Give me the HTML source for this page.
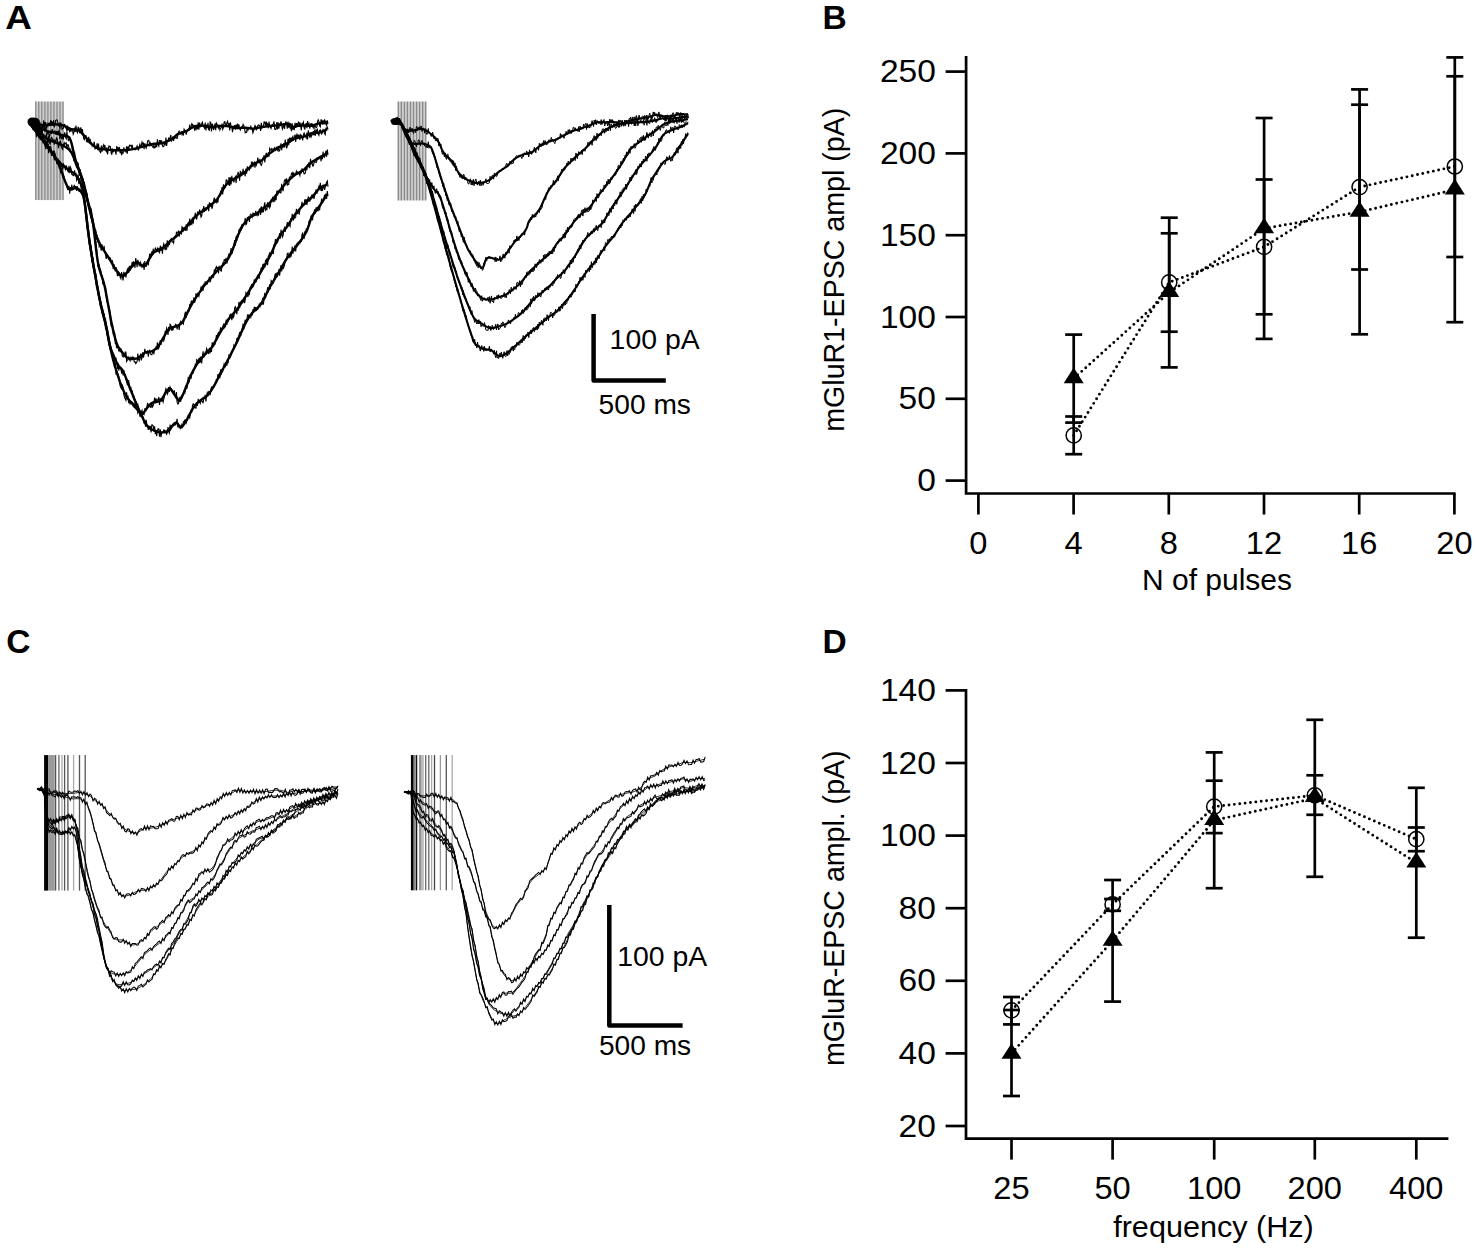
<!DOCTYPE html>
<html><head><meta charset="utf-8"><title>Figure</title>
<style>
html,body{margin:0;padding:0;background:#fff;}
body{width:1476px;height:1250px;overflow:hidden;}
svg{display:block;}
text{font-family:"Liberation Sans", sans-serif;fill:#000;}
</style></head><body>
<svg width="1476" height="1250" viewBox="0 0 1476 1250">
<rect width="1476" height="1250" fill="#fff"/>
<rect x="35.1" y="101.6" width="28.6" height="98.5" fill="#cfcfcf"/>
<line x1="35.8" y1="101.6" x2="35.8" y2="200.1" stroke="#8a8a8a" stroke-width="1.3"/>
<line x1="38.8" y1="101.6" x2="38.8" y2="200.1" stroke="#8a8a8a" stroke-width="1.3"/>
<line x1="41.8" y1="101.6" x2="41.8" y2="200.1" stroke="#8a8a8a" stroke-width="1.3"/>
<line x1="44.9" y1="101.6" x2="44.9" y2="200.1" stroke="#8a8a8a" stroke-width="1.3"/>
<line x1="47.9" y1="101.6" x2="47.9" y2="200.1" stroke="#8a8a8a" stroke-width="1.3"/>
<line x1="50.9" y1="101.6" x2="50.9" y2="200.1" stroke="#8a8a8a" stroke-width="1.3"/>
<line x1="53.9" y1="101.6" x2="53.9" y2="200.1" stroke="#8a8a8a" stroke-width="1.3"/>
<line x1="57.0" y1="101.6" x2="57.0" y2="200.1" stroke="#8a8a8a" stroke-width="1.3"/>
<line x1="60.0" y1="101.6" x2="60.0" y2="200.1" stroke="#8a8a8a" stroke-width="1.3"/>
<line x1="63.0" y1="101.6" x2="63.0" y2="200.1" stroke="#8a8a8a" stroke-width="1.3"/>
<rect x="397.6" y="101.6" width="28.8" height="98.8" fill="#cfcfcf"/>
<line x1="398.3" y1="101.6" x2="398.3" y2="200.4" stroke="#8a8a8a" stroke-width="1.3"/>
<line x1="401.3" y1="101.6" x2="401.3" y2="200.4" stroke="#8a8a8a" stroke-width="1.3"/>
<line x1="404.4" y1="101.6" x2="404.4" y2="200.4" stroke="#8a8a8a" stroke-width="1.3"/>
<line x1="407.4" y1="101.6" x2="407.4" y2="200.4" stroke="#8a8a8a" stroke-width="1.3"/>
<line x1="410.5" y1="101.6" x2="410.5" y2="200.4" stroke="#8a8a8a" stroke-width="1.3"/>
<line x1="413.5" y1="101.6" x2="413.5" y2="200.4" stroke="#8a8a8a" stroke-width="1.3"/>
<line x1="416.6" y1="101.6" x2="416.6" y2="200.4" stroke="#8a8a8a" stroke-width="1.3"/>
<line x1="419.6" y1="101.6" x2="419.6" y2="200.4" stroke="#8a8a8a" stroke-width="1.3"/>
<line x1="422.7" y1="101.6" x2="422.7" y2="200.4" stroke="#8a8a8a" stroke-width="1.3"/>
<line x1="425.7" y1="101.6" x2="425.7" y2="200.4" stroke="#8a8a8a" stroke-width="1.3"/>
<rect x="44.1" y="755.1" width="3.9" height="135.5" fill="#000"/>
<rect x="48.0" y="755.1" width="6.5" height="135.5" fill="#9a9a9a"/>
<line x1="55.5" y1="755.1" x2="55.5" y2="890.6" stroke="#555" stroke-width="1.5"/>
<line x1="58.9" y1="755.1" x2="58.9" y2="890.6" stroke="#666" stroke-width="1.3"/>
<line x1="62.0" y1="755.1" x2="62.0" y2="890.6" stroke="#aaa" stroke-width="1.3"/>
<line x1="64.6" y1="755.1" x2="64.6" y2="890.6" stroke="#555" stroke-width="1.3"/>
<line x1="67.9" y1="755.1" x2="67.9" y2="890.6" stroke="#555" stroke-width="1.3"/>
<line x1="73.6" y1="755.1" x2="73.6" y2="890.6" stroke="#aaa" stroke-width="1.3"/>
<line x1="79.5" y1="755.1" x2="79.5" y2="890.6" stroke="#555" stroke-width="1.3"/>
<line x1="85.2" y1="755.1" x2="85.2" y2="890.6" stroke="#555" stroke-width="1.3"/>
<rect x="410.9" y="755.1" width="2.8" height="135.2" fill="#000"/>
<rect x="413.7" y="755.1" width="2.1" height="135.2" fill="#888"/>
<line x1="416.6" y1="755.1" x2="416.6" y2="890.3" stroke="#111" stroke-width="1.3"/>
<line x1="420.0" y1="755.1" x2="420.0" y2="890.3" stroke="#666" stroke-width="1.4"/>
<rect x="421.0" y="755.1" width="2.8" height="135.2" fill="#bbb"/>
<line x1="425.7" y1="755.1" x2="425.7" y2="890.3" stroke="#666" stroke-width="1.3"/>
<line x1="428.8" y1="755.1" x2="428.8" y2="890.3" stroke="#666" stroke-width="1.3"/>
<line x1="431.6" y1="755.1" x2="431.6" y2="890.3" stroke="#aaa" stroke-width="1.3"/>
<line x1="434.5" y1="755.1" x2="434.5" y2="890.3" stroke="#444" stroke-width="1.3"/>
<line x1="440.4" y1="755.1" x2="440.4" y2="890.3" stroke="#999" stroke-width="1.3"/>
<line x1="446.3" y1="755.1" x2="446.3" y2="890.3" stroke="#555" stroke-width="1.3"/>
<line x1="452.2" y1="755.1" x2="452.2" y2="890.3" stroke="#aaa" stroke-width="1.3"/>
<path d="M29.0,122.0 30.0,122.2 31.0,122.5 32.0,122.8 33.0,123.2 34.0,123.6 35.0,124.0 36.0,124.3 37.0,124.5 38.0,124.7 39.0,124.8 40.0,124.9 41.0,125.0 42.0,125.1 43.0,125.1 44.0,125.2 45.0,125.3 46.0,125.3 47.0,125.2 48.0,125.1 49.0,125.0 50.0,124.9 51.0,124.7 52.0,124.6 53.0,124.4 54.0,124.2 55.0,124.3 56.0,124.4 57.0,124.5 58.0,124.6 59.0,124.7 60.0,124.8 61.0,125.0 62.0,125.1 63.0,125.5 64.0,125.9 65.0,126.3 66.0,126.8 67.0,127.3 68.0,127.8 69.0,128.4 70.0,129.0 71.0,129.3 72.0,129.3 73.0,129.4 74.0,129.5 75.0,129.6 76.0,129.7 77.0,129.9 78.0,130.0 79.0,130.4 80.0,131.3 81.0,132.3 82.0,133.3 83.0,134.3 84.0,135.3 85.0,136.4 86.0,137.6 87.0,138.8 88.0,139.9 89.0,141.0 90.0,142.1 91.0,143.2 92.0,144.3 93.0,145.2 94.0,146.1 95.0,146.9 96.0,147.5 97.0,147.9 98.0,148.3 99.0,148.6 100.0,148.8 101.0,148.9 102.0,149.1 103.0,149.2 104.0,149.3 105.0,149.4 106.0,149.6 107.0,149.7 108.0,149.8 109.0,149.8 110.0,149.9 111.0,149.9 112.0,150.0 113.0,150.1 114.0,150.1 115.0,150.2 116.0,150.2 117.0,150.3 118.0,150.3 119.0,150.3 120.0,150.3 121.0,150.3 122.0,150.3 123.0,150.3 124.0,150.2 125.0,150.2 126.0,150.1 127.0,150.0 128.0,149.8 129.0,149.7 130.0,149.6 131.0,149.4 132.0,149.3 133.0,149.1 134.0,148.9 135.0,148.7 136.0,148.5 137.0,148.3 138.0,148.0 139.0,147.7 140.0,147.4 141.0,147.1 142.0,146.8 143.0,146.5 144.0,146.2 145.0,145.9 146.0,145.6 147.0,145.3 148.0,145.1 149.0,144.8 150.0,144.6 151.0,144.4 152.0,144.1 153.0,143.9 154.0,143.7 155.0,143.7 156.0,143.6 157.0,143.6 158.0,143.5 159.0,143.5 160.0,143.4 161.0,143.3 162.0,143.2 163.0,142.9 164.0,142.5 165.0,142.1 166.0,141.8 167.0,141.4 168.0,141.0 169.0,140.5 170.0,140.1 171.0,139.6 172.0,139.0 173.0,138.3 174.0,137.5 175.0,136.5 176.0,135.5 177.0,134.6 178.0,134.0 179.0,133.5 180.0,133.2 181.0,132.9 182.0,132.5 183.0,132.1 184.0,131.8 185.0,131.4 186.0,131.1 187.0,130.8 188.0,130.1 189.0,129.4 190.0,128.8 191.0,128.3 192.0,127.7 193.0,127.2 194.0,126.7 195.0,126.2 196.0,126.0 197.0,125.9 198.0,125.8 199.0,125.8 200.0,125.7 201.0,125.7 202.0,125.6 203.0,125.6 204.0,125.7 205.0,125.9 206.0,126.1 207.0,126.4 208.0,126.6 209.0,126.8 210.0,127.1 211.0,127.3 212.0,127.4 213.0,127.2 214.0,127.0 215.0,126.8 216.0,126.6 217.0,126.4 218.0,126.2 219.0,126.0 220.0,125.9 221.0,125.9 222.0,125.9 223.0,126.0 224.0,126.0 225.0,126.1 226.0,126.1 227.0,126.1 228.0,126.2 229.0,126.4 230.0,126.6 231.0,126.8 232.0,127.1 233.0,127.3 234.0,127.5 235.0,127.7 236.0,128.0 237.0,128.1 238.0,128.1 239.0,128.0 240.0,128.0 241.0,127.9 242.0,127.9 243.0,127.8 244.0,127.8 245.0,127.7 246.0,127.8 247.0,128.0 248.0,128.1 249.0,128.3 250.0,128.4 251.0,128.5 252.0,128.6 253.0,128.8 254.0,128.6 255.0,128.4 256.0,128.2 257.0,128.0 258.0,127.8 259.0,127.6 260.0,127.4 261.0,127.2 262.0,127.0 263.0,126.9 264.0,126.8 265.0,126.6 266.0,126.5 267.0,126.4 268.0,126.2 269.0,126.1 270.0,126.0 271.0,125.9 272.0,125.8 273.0,125.7 274.0,125.6 275.0,125.5 276.0,125.4 277.0,125.4 278.0,125.3 279.0,125.1 280.0,125.0 281.0,124.8 282.0,124.6 283.0,124.5 284.0,124.4 285.0,124.2 286.0,124.1 287.0,124.0 288.0,124.0 289.0,124.0 290.0,124.2 291.0,125.1 292.0,128.2 293.0,127.7 294.0,127.1 295.0,126.7 296.0,126.4 297.0,126.1 298.0,125.9 299.0,125.8 300.0,125.7 301.0,125.6 302.0,125.5 303.0,125.4 304.0,125.4 305.0,125.5 306.0,125.6 307.0,125.6 308.0,125.7 309.0,125.8 310.0,125.8 311.0,125.9 312.0,125.7 313.0,125.4 314.0,125.0 315.0,124.7 316.0,124.3 317.0,124.0 318.0,123.7 319.0,123.3 320.0,123.0 321.0,123.0 322.0,122.9 323.0,122.9 324.0,122.8 325.0,122.7 326.0,122.7 327.0,122.6" fill="none" stroke="#000" stroke-width="2.40" stroke-linejoin="round"/><path d="M29.0,121.9 29.7,121.2 30.4,122.2 31.1,122.8 31.8,124.3 32.5,124.0 33.2,125.4 33.9,121.8 34.6,121.4 35.3,123.7 36.0,126.4 36.7,122.3 37.4,128.8 38.1,123.2 38.8,127.4 39.5,124.5 40.2,126.5 40.9,123.6 41.6,125.7 42.3,129.0 43.0,126.7 43.7,120.3 44.4,127.9 45.1,122.6 45.8,122.5 46.5,128.4 47.2,125.8 48.0,123.2 48.7,124.0 49.4,123.2 50.1,125.3 50.8,120.0 51.5,123.7 52.2,121.5 52.9,125.7 53.6,120.1 54.3,127.3 55.0,124.9 55.7,120.3 56.4,119.8 57.1,120.1 57.8,122.1 58.5,125.3 59.2,123.9 59.9,129.4 60.6,122.5 61.3,124.2 62.0,129.4 62.7,128.2 63.4,128.2 64.1,124.4 64.8,124.5 65.5,127.6 66.2,126.6 66.9,131.5 67.6,125.6 68.3,130.4 69.0,127.0 69.7,132.3 70.4,129.0 71.1,130.9 71.8,129.1 72.5,129.9 73.2,134.2 73.9,132.5 74.6,127.7 75.3,131.9 76.0,125.5 76.7,131.3 77.4,132.6 78.1,126.9 78.8,128.7 79.5,133.1 80.2,127.9 80.9,127.8 81.6,132.2 82.3,129.0 83.0,134.1 83.7,138.6 84.4,139.7 85.2,136.0 85.9,135.6 86.6,142.1 87.3,138.9 88.0,142.7 88.7,136.9 89.4,143.6 90.1,138.8 90.8,143.9 91.5,142.9 92.2,146.0 92.9,144.4 93.6,144.3 94.3,141.7 95.0,149.4 95.7,145.9 96.4,148.8 97.1,143.3 97.8,150.1 98.5,143.6 99.2,150.8 99.9,151.0 100.6,153.2 101.3,145.5 102.0,151.7 102.7,147.4 103.4,145.0 104.1,147.6 104.8,144.9 105.5,149.9 106.2,151.4 106.9,147.4 107.6,154.4 108.3,148.7 109.0,146.0 109.7,146.8 110.4,146.6 111.1,152.8 111.8,154.8 112.5,148.6 113.2,151.8 113.9,151.0 114.6,149.8 115.3,151.1 116.0,154.7 116.7,146.2 117.4,150.8 118.1,147.6 118.8,148.3 119.5,147.7 120.2,153.3 120.9,149.0 121.6,155.1 122.3,152.3 123.1,153.1 123.8,147.4 124.5,149.4 125.2,150.5 125.9,151.8 126.6,146.4 127.3,153.8 128.0,146.4 128.7,150.2 129.4,145.2 130.1,145.8 130.8,145.2 131.5,147.1 132.2,144.8 132.9,148.8 133.6,148.7 134.3,149.1 135.0,149.8 135.7,149.6 136.4,147.6 137.1,145.8 137.8,147.8 138.5,150.5 139.2,146.9 139.9,144.3 140.6,146.9 141.3,145.7 142.0,142.2 142.7,144.2 143.4,142.5 144.1,149.1 144.8,143.2 145.5,146.5 146.2,148.1 146.9,145.7 147.6,141.4 148.3,140.2 149.0,140.7 149.7,145.0 150.4,143.1 151.1,145.6 151.8,144.7 152.5,146.8 153.2,147.6 153.9,145.0 154.6,147.9 155.3,147.4 156.0,144.2 156.7,147.2 157.4,139.3 158.1,144.3 158.8,146.0 159.5,140.5 160.3,140.6 161.0,142.9 161.7,140.3 162.4,145.9 163.1,146.8 163.8,146.4 164.5,141.0 165.2,145.4 165.9,137.6 166.6,145.9 167.3,140.6 168.0,141.2 168.7,137.7 169.4,141.3 170.1,137.5 170.8,135.0 171.5,140.9 172.2,139.9 172.9,136.4 173.6,140.8 174.3,136.7 175.0,138.1 175.7,136.4 176.4,138.1 177.1,138.5 177.8,135.7 178.5,132.1 179.2,131.1 179.9,134.1 180.6,134.0 181.3,131.4 182.0,134.4 182.7,132.6 183.4,135.5 184.1,129.1 184.8,130.2 185.5,130.9 186.2,134.7 186.9,131.4 187.6,131.0 188.3,129.3 189.0,129.9 189.7,124.6 190.4,129.7 191.1,126.9 191.8,123.8 192.5,124.6 193.2,127.9 193.9,124.9 194.6,130.7 195.3,127.7 196.0,129.3 196.7,126.4 197.5,129.3 198.2,122.2 198.9,129.7 199.6,122.6 200.3,127.2 201.0,125.3 201.7,123.4 202.4,122.1 203.1,126.4 203.8,126.8 204.5,128.2 205.2,122.5 205.9,130.5 206.6,125.7 207.3,127.2 208.0,122.8 208.7,129.7 209.4,130.2 210.1,122.1 210.8,122.6 211.5,131.5 212.2,123.7 212.9,125.6 213.6,130.0 214.3,127.7 215.0,123.3 215.7,130.2 216.4,123.2 217.1,124.5 217.8,124.7 218.5,127.9 219.2,125.7 219.9,129.9 220.6,128.3 221.3,127.5 222.0,123.5 222.7,129.3 223.4,127.6 224.1,122.1 224.8,121.6 225.5,124.5 226.2,125.5 226.9,122.6 227.6,121.2 228.3,125.5 229.0,123.1 229.7,130.5 230.4,122.2 231.1,127.4 231.8,126.6 232.5,132.1 233.2,126.8 233.9,128.3 234.7,125.1 235.4,129.7 236.1,124.5 236.8,128.9 237.5,123.6 238.2,129.0 238.9,124.4 239.6,128.4 240.3,130.0 241.0,128.2 241.7,126.6 242.4,126.6 243.1,124.5 243.8,125.8 244.5,128.1 245.2,132.7 245.9,132.1 246.6,132.4 247.3,127.0 248.0,129.8 248.7,127.3 249.4,127.7 250.1,128.1 250.8,126.3 251.5,128.0 252.2,129.4 252.9,132.9 253.6,130.8 254.3,127.8 255.0,125.4 255.7,127.2 256.4,130.5 257.1,126.8 257.8,125.6 258.5,124.9 259.2,125.2 259.9,125.8 260.6,131.0 261.3,122.9 262.0,127.8 262.7,126.3 263.4,126.3 264.1,121.9 264.8,122.0 265.5,125.6 266.2,121.7 266.9,125.5 267.6,124.1 268.3,128.3 269.0,121.6 269.7,125.7 270.4,127.2 271.1,128.5 271.8,125.4 272.6,124.8 273.3,123.7 274.0,121.3 274.7,129.1 275.4,129.5 276.1,129.0 276.8,122.1 277.5,129.4 278.2,122.2 278.9,128.6 279.6,123.8 280.3,124.2 281.0,121.3 281.7,125.4 282.4,129.1 283.1,127.1 283.8,123.0 284.5,128.9 285.2,123.5 285.9,121.9 286.6,123.6 287.3,128.8 288.0,121.5 288.7,127.8 289.4,122.9 290.1,128.1 290.8,127.9 291.5,131.3 292.2,123.4 292.9,129.6 293.6,125.6 294.3,130.1 295.0,122.7 295.7,127.8 296.4,123.2 297.1,127.0 297.8,123.5 298.5,122.2 299.2,125.4 299.9,122.3 300.6,125.3 301.3,130.3 302.0,123.4 302.7,123.7 303.4,122.1 304.1,127.7 304.8,128.9 305.5,125.1 306.2,123.1 306.9,128.1 307.6,121.1 308.3,125.4 309.0,123.8 309.8,128.7 310.5,123.5 311.2,126.3 311.9,123.2 312.6,126.5 313.3,124.5 314.0,129.3 314.7,124.0 315.4,126.5 316.1,127.8 316.8,127.3 317.5,121.4 318.2,119.8 318.9,121.4 319.6,125.9 320.3,126.9 321.0,119.9 321.7,120.0 322.4,124.6 323.1,120.4 323.8,124.5 324.5,119.3 325.2,124.3 325.9,120.7 326.6,126.2 327.3,120.4 328.0,123.9" fill="none" stroke="#000" stroke-width="1.10" stroke-linejoin="miter" stroke-miterlimit="4"/>
<path d="M29.0,122.0 30.0,122.7 31.0,123.4 32.0,124.0 33.0,124.5 34.0,125.0 35.0,125.4 36.0,125.7 37.0,126.0 38.0,126.5 39.0,127.1 40.0,127.7 41.0,128.2 42.0,128.8 43.0,129.3 44.0,129.8 45.0,130.3 46.0,130.7 47.0,131.1 48.0,131.4 49.0,131.6 50.0,131.9 51.0,132.0 52.0,132.1 53.0,132.2 54.0,132.3 55.0,132.7 56.0,133.1 57.0,133.5 58.0,133.9 59.0,134.3 60.0,134.6 61.0,135.0 62.0,135.4 63.0,135.5 64.0,135.5 65.0,135.7 66.0,135.9 67.0,136.1 68.0,136.5 69.0,137.0 70.0,138.9 71.0,141.5 72.0,145.1 73.0,149.5 74.0,153.9 75.0,157.9 76.0,161.3 77.0,164.3 78.0,167.2 79.0,170.0 80.0,172.9 81.0,175.9 82.0,179.3 83.0,182.9 84.0,186.6 85.0,190.5 86.0,194.6 87.0,198.8 88.0,203.0 89.0,207.2 90.0,211.4 91.0,215.5 92.0,219.3 93.0,223.1 94.0,227.0 95.0,230.7 96.0,234.1 97.0,237.2 98.0,239.7 99.0,242.0 100.0,244.0 101.0,245.8 102.0,247.5 103.0,249.1 104.0,250.6 105.0,252.2 106.0,253.7 107.0,255.2 108.0,256.7 109.0,258.3 110.0,260.0 111.0,261.7 112.0,263.4 113.0,265.1 114.0,266.8 115.0,268.4 116.0,269.9 117.0,271.3 118.0,272.6 119.0,273.7 120.0,274.7 121.0,275.3 122.0,275.5 123.0,275.5 124.0,275.1 125.0,274.5 126.0,273.7 127.0,272.7 128.0,271.6 129.0,270.4 130.0,269.1 131.0,267.8 132.0,266.5 133.0,265.3 134.0,264.2 135.0,263.2 136.0,262.6 137.0,262.3 138.0,262.5 139.0,263.2 140.0,264.2 141.0,265.3 142.0,266.1 143.0,266.4 144.0,266.1 145.0,265.4 146.0,264.3 147.0,262.8 148.0,261.1 149.0,259.5 150.0,257.8 151.0,256.2 152.0,254.7 153.0,253.4 154.0,252.3 155.0,251.8 156.0,251.3 157.0,250.9 158.0,250.6 159.0,250.2 160.0,249.9 161.0,249.6 162.0,249.2 163.0,248.2 164.0,247.2 165.0,246.2 166.0,245.2 167.0,244.2 168.0,243.1 169.0,242.1 170.0,241.0 171.0,240.3 172.0,239.6 173.0,238.9 174.0,238.1 175.0,237.3 176.0,236.5 177.0,235.6 178.0,234.7 179.0,233.8 180.0,233.0 181.0,232.1 182.0,231.2 183.0,230.2 184.0,229.2 185.0,228.2 186.0,227.2 187.0,226.1 188.0,224.9 189.0,223.7 190.0,222.5 191.0,221.3 192.0,220.2 193.0,219.1 194.0,218.0 195.0,217.1 196.0,216.1 197.0,215.2 198.0,214.4 199.0,213.6 200.0,212.9 201.0,212.2 202.0,211.5 203.0,210.8 204.0,210.1 205.0,209.4 206.0,208.7 207.0,207.9 208.0,207.2 209.0,206.4 210.0,205.7 211.0,204.9 212.0,204.0 213.0,203.2 214.0,202.3 215.0,201.4 216.0,200.3 217.0,199.2 218.0,197.9 219.0,196.4 220.0,194.8 221.0,193.2 222.0,191.4 223.0,189.6 224.0,188.0 225.0,186.4 226.0,184.9 227.0,183.6 228.0,182.4 229.0,181.5 230.0,180.9 231.0,180.4 232.0,179.8 233.0,179.4 234.0,178.9 235.0,178.4 236.0,178.0 237.0,177.5 238.0,176.8 239.0,176.1 240.0,175.4 241.0,174.8 242.0,174.1 243.0,173.4 244.0,172.8 245.0,172.1 246.0,171.1 247.0,170.1 248.0,169.1 249.0,168.1 250.0,167.1 251.0,166.1 252.0,165.2 253.0,164.2 254.0,163.6 255.0,163.2 256.0,162.8 257.0,162.4 258.0,162.0 259.0,161.6 260.0,161.2 261.0,160.8 262.0,160.2 263.0,159.3 264.0,158.4 265.0,157.5 266.0,156.6 267.0,155.7 268.0,154.8 269.0,153.9 270.0,153.1 271.0,152.4 272.0,151.7 273.0,151.0 274.0,150.3 275.0,149.6 276.0,148.9 277.0,148.3 278.0,147.6 279.0,147.1 280.0,146.6 281.0,146.1 282.0,145.7 283.0,145.2 284.0,144.8 285.0,144.3 286.0,143.9 287.0,143.4 288.0,142.7 289.0,142.0 290.0,141.4 291.0,140.7 292.0,140.1 293.0,139.5 294.0,138.8 295.0,138.3 296.0,138.1 297.0,138.0 298.0,137.8 299.0,137.6 300.0,137.4 301.0,137.3 302.0,137.1 303.0,137.0 304.0,136.5 305.0,136.1 306.0,135.7 307.0,135.2 308.0,134.8 309.0,134.4 310.0,133.9 311.0,133.5 312.0,133.3 313.0,133.2 314.0,133.1 315.0,133.0 316.0,132.9 317.0,132.8 318.0,132.7 319.0,132.6 320.0,132.4 321.0,132.0 322.0,131.6 323.0,131.2 324.0,130.7 325.0,130.3 326.0,129.9 327.0,129.4" fill="none" stroke="#000" stroke-width="2.40" stroke-linejoin="round"/><path d="M29.0,121.0 29.7,121.4 30.4,123.3 31.1,123.2 31.8,125.5 32.5,123.3 33.2,124.9 33.9,125.1 34.6,121.8 35.3,123.4 36.0,125.4 36.7,123.8 37.4,128.4 38.1,124.8 38.8,131.7 39.5,132.1 40.2,127.2 40.9,127.5 41.6,130.3 42.3,132.9 43.0,126.5 43.7,126.3 44.4,127.5 45.1,131.3 45.8,126.8 46.5,130.7 47.2,134.4 48.0,130.5 48.7,133.6 49.4,136.6 50.1,134.2 50.8,131.6 51.5,133.9 52.2,129.1 52.9,132.6 53.6,133.3 54.3,132.7 55.0,130.3 55.7,134.6 56.4,131.1 57.1,134.8 57.8,130.8 58.5,133.3 59.2,129.9 59.9,139.3 60.6,132.7 61.3,137.1 62.0,139.5 62.7,134.3 63.4,139.3 64.1,134.4 64.8,132.3 65.5,137.1 66.2,138.6 66.9,131.6 67.6,136.7 68.3,140.4 69.0,139.4 69.7,139.8 70.4,138.5 71.1,142.3 71.8,143.3 72.5,150.1 73.2,150.0 73.9,156.6 74.6,151.7 75.3,164.0 76.0,165.7 76.7,167.4 77.4,164.8 78.1,162.7 78.8,168.6 79.5,175.7 80.2,169.3 80.9,178.5 81.6,180.3 82.3,181.3 83.0,185.3 83.7,184.4 84.4,187.8 85.2,190.6 85.9,190.2 86.6,201.4 87.3,199.2 88.0,203.0 88.7,204.7 89.4,209.3 90.1,212.5 90.8,217.1 91.5,215.5 92.2,218.1 92.9,221.8 93.6,222.4 94.3,229.3 95.0,232.3 95.7,231.0 96.4,239.7 97.1,236.4 97.8,242.5 98.5,239.6 99.2,246.7 99.9,245.4 100.6,247.3 101.3,250.6 102.0,244.4 102.7,248.1 103.4,250.3 104.1,245.8 104.8,252.2 105.5,254.2 106.2,258.8 106.9,254.8 107.6,256.8 108.3,256.3 109.0,258.8 109.7,257.5 110.4,258.0 111.1,260.6 111.8,262.6 112.5,260.4 113.2,269.3 113.9,264.2 114.6,268.4 115.3,271.3 116.0,267.1 116.7,269.1 117.4,276.1 118.1,271.1 118.8,275.8 119.5,273.7 120.2,277.4 120.9,278.8 121.6,272.1 122.3,276.6 123.1,280.4 123.8,271.9 124.5,276.6 125.2,272.6 125.9,277.5 126.6,272.4 127.3,269.5 128.0,268.3 128.7,273.0 129.4,265.7 130.1,271.0 130.8,266.1 131.5,266.0 132.2,261.8 132.9,266.7 133.6,261.4 134.3,265.6 135.0,267.8 135.7,258.1 136.4,262.2 137.1,267.3 137.8,259.8 138.5,262.4 139.2,265.5 139.9,264.4 140.6,262.4 141.3,266.4 142.0,264.6 142.7,265.1 143.4,263.7 144.1,270.0 144.8,261.0 145.5,266.3 146.2,266.5 146.9,263.1 147.6,263.3 148.3,265.4 149.0,258.9 149.7,254.0 150.4,254.1 151.1,257.2 151.8,251.3 152.5,255.2 153.2,248.7 153.9,252.8 154.6,251.4 155.3,248.1 156.0,249.4 156.7,250.4 157.4,248.5 158.1,251.7 158.8,247.9 159.5,253.5 160.3,245.7 161.0,250.0 161.7,246.8 162.4,253.8 163.1,246.2 163.8,243.8 164.5,246.3 165.2,250.2 165.9,247.9 166.6,248.9 167.3,240.2 168.0,247.3 168.7,242.1 169.4,245.0 170.1,241.8 170.8,239.3 171.5,238.6 172.2,242.1 172.9,241.8 173.6,243.0 174.3,237.7 175.0,236.5 175.7,238.3 176.4,232.3 177.1,233.1 177.8,232.7 178.5,230.6 179.2,236.6 179.9,231.9 180.6,232.9 181.3,233.8 182.0,226.9 182.7,227.8 183.4,230.2 184.1,227.2 184.8,230.0 185.5,230.3 186.2,224.3 186.9,230.9 187.6,223.9 188.3,222.7 189.0,226.4 189.7,218.5 190.4,225.2 191.1,223.2 191.8,224.2 192.5,217.5 193.2,223.6 193.9,216.9 194.6,216.8 195.3,212.8 196.0,217.3 196.7,219.5 197.5,212.1 198.2,212.0 198.9,214.2 199.6,209.5 200.3,212.3 201.0,217.0 201.7,216.0 202.4,210.0 203.1,211.4 203.8,206.0 204.5,211.9 205.2,208.7 205.9,210.9 206.6,207.2 207.3,209.4 208.0,204.3 208.7,211.1 209.4,202.3 210.1,206.3 210.8,203.0 211.5,206.6 212.2,208.8 212.9,203.7 213.6,200.5 214.3,197.6 215.0,203.0 215.7,199.6 216.4,202.3 217.1,200.4 217.8,202.7 218.5,197.6 219.2,195.2 219.9,195.4 220.6,190.5 221.3,193.8 222.0,187.0 222.7,194.5 223.4,184.3 224.1,186.7 224.8,186.8 225.5,187.2 226.2,179.8 226.9,180.1 227.6,182.4 228.3,185.2 229.0,177.0 229.7,185.9 230.4,177.4 231.1,184.4 231.8,175.9 232.5,181.1 233.2,178.7 233.9,182.3 234.7,178.0 235.4,176.7 236.1,183.0 236.8,175.2 237.5,174.9 238.2,172.0 238.9,175.0 239.6,180.7 240.3,170.8 241.0,176.3 241.7,173.0 242.4,174.4 243.1,168.9 243.8,173.7 244.5,172.7 245.2,176.3 245.9,168.6 246.6,173.6 247.3,166.4 248.0,169.5 248.7,168.9 249.4,169.9 250.1,166.7 250.8,168.5 251.5,162.2 252.2,162.0 252.9,167.0 253.6,164.1 254.3,162.5 255.0,167.6 255.7,162.4 256.4,165.0 257.1,162.7 257.8,157.5 258.5,161.1 259.2,163.3 259.9,158.9 260.6,164.3 261.3,165.3 262.0,163.6 262.7,158.1 263.4,158.5 264.1,155.0 264.8,162.5 265.5,156.8 266.2,152.8 266.9,155.0 267.6,157.1 268.3,152.3 269.0,156.7 269.7,148.4 270.4,149.6 271.1,150.6 271.8,148.5 272.6,149.3 273.3,149.0 274.0,148.8 274.7,147.7 275.4,150.5 276.1,149.9 276.8,147.8 277.5,149.8 278.2,146.3 278.9,151.2 279.6,150.9 280.3,147.9 281.0,143.4 281.7,150.2 282.4,144.0 283.1,147.6 283.8,143.0 284.5,147.5 285.2,139.5 285.9,144.6 286.6,148.4 287.3,146.2 288.0,138.9 288.7,145.1 289.4,137.6 290.1,142.7 290.8,137.6 291.5,141.5 292.2,137.7 292.9,136.4 293.6,139.9 294.3,139.0 295.0,134.6 295.7,142.0 296.4,135.0 297.1,136.6 297.8,134.8 298.5,138.1 299.2,134.5 299.9,140.0 300.6,134.6 301.3,135.3 302.0,136.2 302.7,140.4 303.4,134.8 304.1,133.0 304.8,134.7 305.5,136.3 306.2,137.9 306.9,132.5 307.6,139.5 308.3,130.3 309.0,134.0 309.8,137.7 310.5,132.7 311.2,136.7 311.9,134.9 312.6,134.6 313.3,131.1 314.0,135.4 314.7,129.8 315.4,135.8 316.1,129.8 316.8,131.2 317.5,129.7 318.2,134.1 318.9,135.3 319.6,130.6 320.3,129.8 321.0,131.8 321.7,133.9 322.4,132.3 323.1,129.5 323.8,130.4 324.5,133.5 325.2,134.6 325.9,128.4 326.6,129.1 327.3,126.5 328.0,129.6" fill="none" stroke="#000" stroke-width="1.10" stroke-linejoin="miter" stroke-miterlimit="4"/>
<path d="M29.0,122.0 30.0,122.9 31.0,123.7 32.0,124.5 33.0,125.3 34.0,126.1 35.0,126.8 36.0,127.5 37.0,128.3 38.0,129.3 39.0,130.5 40.0,131.6 41.0,132.7 42.0,133.9 43.0,135.0 44.0,136.1 45.0,137.2 46.0,138.1 47.0,138.7 48.0,139.2 49.0,139.7 50.0,140.2 51.0,140.7 52.0,141.1 53.0,141.4 54.0,141.8 55.0,142.3 56.0,142.7 57.0,143.1 58.0,143.5 59.0,143.9 60.0,144.3 61.0,144.7 62.0,145.1 63.0,145.6 64.0,146.2 65.0,146.7 66.0,147.3 67.0,147.9 68.0,148.7 69.0,149.5 70.0,150.6 71.0,152.0 72.0,153.7 73.0,155.8 74.0,158.0 75.0,160.3 76.0,162.7 77.0,165.1 78.0,167.4 79.0,169.7 80.0,172.3 81.0,175.0 82.0,178.0 83.0,181.3 84.0,184.9 85.0,188.9 86.0,193.2 87.0,197.5 88.0,201.5 89.0,205.2 90.0,208.8 91.0,212.8 92.0,217.5 93.0,223.4 94.0,231.1 95.0,239.7 96.0,248.5 97.0,256.6 98.0,263.0 99.0,267.6 100.0,271.2 101.0,274.3 102.0,277.1 103.0,280.0 104.0,283.5 105.0,288.0 106.0,293.0 107.0,298.5 108.0,304.0 109.0,309.3 110.0,314.8 111.0,320.3 112.0,325.4 113.0,329.6 114.0,333.8 115.0,337.9 116.0,341.4 117.0,344.3 118.0,346.5 119.0,348.1 120.0,349.3 121.0,350.7 122.0,352.1 123.0,353.3 124.0,354.5 125.0,355.6 126.0,356.7 127.0,357.6 128.0,358.2 129.0,358.5 130.0,358.7 131.0,358.8 132.0,358.8 133.0,358.8 134.0,358.8 135.0,358.7 136.0,358.6 137.0,358.5 138.0,357.8 139.0,357.1 140.0,356.4 141.0,355.7 142.0,355.0 143.0,354.2 144.0,353.4 145.0,352.6 146.0,352.3 147.0,352.2 148.0,352.0 149.0,351.8 150.0,351.6 151.0,351.4 152.0,351.1 153.0,350.7 154.0,350.2 155.0,349.3 156.0,348.4 157.0,347.4 158.0,346.3 159.0,345.0 160.0,343.5 161.0,342.0 162.0,340.3 163.0,338.4 164.0,336.6 165.0,334.9 166.0,333.2 167.0,331.7 168.0,330.4 169.0,329.2 170.0,328.2 171.0,327.7 172.0,327.4 173.0,327.1 174.0,326.8 175.0,326.6 176.0,326.3 177.0,326.0 178.0,325.6 179.0,325.1 180.0,324.3 181.0,323.4 182.0,322.3 183.0,321.0 184.0,319.4 185.0,317.7 186.0,315.7 187.0,313.7 188.0,311.6 189.0,309.5 190.0,307.5 191.0,305.6 192.0,303.8 193.0,302.1 194.0,300.6 195.0,299.2 196.0,297.7 197.0,296.1 198.0,294.6 199.0,293.1 200.0,291.6 201.0,290.2 202.0,288.7 203.0,287.3 204.0,286.0 205.0,284.8 206.0,283.6 207.0,282.4 208.0,281.3 209.0,280.1 210.0,278.9 211.0,277.8 212.0,276.6 213.0,275.3 214.0,274.2 215.0,273.1 216.0,272.0 217.0,271.0 218.0,270.0 219.0,269.0 220.0,268.0 221.0,267.1 222.0,266.1 223.0,265.1 224.0,264.1 225.0,262.9 226.0,261.7 227.0,260.3 228.0,258.9 229.0,257.2 230.0,255.3 231.0,253.2 232.0,250.9 233.0,248.5 234.0,245.9 235.0,243.1 236.0,240.4 237.0,237.7 238.0,235.3 239.0,233.0 240.0,230.8 241.0,228.8 242.0,226.9 243.0,225.2 244.0,223.7 245.0,222.5 246.0,221.1 247.0,220.0 248.0,219.0 249.0,218.1 250.0,217.4 251.0,216.8 252.0,216.3 253.0,215.8 254.0,215.2 255.0,214.6 256.0,213.9 257.0,213.2 258.0,212.5 259.0,211.7 260.0,210.9 261.0,210.0 262.0,209.2 263.0,208.6 264.0,207.8 265.0,207.1 266.0,206.2 267.0,205.3 268.0,204.4 269.0,203.5 270.0,202.5 271.0,201.3 272.0,200.1 273.0,198.9 274.0,197.7 275.0,196.4 276.0,195.2 277.0,194.0 278.0,192.7 279.0,191.5 280.0,190.3 281.0,189.0 282.0,187.8 283.0,186.6 284.0,185.4 285.0,184.3 286.0,183.1 287.0,182.0 288.0,181.0 289.0,180.1 290.0,179.1 291.0,178.2 292.0,177.3 293.0,176.4 294.0,175.6 295.0,174.8 296.0,174.2 297.0,173.6 298.0,173.1 299.0,172.6 300.0,172.0 301.0,171.5 302.0,171.0 303.0,170.5 304.0,169.6 305.0,168.5 306.0,167.5 307.0,166.5 308.0,165.6 309.0,164.6 310.0,163.6 311.0,162.6 312.0,161.9 313.0,161.3 314.0,160.7 315.0,160.1 316.0,159.5 317.0,158.9 318.0,158.3 319.0,157.7 320.0,157.1 321.0,156.5 322.0,156.0 323.0,155.4 324.0,154.9 325.0,154.3 326.0,153.8 327.0,153.2" fill="none" stroke="#000" stroke-width="2.40" stroke-linejoin="round"/><path d="M29.0,121.7 29.7,123.6 30.4,123.4 31.1,122.9 31.8,125.7 32.5,126.7 33.2,128.0 33.9,128.0 34.6,129.9 35.3,127.9 36.0,129.5 36.7,127.2 37.4,129.1 38.1,127.6 38.8,126.9 39.5,127.4 40.2,132.1 40.9,128.0 41.6,132.4 42.3,133.0 43.0,139.0 43.7,140.2 44.4,140.0 45.1,138.7 45.8,136.0 46.5,134.4 47.2,140.3 48.0,143.0 48.7,135.9 49.4,141.9 50.1,144.6 50.8,138.9 51.5,137.4 52.2,138.2 52.9,142.8 53.6,139.3 54.3,144.6 55.0,139.9 55.7,142.0 56.4,137.9 57.1,138.4 57.8,143.1 58.5,148.3 59.2,141.6 59.9,143.7 60.6,140.6 61.3,146.6 62.0,148.4 62.7,149.4 63.4,143.5 64.1,145.9 64.8,142.7 65.5,143.8 66.2,143.0 66.9,146.8 67.6,144.7 68.3,144.7 69.0,148.1 69.7,152.0 70.4,149.7 71.1,152.4 71.8,152.4 72.5,156.1 73.2,156.7 73.9,161.4 74.6,157.6 75.3,163.6 76.0,161.6 76.7,162.9 77.4,162.5 78.1,169.7 78.8,171.9 79.5,169.3 80.2,170.4 80.9,179.2 81.6,175.7 82.3,181.3 83.0,178.3 83.7,183.5 84.4,181.9 85.2,191.7 85.9,191.5 86.6,192.0 87.3,194.7 88.0,204.2 88.7,208.4 89.4,206.0 90.1,211.3 90.8,208.3 91.5,210.4 92.2,221.3 92.9,219.9 93.6,229.2 94.3,230.8 95.0,241.9 95.7,241.3 96.4,247.8 97.1,253.8 97.8,266.3 98.5,265.8 99.2,264.8 99.9,268.9 100.6,269.6 101.3,273.9 102.0,275.1 102.7,283.1 103.4,281.6 104.1,282.7 104.8,289.1 105.5,286.3 106.2,295.2 106.9,301.9 107.6,302.9 108.3,304.4 109.0,306.9 109.7,310.3 110.4,321.4 111.1,325.1 111.8,323.4 112.5,324.1 113.2,333.4 113.9,331.9 114.6,332.8 115.3,343.5 116.0,343.6 116.7,348.1 117.4,345.9 118.1,347.4 118.8,351.4 119.5,347.5 120.2,352.2 120.9,348.5 121.6,351.0 122.3,356.1 123.1,356.9 123.8,354.9 124.5,356.1 125.2,352.0 125.9,352.1 126.6,361.4 127.3,359.9 128.0,359.7 128.7,356.5 129.4,359.3 130.1,360.8 130.8,357.8 131.5,359.5 132.2,357.3 132.9,359.2 133.6,356.8 134.3,362.0 135.0,361.7 135.7,363.5 136.4,362.9 137.1,361.3 137.8,353.6 138.5,359.4 139.2,360.8 139.9,357.7 140.6,353.7 141.3,360.4 142.0,357.6 142.7,352.2 143.4,357.6 144.1,354.6 144.8,348.8 145.5,352.1 146.2,353.3 146.9,351.4 147.6,351.0 148.3,356.6 149.0,351.5 149.7,350.4 150.4,354.0 151.1,354.6 151.8,354.8 152.5,352.5 153.2,349.7 153.9,354.3 154.6,349.1 155.3,349.4 156.0,347.4 156.7,349.8 157.4,342.3 158.1,349.5 158.8,347.7 159.5,346.5 160.3,340.0 161.0,344.9 161.7,339.5 162.4,340.1 163.1,337.5 163.8,340.7 164.5,338.6 165.2,330.8 165.9,333.1 166.6,328.0 167.3,329.7 168.0,334.9 168.7,326.9 169.4,331.2 170.1,324.2 170.8,325.0 171.5,330.6 172.2,328.0 172.9,329.8 173.6,328.4 174.3,326.3 175.0,326.0 175.7,324.3 176.4,325.1 177.1,329.5 177.8,325.1 178.5,325.2 179.2,329.9 179.9,323.1 180.6,321.5 181.3,323.9 182.0,323.1 182.7,323.1 183.4,324.1 184.1,318.9 184.8,314.0 185.5,311.7 186.2,317.7 186.9,312.3 187.6,311.4 188.3,310.2 189.0,310.8 189.7,304.0 190.4,306.9 191.1,301.6 191.8,301.0 192.5,302.6 193.2,301.4 193.9,297.3 194.6,302.8 195.3,300.0 196.0,293.4 196.7,295.6 197.5,293.6 198.2,294.9 198.9,296.2 199.6,291.8 200.3,292.0 201.0,286.6 201.7,291.4 202.4,285.2 203.1,290.6 203.8,283.6 204.5,286.3 205.2,281.4 205.9,284.3 206.6,284.1 207.3,284.0 208.0,280.8 208.7,281.0 209.4,276.7 210.1,282.3 210.8,279.6 211.5,275.5 212.2,275.5 212.9,277.7 213.6,277.2 214.3,269.3 215.0,272.8 215.7,267.9 216.4,266.7 217.1,269.5 217.8,266.9 218.5,273.5 219.2,265.9 219.9,269.3 220.6,270.3 221.3,271.0 222.0,266.6 222.7,263.4 223.4,264.4 224.1,259.9 224.8,259.5 225.5,261.9 226.2,257.9 226.9,263.6 227.6,260.0 228.3,256.1 229.0,254.0 229.7,254.5 230.4,252.3 231.1,248.1 231.8,254.2 232.5,251.8 233.2,247.5 233.9,245.4 234.7,240.0 235.4,245.6 236.1,236.2 236.8,240.9 237.5,234.1 238.2,237.3 238.9,229.9 239.6,230.4 240.3,228.1 241.0,230.8 241.7,224.5 242.4,227.1 243.1,224.8 243.8,223.6 244.5,223.9 245.2,218.1 245.9,224.6 246.6,223.9 247.3,217.8 248.0,218.5 248.7,216.4 249.4,222.0 250.1,215.2 250.8,214.1 251.5,215.0 252.2,216.9 252.9,213.0 253.6,213.4 254.3,213.6 255.0,215.6 255.7,210.9 256.4,215.0 257.1,215.7 257.8,211.6 258.5,215.6 259.2,210.0 259.9,208.9 260.6,214.9 261.3,206.4 262.0,212.6 262.7,207.4 263.4,212.3 264.1,206.1 264.8,202.3 265.5,211.0 266.2,209.0 266.9,209.4 267.6,202.4 268.3,207.5 269.0,204.0 269.7,207.7 270.4,205.8 271.1,200.5 271.8,201.3 272.6,196.9 273.3,202.2 274.0,197.1 274.7,201.6 275.4,194.5 276.1,200.1 276.8,190.7 277.5,195.5 278.2,191.0 278.9,192.1 279.6,191.2 280.3,192.8 281.0,192.7 281.7,183.8 282.4,188.9 283.1,191.1 283.8,184.5 284.5,180.2 285.2,179.6 285.9,182.6 286.6,178.3 287.3,185.0 288.0,184.3 288.7,184.4 289.4,177.3 290.1,176.8 290.8,176.8 291.5,173.6 292.2,172.7 292.9,177.2 293.6,172.3 294.3,176.4 295.0,174.0 295.7,173.5 296.4,171.4 297.1,174.7 297.8,172.2 298.5,173.3 299.2,173.8 299.9,175.7 300.6,171.5 301.3,173.4 302.0,168.3 302.7,171.0 303.4,171.3 304.1,173.8 304.8,173.7 305.5,172.1 306.2,166.6 306.9,170.2 307.6,164.0 308.3,165.9 309.0,162.4 309.8,168.3 310.5,158.9 311.2,164.1 311.9,161.6 312.6,165.9 313.3,166.0 314.0,162.9 314.7,161.2 315.4,162.2 316.1,162.6 316.8,161.1 317.5,157.1 318.2,159.2 318.9,159.0 319.6,157.7 320.3,155.9 321.0,161.3 321.7,156.4 322.4,159.2 323.1,151.7 323.8,156.7 324.5,157.3 325.2,155.1 325.9,150.8 326.6,156.7 327.3,149.6 328.0,154.7" fill="none" stroke="#000" stroke-width="1.10" stroke-linejoin="miter" stroke-miterlimit="4"/>
<path d="M29.0,122.0 30.0,123.5 31.0,125.0 32.0,126.4 33.0,127.7 34.0,129.0 35.0,130.1 36.0,131.2 37.0,132.3 38.0,133.4 39.0,134.6 40.0,135.8 41.0,136.9 42.0,138.1 43.0,139.3 44.0,140.4 45.0,141.6 46.0,142.9 47.0,144.5 48.0,146.1 49.0,147.7 50.0,149.3 51.0,150.9 52.0,152.5 53.0,154.1 54.0,155.6 55.0,156.8 56.0,158.1 57.0,159.3 58.0,160.4 59.0,161.6 60.0,162.6 61.0,163.7 62.0,164.7 63.0,165.5 64.0,166.4 65.0,167.1 66.0,168.0 67.0,168.8 68.0,169.6 69.0,170.3 70.0,171.0 71.0,171.5 72.0,172.0 73.0,172.5 74.0,173.2 75.0,174.1 76.0,175.3 77.0,176.6 78.0,178.1 79.0,179.8 80.0,181.8 81.0,184.0 82.0,186.4 83.0,189.2 84.0,196.4 85.0,204.6 86.0,213.0 87.0,221.5 88.0,229.7 89.0,237.4 90.0,244.3 91.0,250.7 92.0,256.8 93.0,262.8 94.0,268.5 95.0,274.2 96.0,279.7 97.0,285.2 98.0,290.6 99.0,295.7 100.0,300.4 101.0,304.9 102.0,309.1 103.0,313.1 104.0,316.9 105.0,320.9 106.0,325.2 107.0,330.0 108.0,335.4 109.0,340.9 110.0,346.0 111.0,350.7 112.0,355.2 113.0,359.3 114.0,363.0 115.0,366.5 116.0,369.7 117.0,372.9 118.0,376.0 119.0,379.0 120.0,381.9 121.0,384.6 122.0,387.2 123.0,389.6 124.0,391.8 125.0,393.9 126.0,395.6 127.0,397.2 128.0,398.7 129.0,400.0 130.0,401.1 131.0,402.3 132.0,403.6 133.0,404.8 134.0,406.0 135.0,407.2 136.0,408.2 137.0,409.2 138.0,410.4 139.0,411.5 140.0,412.3 141.0,412.9 142.0,413.0 143.0,412.7 144.0,412.0 145.0,411.0 146.0,409.7 147.0,408.1 148.0,406.6 149.0,405.4 150.0,404.4 151.0,403.6 152.0,403.0 153.0,402.5 154.0,402.2 155.0,402.1 156.0,402.0 157.0,401.8 158.0,401.6 159.0,401.3 160.0,400.7 161.0,400.0 162.0,398.9 163.0,397.2 164.0,395.5 165.0,393.7 166.0,392.0 167.0,390.6 168.0,389.4 169.0,388.7 170.0,388.6 171.0,389.3 172.0,390.6 173.0,392.1 174.0,393.8 175.0,395.4 176.0,396.6 177.0,397.9 178.0,400.0 179.0,400.7 180.0,400.0 181.0,398.6 182.0,396.8 183.0,394.6 184.0,392.3 185.0,389.8 186.0,387.2 187.0,384.7 188.0,382.2 189.0,379.8 190.0,377.4 191.0,375.1 192.0,373.0 193.0,370.9 194.0,369.0 195.0,367.3 196.0,365.6 197.0,364.1 198.0,362.7 199.0,361.3 200.0,360.0 201.0,358.8 202.0,357.6 203.0,356.4 204.0,355.3 205.0,354.4 206.0,353.4 207.0,352.4 208.0,351.4 209.0,350.4 210.0,349.4 211.0,348.3 212.0,347.0 213.0,345.4 214.0,343.7 215.0,341.9 216.0,340.2 217.0,338.4 218.0,336.5 219.0,334.7 220.0,332.8 221.0,331.2 222.0,329.6 223.0,328.0 224.0,326.4 225.0,324.8 226.0,323.2 227.0,321.7 228.0,320.1 229.0,318.8 230.0,317.5 231.0,316.3 232.0,315.1 233.0,314.0 234.0,312.9 235.0,311.8 236.0,310.6 237.0,309.4 238.0,308.0 239.0,306.6 240.0,305.2 241.0,303.7 242.0,302.2 243.0,300.6 244.0,299.0 245.0,297.5 246.0,295.9 247.0,294.3 248.0,292.7 249.0,291.2 250.0,289.6 251.0,288.0 252.0,286.4 253.0,284.8 254.0,283.1 255.0,281.5 256.0,279.9 257.0,278.2 258.0,276.6 259.0,275.0 260.0,273.3 261.0,271.6 262.0,270.0 263.0,268.3 264.0,266.6 265.0,264.9 266.0,263.1 267.0,261.4 268.0,259.6 269.0,257.8 270.0,255.9 271.0,253.9 272.0,251.7 273.0,249.4 274.0,247.0 275.0,244.7 276.0,242.6 277.0,240.6 278.0,238.8 279.0,237.3 280.0,235.8 281.0,234.5 282.0,233.1 283.0,231.8 284.0,230.6 285.0,229.3 286.0,228.1 287.0,226.7 288.0,225.1 289.0,223.5 290.0,222.0 291.0,220.4 292.0,218.9 293.0,217.4 294.0,215.9 295.0,214.4 296.0,213.3 297.0,212.1 298.0,211.0 299.0,209.8 300.0,208.7 301.0,207.5 302.0,206.4 303.0,205.3 304.0,204.3 305.0,203.4 306.0,202.5 307.0,201.6 308.0,200.7 309.0,199.8 310.0,199.0 311.0,198.2 312.0,197.1 313.0,195.9 314.0,194.7 315.0,193.5 316.0,192.3 317.0,191.2 318.0,190.0 319.0,188.9 320.0,187.9 321.0,187.2 322.0,186.6 323.0,186.1 324.0,185.6 325.0,185.3 326.0,184.9 327.0,184.5" fill="none" stroke="#000" stroke-width="2.40" stroke-linejoin="round"/><path d="M29.0,122.3 29.7,122.6 30.4,125.1 31.1,124.4 31.8,126.8 32.5,126.6 33.2,130.0 33.9,127.0 34.6,128.4 35.3,127.2 36.0,128.4 36.7,127.3 37.4,135.8 38.1,129.2 38.8,136.8 39.5,131.9 40.2,140.1 40.9,137.3 41.6,139.7 42.3,135.8 43.0,138.9 43.7,136.4 44.4,144.2 45.1,146.3 45.8,144.2 46.5,141.8 47.2,140.5 48.0,144.3 48.7,151.2 49.4,150.1 50.1,150.8 50.8,151.7 51.5,150.7 52.2,154.6 52.9,154.5 53.6,151.0 54.3,151.1 55.0,157.3 55.7,158.0 56.4,158.3 57.1,163.9 57.8,159.8 58.5,164.1 59.2,160.5 59.9,163.3 60.6,162.2 61.3,167.1 62.0,164.4 62.7,169.5 63.4,163.4 64.1,165.4 64.8,166.1 65.5,170.5 66.2,165.3 66.9,167.4 67.6,170.7 68.3,171.8 69.0,165.9 69.7,173.2 70.4,167.2 71.1,168.7 71.8,174.4 72.5,174.4 73.2,175.8 73.9,175.3 74.6,170.4 75.3,175.2 76.0,174.0 76.7,180.5 77.4,178.9 78.1,174.3 78.8,184.1 79.5,178.3 80.2,182.8 80.9,187.4 81.6,188.5 82.3,188.5 83.0,185.2 83.7,195.8 84.4,200.5 85.2,205.4 85.9,210.8 86.6,215.0 87.3,227.5 88.0,229.8 88.7,234.6 89.4,242.8 90.1,243.0 90.8,247.4 91.5,257.5 92.2,262.4 92.9,257.2 93.6,269.7 94.3,269.9 95.0,274.7 95.7,275.4 96.4,286.5 97.1,285.2 97.8,291.7 98.5,294.8 99.2,298.3 99.9,298.8 100.6,302.0 101.3,305.2 102.0,309.6 102.7,309.5 103.4,312.7 104.1,314.0 104.8,323.0 105.5,318.3 106.2,327.6 106.9,333.8 107.6,334.8 108.3,340.1 109.0,344.8 109.7,346.3 110.4,349.9 111.1,348.4 111.8,354.9 112.5,355.0 113.2,360.6 113.9,361.8 114.6,368.0 115.3,362.7 116.0,374.8 116.7,371.0 117.4,373.6 118.1,374.1 118.8,376.6 119.5,382.1 120.2,386.2 120.9,387.7 121.6,388.8 122.3,385.3 123.1,387.2 123.8,394.4 124.5,397.3 125.2,398.8 125.9,400.3 126.6,392.4 127.3,398.1 128.0,396.7 128.7,403.3 129.4,399.2 130.1,403.9 130.8,402.4 131.5,402.1 132.2,402.1 132.9,405.0 133.6,403.7 134.3,407.3 135.0,403.0 135.7,406.6 136.4,407.0 137.1,405.6 137.8,412.7 138.5,411.3 139.2,410.8 139.9,415.0 140.6,411.8 141.3,411.9 142.0,410.2 142.7,415.0 143.4,413.6 144.1,414.4 144.8,408.4 145.5,410.7 146.2,408.2 146.9,407.0 147.6,402.9 148.3,406.5 149.0,406.8 149.7,405.4 150.4,407.2 151.1,407.4 151.8,402.7 152.5,406.9 153.2,405.6 153.9,403.1 154.6,397.6 155.3,403.3 156.0,398.3 156.7,402.3 157.4,399.8 158.1,399.4 158.8,397.0 159.5,405.0 160.3,398.2 161.0,400.3 161.7,401.1 162.4,399.9 163.1,402.1 163.8,399.0 164.5,396.4 165.2,391.9 165.9,388.7 166.6,390.7 167.3,394.1 168.0,392.5 168.7,387.0 169.4,391.9 170.1,387.0 170.8,388.5 171.5,391.6 172.2,391.2 172.9,391.5 173.6,394.9 174.3,390.3 175.0,396.2 175.7,398.4 176.4,392.1 177.1,402.1 177.8,404.0 178.5,403.6 179.2,398.0 179.9,397.5 180.6,401.9 181.3,396.1 182.0,395.3 182.7,394.3 183.4,393.3 184.1,390.4 184.8,393.8 185.5,386.0 186.2,386.0 186.9,388.8 187.6,383.5 188.3,376.9 189.0,382.7 189.7,375.6 190.4,374.7 191.1,378.8 191.8,373.1 192.5,371.6 193.2,372.7 193.9,370.3 194.6,369.6 195.3,364.4 196.0,365.2 196.7,359.6 197.5,360.4 198.2,362.9 198.9,358.1 199.6,362.9 200.3,356.5 201.0,362.3 201.7,362.9 202.4,356.6 203.1,351.3 203.8,357.6 204.5,355.7 205.2,352.6 205.9,355.0 206.6,348.5 207.3,349.9 208.0,351.8 208.7,354.0 209.4,347.9 210.1,353.2 210.8,348.2 211.5,351.9 212.2,342.4 212.9,345.8 213.6,346.4 214.3,343.7 215.0,344.3 215.7,341.2 216.4,335.1 217.1,337.4 217.8,333.8 218.5,332.6 219.2,335.6 219.9,332.1 220.6,327.3 221.3,331.0 222.0,328.5 222.7,327.1 223.4,324.7 224.1,327.7 224.8,325.6 225.5,326.5 226.2,319.5 226.9,325.0 227.6,318.6 228.3,320.9 229.0,318.9 229.7,315.5 230.4,314.2 231.1,314.3 231.8,320.1 232.5,313.7 233.2,317.6 233.9,316.3 234.7,307.8 235.4,306.8 236.1,309.6 236.8,314.3 237.5,307.1 238.2,310.9 238.9,302.1 239.6,308.4 240.3,302.2 241.0,303.3 241.7,300.0 242.4,302.6 243.1,302.1 243.8,297.8 244.5,303.1 245.2,300.1 245.9,292.7 246.6,294.2 247.3,295.1 248.0,297.0 248.7,291.1 249.4,295.2 250.1,287.6 250.8,286.7 251.5,284.9 252.2,284.2 252.9,286.9 253.6,285.6 254.3,279.4 255.0,282.6 255.7,279.6 256.4,281.1 257.1,277.6 257.8,275.0 258.5,277.9 259.2,278.3 259.9,272.9 260.6,270.6 261.3,267.4 262.0,271.3 262.7,264.7 263.4,264.2 264.1,266.0 264.8,266.8 265.5,260.3 266.2,260.4 266.9,258.4 267.6,265.2 268.3,255.9 269.0,255.3 269.7,252.4 270.4,256.9 271.1,253.4 271.8,253.2 272.6,253.1 273.3,253.5 274.0,244.4 274.7,246.7 275.4,239.0 276.1,244.1 276.8,240.1 277.5,242.2 278.2,240.0 278.9,238.0 279.6,233.2 280.3,238.6 281.0,229.7 281.7,234.2 282.4,237.1 283.1,235.5 283.8,229.8 284.5,227.9 285.2,231.9 285.9,226.9 286.6,226.8 287.3,222.2 288.0,225.8 288.7,226.1 289.4,224.8 290.1,226.2 290.8,218.3 291.5,221.5 292.2,213.7 292.9,219.0 293.6,219.8 294.3,216.4 295.0,217.9 295.7,217.1 296.4,208.8 297.1,214.1 297.8,212.1 298.5,213.2 299.2,214.0 299.9,210.0 300.6,208.2 301.3,206.4 302.0,201.8 302.7,205.8 303.4,204.5 304.1,204.7 304.8,199.2 305.5,204.5 306.2,199.1 306.9,204.9 307.6,199.2 308.3,197.0 309.0,197.8 309.8,201.6 310.5,197.4 311.2,198.3 311.9,194.6 312.6,197.5 313.3,194.4 314.0,199.0 314.7,195.4 315.4,193.6 316.1,189.4 316.8,193.8 317.5,190.3 318.2,188.4 318.9,186.3 319.6,189.4 320.3,182.8 321.0,191.0 321.7,189.0 322.4,190.9 323.1,185.8 323.8,186.7 324.5,189.9 325.2,187.4 325.9,185.7 326.6,182.2 327.3,181.0 328.0,186.8" fill="none" stroke="#000" stroke-width="1.10" stroke-linejoin="miter" stroke-miterlimit="4"/>
<path d="M29.0,122.0 30.0,123.6 31.0,125.1 32.0,126.5 33.0,127.8 34.0,129.1 35.0,130.3 36.0,131.5 37.0,132.7 38.0,134.0 39.0,135.3 40.0,136.7 41.0,138.0 42.0,139.4 43.0,140.8 44.0,142.1 45.0,143.5 46.0,144.9 47.0,146.2 48.0,147.6 49.0,148.9 50.0,150.3 51.0,151.6 52.0,153.0 53.0,154.4 54.0,155.9 55.0,157.6 56.0,159.4 57.0,161.2 58.0,163.0 59.0,165.0 60.0,167.0 61.0,169.3 62.0,172.0 63.0,175.3 64.0,178.6 65.0,181.1 66.0,183.5 67.0,185.8 68.0,187.7 69.0,188.9 70.0,189.5 71.0,189.6 72.0,189.3 73.0,188.9 74.0,188.5 75.0,188.1 76.0,188.0 77.0,188.2 78.0,188.7 79.0,189.4 80.0,190.4 81.0,191.8 82.0,193.3 83.0,195.0 84.0,199.1 85.0,205.6 86.0,213.6 87.0,222.2 88.0,230.6 89.0,238.4 90.0,245.2 91.0,251.4 92.0,257.3 93.0,263.0 94.0,268.5 95.0,274.0 96.0,279.5 97.0,285.2 98.0,290.8 99.0,296.1 100.0,301.1 101.0,305.8 102.0,310.2 103.0,314.3 104.0,318.3 105.0,322.0 106.0,326.0 107.0,330.7 108.0,336.4 109.0,341.9 110.0,346.1 111.0,349.2 112.0,351.8 113.0,354.4 114.0,356.8 115.0,359.1 116.0,361.2 117.0,363.2 118.0,365.0 119.0,366.3 120.0,367.4 121.0,368.4 122.0,369.7 123.0,371.3 124.0,373.4 125.0,375.6 126.0,378.0 127.0,380.5 128.0,383.0 129.0,385.6 130.0,388.2 131.0,390.7 132.0,393.2 133.0,395.7 134.0,398.2 135.0,400.7 136.0,403.1 137.0,405.4 138.0,407.6 139.0,409.7 140.0,411.8 141.0,414.1 142.0,416.3 143.0,418.5 144.0,420.7 145.0,422.6 146.0,424.3 147.0,425.7 148.0,426.8 149.0,427.8 150.0,428.5 151.0,429.1 152.0,429.5 153.0,429.9 154.0,430.3 155.0,430.7 156.0,431.2 157.0,431.5 158.0,431.8 159.0,432.1 160.0,432.3 161.0,432.4 162.0,432.5 163.0,432.4 164.0,432.3 165.0,432.1 166.0,431.8 167.0,431.3 168.0,430.5 169.0,429.5 170.0,428.3 171.0,427.2 172.0,426.1 173.0,425.0 174.0,423.9 175.0,423.0 176.0,422.6 177.0,422.9 178.0,424.1 179.0,425.9 180.0,427.1 181.0,427.2 182.0,426.7 183.0,425.6 184.0,424.2 185.0,422.7 186.0,421.0 187.0,419.3 188.0,417.4 189.0,415.5 190.0,413.6 191.0,411.7 192.0,410.0 193.0,408.3 194.0,406.8 195.0,405.4 196.0,404.2 197.0,403.1 198.0,402.2 199.0,401.4 200.0,400.7 201.0,400.0 202.0,399.3 203.0,398.6 204.0,398.0 205.0,397.4 206.0,396.6 207.0,395.8 208.0,394.8 209.0,393.7 210.0,392.3 211.0,390.8 212.0,389.2 213.0,387.6 214.0,385.9 215.0,384.1 216.0,382.2 217.0,380.3 218.0,378.4 219.0,376.5 220.0,374.7 221.0,372.7 222.0,370.8 223.0,368.9 224.0,367.0 225.0,365.2 226.0,363.3 227.0,361.5 228.0,359.6 229.0,357.7 230.0,355.8 231.0,353.9 232.0,351.9 233.0,350.0 234.0,348.0 235.0,346.0 236.0,344.0 237.0,341.9 238.0,339.8 239.0,337.6 240.0,335.4 241.0,333.1 242.0,330.9 243.0,328.6 244.0,326.4 245.0,324.2 246.0,322.4 247.0,320.6 248.0,318.8 249.0,317.2 250.0,315.7 251.0,314.4 252.0,313.2 253.0,312.2 254.0,311.2 255.0,310.2 256.0,309.3 257.0,308.4 258.0,307.4 259.0,306.3 260.0,305.2 261.0,303.9 262.0,302.4 263.0,300.6 264.0,298.7 265.0,296.8 266.0,294.8 267.0,292.8 268.0,290.8 269.0,288.7 270.0,286.7 271.0,285.1 272.0,283.5 273.0,281.8 274.0,280.1 275.0,278.5 276.0,276.8 277.0,275.2 278.0,273.5 279.0,271.8 280.0,270.0 281.0,268.3 282.0,266.6 283.0,264.9 284.0,263.2 285.0,261.5 286.0,259.9 287.0,258.3 288.0,256.9 289.0,255.5 290.0,254.2 291.0,252.8 292.0,251.6 293.0,250.3 294.0,249.1 295.0,247.9 296.0,246.6 297.0,245.3 298.0,244.1 299.0,242.8 300.0,241.5 301.0,240.2 302.0,238.9 303.0,237.5 304.0,235.9 305.0,234.2 306.0,232.3 307.0,230.2 308.0,227.7 309.0,224.8 310.0,221.7 311.0,218.9 312.0,216.7 313.0,215.0 314.0,213.5 315.0,212.0 316.0,210.7 317.0,209.4 318.0,208.1 319.0,206.9 320.0,205.5 321.0,203.9 322.0,202.3 323.0,200.7 324.0,199.1 325.0,197.5 326.0,195.9 327.0,194.3" fill="none" stroke="#000" stroke-width="2.40" stroke-linejoin="round"/><path d="M29.0,121.7 29.7,122.2 30.4,123.2 31.1,124.1 31.8,126.5 32.5,126.8 33.2,129.1 33.9,126.0 34.6,127.9 35.3,128.4 36.0,132.7 36.7,137.1 37.4,134.0 38.1,131.7 38.8,138.2 39.5,132.2 40.2,133.1 40.9,136.3 41.6,140.0 42.3,135.0 43.0,143.2 43.7,140.6 44.4,143.3 45.1,139.9 45.8,148.7 46.5,148.1 47.2,148.1 48.0,144.5 48.7,153.3 49.4,146.8 50.1,146.6 50.8,147.0 51.5,155.8 52.2,151.2 52.9,155.0 53.6,152.0 54.3,160.3 55.0,152.8 55.7,159.4 56.4,159.5 57.1,164.2 57.8,158.6 58.5,163.5 59.2,168.1 59.9,167.9 60.6,173.4 61.3,171.6 62.0,171.5 62.7,177.9 63.4,175.4 64.1,177.1 64.8,180.0 65.5,183.6 66.2,183.3 66.9,186.7 67.6,189.6 68.3,189.3 69.0,185.8 69.7,193.8 70.4,187.1 71.1,189.9 71.8,184.6 72.5,190.0 73.2,187.4 73.9,186.2 74.6,185.5 75.3,189.5 76.0,186.1 76.7,190.9 77.4,186.4 78.1,189.9 78.8,191.0 79.5,191.5 80.2,189.5 80.9,189.0 81.6,190.6 82.3,195.5 83.0,191.8 83.7,201.7 84.4,198.8 85.2,205.3 85.9,207.8 86.6,218.9 87.3,228.2 88.0,232.1 88.7,234.2 89.4,245.0 90.1,242.6 90.8,245.1 91.5,249.9 92.2,258.8 92.9,264.4 93.6,269.8 94.3,270.5 95.0,276.2 95.7,272.8 96.4,282.7 97.1,285.2 97.8,288.4 98.5,292.0 99.2,298.3 99.9,302.4 100.6,307.9 101.3,304.9 102.0,312.8 102.7,312.6 103.4,316.3 104.1,314.0 104.8,319.8 105.5,328.7 106.2,328.3 106.9,333.2 107.6,337.2 108.3,337.8 109.0,342.3 109.7,343.1 110.4,348.1 111.1,348.3 111.8,352.2 112.5,351.9 113.2,356.9 113.9,355.4 114.6,359.6 115.3,357.7 116.0,358.1 116.7,362.4 117.4,369.0 118.1,363.3 118.8,370.6 119.5,367.1 120.2,368.0 120.9,367.9 121.6,373.7 122.3,368.5 123.1,375.5 123.8,369.7 124.5,374.8 125.2,374.5 125.9,379.1 126.6,381.4 127.3,384.7 128.0,383.4 128.7,380.2 129.4,388.6 130.1,389.9 130.8,386.9 131.5,393.0 132.2,390.3 132.9,397.1 133.6,395.1 134.3,399.7 135.0,399.8 135.7,406.5 136.4,401.4 137.1,407.4 137.8,403.5 138.5,413.1 139.2,409.4 139.9,416.6 140.6,412.9 141.3,417.5 142.0,415.2 142.7,416.8 143.4,417.3 144.1,423.6 144.8,420.4 145.5,426.8 146.2,419.9 146.9,424.8 147.6,425.4 148.3,429.9 149.0,426.1 149.7,427.1 150.4,426.6 151.1,432.4 151.8,425.0 152.5,425.1 153.2,426.0 153.9,431.7 154.6,426.3 155.3,434.2 156.0,430.4 156.7,436.1 157.4,430.6 158.1,428.7 158.8,428.9 159.5,436.6 160.3,429.3 161.0,437.3 161.7,432.1 162.4,432.2 163.1,431.6 163.8,429.8 164.5,430.4 165.2,432.5 165.9,431.0 166.6,434.1 167.3,432.8 168.0,427.0 168.7,431.9 169.4,433.3 170.1,424.6 170.8,429.6 171.5,428.2 172.2,426.8 172.9,426.3 173.6,425.8 174.3,425.1 175.0,423.8 175.7,424.7 176.4,422.1 177.1,418.8 177.8,426.2 178.5,424.6 179.2,427.6 179.9,426.0 180.6,428.0 181.3,425.0 182.0,427.4 182.7,425.3 183.4,421.8 184.1,422.2 184.8,419.9 185.5,419.8 186.2,422.9 186.9,420.7 187.6,419.9 188.3,414.7 189.0,416.8 189.7,418.0 190.4,413.8 191.1,410.6 191.8,411.7 192.5,405.4 193.2,403.9 193.9,404.4 194.6,407.4 195.3,407.9 196.0,408.1 196.7,402.4 197.5,405.8 198.2,398.8 198.9,403.2 199.6,400.4 200.3,403.2 201.0,400.9 201.7,401.1 202.4,401.4 203.1,403.3 203.8,397.5 204.5,398.1 205.2,394.9 205.9,401.4 206.6,395.9 207.3,392.7 208.0,394.6 208.7,391.7 209.4,392.6 210.1,395.2 210.8,389.7 211.5,387.1 212.2,387.9 212.9,387.4 213.6,385.8 214.3,386.5 215.0,383.4 215.7,383.6 216.4,379.1 217.1,382.0 217.8,374.9 218.5,375.3 219.2,373.8 219.9,378.1 220.6,369.3 221.3,374.7 222.0,370.4 222.7,371.4 223.4,367.8 224.1,364.1 224.8,365.9 225.5,366.6 226.2,362.3 226.9,365.7 227.6,360.8 228.3,362.0 229.0,354.4 229.7,357.5 230.4,357.6 231.1,355.0 231.8,351.2 232.5,349.8 233.2,349.3 233.9,345.0 234.7,346.3 235.4,346.1 236.1,343.4 236.8,338.6 237.5,338.6 238.2,337.4 238.9,335.3 239.6,332.5 240.3,332.0 241.0,335.4 241.7,330.3 242.4,327.8 243.1,323.5 243.8,329.4 244.5,323.3 245.2,319.6 245.9,322.9 246.6,321.7 247.3,316.3 248.0,314.2 248.7,318.1 249.4,316.4 250.1,315.4 250.8,317.2 251.5,313.2 252.2,315.5 252.9,309.3 253.6,311.9 254.3,306.7 255.0,311.3 255.7,307.2 256.4,310.4 257.1,309.7 257.8,309.3 258.5,307.1 259.2,304.3 259.9,306.4 260.6,302.9 261.3,302.8 262.0,303.8 262.7,297.9 263.4,304.7 264.1,297.6 264.8,292.9 265.5,298.5 266.2,293.8 266.9,292.7 267.6,287.2 268.3,291.1 269.0,289.2 269.7,284.2 270.4,289.3 271.1,280.5 271.8,281.5 272.6,281.3 273.3,282.7 274.0,279.4 274.7,276.2 275.4,273.3 276.1,277.2 276.8,273.9 277.5,275.9 278.2,273.7 278.9,269.4 279.6,275.7 280.3,270.7 281.0,265.0 281.7,271.5 282.4,264.8 283.1,269.2 283.8,267.0 284.5,265.3 285.2,260.4 285.9,258.9 286.6,259.4 287.3,253.6 288.0,253.1 288.7,256.4 289.4,257.3 290.1,254.9 290.8,256.7 291.5,254.7 292.2,246.6 292.9,253.8 293.6,249.1 294.3,250.3 295.0,245.3 295.7,251.4 296.4,244.5 297.1,246.0 297.8,243.1 298.5,244.5 299.2,241.9 299.9,243.1 300.6,239.7 301.3,242.0 302.0,234.5 302.7,233.2 303.4,237.5 304.1,238.2 304.8,231.4 305.5,233.9 306.2,229.5 306.9,231.2 307.6,227.1 308.3,228.1 309.0,220.7 309.8,223.4 310.5,218.0 311.2,215.9 311.9,218.4 312.6,220.3 313.3,213.2 314.0,212.2 314.7,209.3 315.4,213.6 316.1,207.2 316.8,210.3 317.5,208.1 318.2,211.3 318.9,205.4 319.6,210.3 320.3,204.1 321.0,203.0 321.7,198.7 322.4,203.2 323.1,201.1 323.8,200.4 324.5,194.7 325.2,198.3 325.9,193.6 326.6,198.9 327.3,191.0 328.0,196.1" fill="none" stroke="#000" stroke-width="1.10" stroke-linejoin="miter" stroke-miterlimit="4"/>
<path d="M391.0,121.0 392.0,120.7 393.0,120.4 394.0,120.1 395.0,120.0 396.0,119.9 397.0,120.1 398.0,120.4 399.0,121.0 400.0,121.7 401.0,122.8 402.0,124.5 403.0,126.4 404.0,128.1 405.0,129.3 406.0,130.1 407.0,130.5 408.0,130.7 409.0,130.8 410.0,130.8 411.0,130.8 412.0,130.7 413.0,130.5 414.0,130.4 415.0,130.3 416.0,130.1 417.0,129.7 418.0,129.3 419.0,129.1 420.0,129.0 421.0,129.0 422.0,129.0 423.0,129.2 424.0,129.4 425.0,129.9 426.0,130.5 427.0,131.1 428.0,131.8 429.0,132.5 430.0,133.3 431.0,134.0 432.0,134.9 433.0,135.7 434.0,136.6 435.0,137.6 436.0,138.7 437.0,139.9 438.0,141.2 439.0,142.9 440.0,144.9 441.0,147.3 442.0,149.6 443.0,151.7 444.0,153.3 445.0,154.5 446.0,155.6 447.0,156.6 448.0,157.5 449.0,158.4 450.0,159.3 451.0,160.3 452.0,161.4 453.0,162.8 454.0,164.5 455.0,166.4 456.0,168.3 457.0,170.2 458.0,171.8 459.0,173.1 460.0,174.2 461.0,175.3 462.0,176.2 463.0,177.1 464.0,177.8 465.0,178.5 466.0,179.1 467.0,179.7 468.0,180.2 469.0,180.6 470.0,181.0 471.0,181.4 472.0,181.8 473.0,182.1 474.0,182.4 475.0,182.7 476.0,182.9 477.0,183.0 478.0,183.1 479.0,183.0 480.0,182.9 481.0,182.8 482.0,182.5 483.0,182.4 484.0,182.2 485.0,181.9 486.0,181.5 487.0,181.1 488.0,180.7 489.0,180.2 490.0,179.7 491.0,178.8 492.0,178.0 493.0,177.1 494.0,176.1 495.0,175.2 496.0,174.3 497.0,173.3 498.0,172.4 499.0,171.6 500.0,170.9 501.0,170.3 502.0,169.6 503.0,168.9 504.0,168.3 505.0,167.7 506.0,167.1 507.0,166.4 508.0,165.4 509.0,164.4 510.0,163.3 511.0,162.3 512.0,161.3 513.0,160.4 514.0,159.4 515.0,158.6 516.0,158.0 517.0,157.4 518.0,156.9 519.0,156.4 520.0,155.9 521.0,155.4 522.0,155.0 523.0,154.5 524.0,154.3 525.0,154.0 526.0,153.8 527.0,153.6 528.0,153.4 529.0,153.1 530.0,152.9 531.0,152.7 532.0,152.2 533.0,151.4 534.0,150.6 535.0,149.8 536.0,149.0 537.0,148.2 538.0,147.4 539.0,146.6 540.0,145.9 541.0,145.4 542.0,144.9 543.0,144.5 544.0,144.0 545.0,143.5 546.0,143.0 547.0,142.6 548.0,142.1 549.0,141.8 550.0,141.4 551.0,141.1 552.0,140.8 553.0,140.5 554.0,140.2 555.0,139.9 556.0,139.6 557.0,139.1 558.0,138.5 559.0,138.0 560.0,137.5 561.0,136.9 562.0,136.4 563.0,135.9 564.0,135.3 565.0,134.8 566.0,134.3 567.0,133.8 568.0,133.3 569.0,132.8 570.0,132.3 571.0,131.8 572.0,131.3 573.0,130.9 574.0,130.6 575.0,130.3 576.0,130.0 577.0,129.7 578.0,129.4 579.0,129.1 580.0,128.8 581.0,128.5 582.0,128.1 583.0,127.7 584.0,127.3 585.0,127.0 586.0,126.6 587.0,126.2 588.0,125.9 589.0,125.5 590.0,125.1 591.0,124.7 592.0,124.3 593.0,123.9 594.0,123.5 595.0,123.1 596.0,122.8 597.0,122.4 598.0,122.2 599.0,122.2 600.0,122.2 601.0,122.2 602.0,122.2 603.0,122.2 604.0,122.3 605.0,122.3 606.0,122.3 607.0,122.2 608.0,122.1 609.0,122.0 610.0,121.9 611.0,121.9 612.0,121.9 613.0,121.9 614.0,122.0 615.0,122.2 616.0,122.5 617.0,122.8 618.0,123.0 619.0,123.3 620.0,123.5 621.0,123.6 622.0,123.8 623.0,123.6 624.0,123.3 625.0,122.9 626.0,122.5 627.0,122.1 628.0,121.6 629.0,121.1 630.0,120.7 631.0,120.3 632.0,120.1 633.0,119.9 634.0,119.7 635.0,119.5 636.0,119.3 637.0,119.1 638.0,118.8 639.0,118.6 640.0,118.5 641.0,118.3 642.0,118.2 643.0,118.1 644.0,117.9 645.0,117.8 646.0,117.7 647.0,117.6 648.0,117.3 649.0,116.9 650.0,116.5 651.0,116.2 652.0,115.9 653.0,115.5 654.0,115.2 655.0,114.9 656.0,114.9 657.0,115.1 658.0,115.3 659.0,115.4 660.0,115.6 661.0,115.8 662.0,116.0 663.0,116.2 664.0,116.3 665.0,116.3 666.0,116.3 667.0,116.2 668.0,116.2 669.0,116.2 670.0,116.2 671.0,116.1 672.0,116.1 673.0,115.8 674.0,115.5 675.0,115.3 676.0,115.0 677.0,114.7 678.0,114.4 679.0,114.2 680.0,113.9 681.0,113.9 682.0,114.0 683.0,114.1 684.0,114.2 685.0,114.3 686.0,114.4 687.0,114.5 688.0,114.5" fill="none" stroke="#000" stroke-width="2.10" stroke-linejoin="round"/><path d="M391.0,121.2 391.7,119.9 392.4,120.4 393.1,120.4 393.8,120.1 394.5,119.4 395.2,120.1 395.9,117.7 396.6,118.5 397.3,121.7 398.0,122.3 398.7,119.5 399.4,118.0 400.1,119.3 400.8,124.0 401.5,124.6 402.2,124.5 403.0,127.3 403.7,128.7 404.4,128.3 405.1,132.8 405.8,129.2 406.5,132.1 407.2,130.8 407.9,128.8 408.6,133.0 409.3,131.2 410.0,127.2 410.7,131.3 411.4,129.9 412.1,128.1 412.8,131.6 413.5,133.7 414.2,129.6 414.9,129.3 415.6,132.6 416.3,126.8 417.0,126.4 417.7,130.3 418.4,127.5 419.1,127.8 419.8,126.6 420.5,129.7 421.2,125.9 421.9,131.5 422.6,128.6 423.3,128.3 424.0,128.4 424.7,133.2 425.5,128.7 426.2,132.7 426.9,134.5 427.6,132.8 428.3,128.5 429.0,133.4 429.7,133.2 430.4,133.9 431.1,136.5 431.8,135.9 432.5,132.2 433.2,134.1 433.9,138.9 434.6,138.3 435.3,139.9 436.0,141.1 436.7,138.3 437.4,138.8 438.1,138.3 438.8,146.0 439.5,142.8 440.2,145.1 440.9,144.0 441.6,150.2 442.3,154.0 443.0,154.4 443.7,151.7 444.4,156.9 445.1,152.8 445.8,157.9 446.5,159.4 447.2,154.8 447.9,153.9 448.7,159.3 449.4,157.5 450.1,161.5 450.8,161.3 451.5,163.3 452.2,159.9 452.9,165.3 453.6,160.8 454.3,166.9 455.0,162.9 455.7,170.5 456.4,165.9 457.1,170.5 457.8,171.3 458.5,174.7 459.2,174.4 459.9,177.3 460.6,176.1 461.3,178.2 462.0,175.5 462.7,179.0 463.4,174.1 464.1,174.8 464.8,179.6 465.5,177.3 466.2,177.5 466.9,178.6 467.6,181.6 468.3,184.0 469.0,183.9 469.7,179.9 470.4,178.8 471.2,185.0 471.9,180.6 472.6,185.1 473.3,179.4 474.0,185.7 474.7,182.9 475.4,179.3 476.1,179.2 476.8,183.7 477.5,185.2 478.2,182.7 478.9,181.0 479.6,185.5 480.3,180.2 481.0,185.9 481.7,183.5 482.4,182.9 483.1,185.3 483.8,182.4 484.5,182.8 485.2,181.1 485.9,178.8 486.6,182.7 487.3,184.0 488.0,183.0 488.7,183.4 489.4,182.8 490.1,176.3 490.8,179.8 491.5,177.2 492.2,175.6 492.9,175.1 493.6,179.2 494.4,172.9 495.1,176.1 495.8,174.9 496.5,176.5 497.2,175.6 497.9,173.4 498.6,171.6 499.3,171.6 500.0,171.7 500.7,171.3 501.4,169.3 502.1,169.3 502.8,168.5 503.5,169.7 504.2,167.8 504.9,167.1 505.6,165.9 506.3,163.8 507.0,163.2 507.7,166.9 508.4,164.5 509.1,165.1 509.8,161.2 510.5,161.5 511.2,164.0 511.9,164.0 512.6,163.0 513.3,163.2 514.0,159.1 514.7,159.7 515.4,158.1 516.1,156.2 516.9,155.4 517.6,157.9 518.3,157.0 519.0,154.9 519.7,155.5 520.4,156.4 521.1,156.6 521.8,158.6 522.5,155.9 523.2,156.9 523.9,153.1 524.6,152.8 525.3,153.5 526.0,154.4 526.7,150.9 527.4,154.9 528.1,152.4 528.8,156.9 529.5,149.8 530.2,153.7 530.9,151.3 531.6,154.4 532.3,152.5 533.0,152.7 533.7,149.9 534.4,147.3 535.1,149.3 535.8,152.9 536.5,147.8 537.2,149.1 537.9,147.1 538.6,150.3 539.3,143.3 540.1,146.2 540.8,143.8 541.5,146.5 542.2,142.8 542.9,145.6 543.6,140.6 544.3,144.5 545.0,140.5 545.7,142.3 546.4,145.1 547.1,143.9 547.8,143.9 548.5,140.2 549.2,139.6 549.9,141.2 550.6,141.0 551.3,137.4 552.0,140.0 552.7,139.4 553.4,141.1 554.1,142.4 554.8,143.6 555.5,141.0 556.2,138.5 556.9,140.2 557.6,139.0 558.3,138.7 559.0,137.7 559.7,138.6 560.4,133.5 561.1,137.3 561.8,134.6 562.5,136.8 563.3,135.9 564.0,138.4 564.7,134.5 565.4,135.1 566.1,131.3 566.8,133.2 567.5,134.2 568.2,129.7 568.9,132.3 569.6,129.5 570.3,131.2 571.0,133.7 571.7,130.5 572.4,132.2 573.1,127.4 573.8,127.3 574.5,129.9 575.2,127.7 575.9,129.5 576.6,130.8 577.3,129.3 578.0,131.6 578.7,126.6 579.4,131.6 580.1,126.0 580.8,129.9 581.5,127.8 582.2,127.9 582.9,129.2 583.6,124.0 584.3,125.7 585.0,124.8 585.8,123.3 586.5,129.6 587.2,123.5 587.9,127.9 588.6,125.0 589.3,128.1 590.0,126.5 590.7,127.3 591.4,123.8 592.1,120.7 592.8,123.4 593.5,126.5 594.2,120.1 594.9,122.6 595.6,119.7 596.3,124.9 597.0,120.4 597.7,121.5 598.4,123.3 599.1,121.5 599.8,123.6 600.5,124.4 601.2,119.6 601.9,124.7 602.6,121.1 603.3,121.2 604.0,119.5 604.7,126.0 605.4,123.0 606.1,123.6 606.8,121.4 607.5,125.8 608.2,122.3 609.0,125.3 609.7,119.2 610.4,120.9 611.1,119.5 611.8,123.1 612.5,119.7 613.2,123.3 613.9,125.4 614.6,123.6 615.3,125.3 616.0,124.5 616.7,121.5 617.4,126.5 618.1,122.4 618.8,119.9 619.5,127.1 620.2,126.6 620.9,125.7 621.6,121.6 622.3,120.3 623.0,125.0 623.7,126.3 624.4,120.3 625.1,126.0 625.8,124.0 626.5,120.0 627.2,122.3 627.9,121.3 628.6,120.9 629.3,118.4 630.0,119.5 630.7,117.0 631.5,119.9 632.2,119.5 632.9,116.9 633.6,118.4 634.3,118.9 635.0,116.7 635.7,120.1 636.4,115.5 637.1,118.2 637.8,122.0 638.5,117.2 639.2,115.1 639.9,119.4 640.6,121.9 641.3,119.3 642.0,116.8 642.7,115.9 643.4,116.2 644.1,120.3 644.8,115.4 645.5,116.9 646.2,117.5 646.9,115.1 647.6,119.4 648.3,119.0 649.0,115.3 649.7,113.2 650.4,115.4 651.1,119.5 651.8,116.5 652.5,118.1 653.2,111.9 653.9,114.7 654.7,112.3 655.4,115.7 656.1,114.7 656.8,113.7 657.5,117.6 658.2,116.2 658.9,111.9 659.6,115.4 660.3,114.8 661.0,116.9 661.7,114.8 662.4,115.1 663.1,116.4 663.8,117.0 664.5,117.1 665.2,118.6 665.9,115.1 666.6,118.8 667.3,114.8 668.0,117.3 668.7,115.7 669.4,116.9 670.1,119.5 670.8,114.7 671.5,115.1 672.2,115.3 672.9,112.6 673.6,113.2 674.3,117.9 675.0,118.2 675.7,114.3 676.4,112.3 677.2,115.0 677.9,112.2 678.6,113.3 679.3,116.4 680.0,113.2 680.7,112.8 681.4,116.3 682.1,117.5 682.8,113.0 683.5,114.7 684.2,114.7 684.9,116.6 685.6,117.6 686.3,114.6 687.0,113.4 687.7,114.0 688.4,118.2" fill="none" stroke="#000" stroke-width="1.00" stroke-linejoin="miter" stroke-miterlimit="4"/>
<path d="M391.0,121.0 392.0,121.0 393.0,120.7 394.0,120.3 395.0,119.9 396.0,119.7 397.0,119.6 398.0,119.9 399.0,120.6 400.0,122.0 401.0,123.9 402.0,126.2 403.0,128.6 404.0,131.1 405.0,133.5 406.0,135.7 407.0,137.7 408.0,139.5 409.0,140.8 410.0,141.8 411.0,142.6 412.0,143.1 413.0,143.5 414.0,143.8 415.0,144.0 416.0,144.1 417.0,143.9 418.0,143.7 419.0,143.6 420.0,143.5 421.0,143.5 422.0,143.5 423.0,143.6 424.0,143.6 425.0,143.9 426.0,144.3 427.0,144.6 428.0,145.1 429.0,145.7 430.0,146.4 431.0,147.3 432.0,149.4 433.0,152.2 434.0,155.1 435.0,158.2 436.0,161.5 437.0,164.8 438.0,168.1 439.0,171.4 440.0,174.7 441.0,177.9 442.0,181.0 443.0,184.1 444.0,187.2 445.0,190.1 446.0,193.0 447.0,195.9 448.0,198.8 449.0,201.6 450.0,204.2 451.0,206.8 452.0,209.3 453.0,211.9 454.0,214.5 455.0,217.1 456.0,219.6 457.0,222.1 458.0,224.8 459.0,227.5 460.0,230.0 461.0,232.6 462.0,235.1 463.0,237.7 464.0,240.2 465.0,242.6 466.0,244.9 467.0,247.1 468.0,249.2 469.0,251.0 470.0,252.7 471.0,254.4 472.0,256.0 473.0,257.5 474.0,258.9 475.0,260.4 476.0,261.8 477.0,263.2 478.0,264.4 479.0,265.6 480.0,266.6 481.0,267.4 482.0,267.9 483.0,267.4 484.0,265.3 485.0,261.7 486.0,259.3 487.0,258.3 488.0,257.8 489.0,257.6 490.0,257.6 491.0,257.8 492.0,258.1 493.0,258.4 494.0,258.7 495.0,259.0 496.0,259.3 497.0,259.5 498.0,259.7 499.0,259.6 500.0,259.3 501.0,258.8 502.0,258.2 503.0,257.4 504.0,256.3 505.0,255.2 506.0,254.0 507.0,252.6 508.0,251.1 509.0,249.7 510.0,248.3 511.0,246.9 512.0,245.5 513.0,244.1 514.0,242.7 515.0,241.3 516.0,240.4 517.0,239.5 518.0,238.6 519.0,237.6 520.0,236.7 521.0,235.7 522.0,234.8 523.0,233.8 524.0,232.5 525.0,231.0 526.0,229.4 527.0,227.4 528.0,223.7 529.0,221.2 530.0,219.6 531.0,218.4 532.0,217.3 533.0,216.5 534.0,215.6 535.0,214.7 536.0,213.7 537.0,212.6 538.0,211.4 539.0,210.1 540.0,208.4 541.0,206.4 542.0,204.3 543.0,202.0 544.0,199.8 545.0,197.6 546.0,195.5 547.0,193.4 548.0,191.5 549.0,190.0 550.0,188.5 551.0,187.2 552.0,185.9 553.0,184.6 554.0,183.4 555.0,182.1 556.0,180.9 557.0,179.5 558.0,177.9 559.0,176.3 560.0,174.8 561.0,173.3 562.0,171.8 563.0,170.3 564.0,168.8 565.0,167.5 566.0,166.5 567.0,165.4 568.0,164.4 569.0,163.4 570.0,162.4 571.0,161.4 572.0,160.5 573.0,159.5 574.0,158.4 575.0,157.4 576.0,156.5 577.0,155.6 578.0,154.7 579.0,153.9 580.0,153.0 581.0,152.2 582.0,151.3 583.0,150.5 584.0,149.6 585.0,148.7 586.0,147.7 587.0,146.7 588.0,145.7 589.0,144.7 590.0,143.6 591.0,142.6 592.0,141.6 593.0,140.6 594.0,139.6 595.0,138.6 596.0,137.6 597.0,136.7 598.0,135.7 599.0,134.9 600.0,134.0 601.0,133.2 602.0,132.4 603.0,131.6 604.0,130.9 605.0,130.2 606.0,129.6 607.0,129.0 608.0,128.4 609.0,127.8 610.0,127.3 611.0,126.9 612.0,126.5 613.0,126.1 614.0,125.7 615.0,125.4 616.0,125.1 617.0,124.8 618.0,124.5 619.0,124.3 620.0,124.0 621.0,123.8 622.0,123.6 623.0,123.5 624.0,123.4 625.0,123.3 626.0,123.2 627.0,123.1 628.0,123.0 629.0,122.9 630.0,122.9 631.0,122.8 632.0,122.7 633.0,122.6 634.0,122.6 635.0,122.5 636.0,122.4 637.0,122.3 638.0,122.3 639.0,122.2 640.0,122.2 641.0,122.1 642.0,122.1 643.0,122.1 644.0,122.0 645.0,122.0 646.0,121.9 647.0,121.9 648.0,121.7 649.0,121.5 650.0,121.3 651.0,121.1 652.0,120.9 653.0,120.6 654.0,120.4 655.0,120.2 656.0,120.0 657.0,119.7 658.0,119.5 659.0,119.2 660.0,119.0 661.0,118.8 662.0,118.5 663.0,118.3 664.0,118.2 665.0,118.2 666.0,118.3 667.0,118.3 668.0,118.3 669.0,118.4 670.0,118.4 671.0,118.5 672.0,118.5 673.0,118.4 674.0,118.3 675.0,118.2 676.0,118.0 677.0,117.9 678.0,117.8 679.0,117.7 680.0,117.6 681.0,117.5 682.0,117.4 683.0,117.2 684.0,117.1 685.0,116.9 686.0,116.8 687.0,116.7 688.0,116.5" fill="none" stroke="#000" stroke-width="2.10" stroke-linejoin="round"/><path d="M391.0,121.3 391.7,121.2 392.4,120.5 393.1,120.6 393.8,121.0 394.5,119.5 395.2,119.8 395.9,119.1 396.6,122.2 397.3,118.1 398.0,120.2 398.7,118.5 399.4,123.6 400.1,122.7 400.8,122.3 401.5,124.4 402.2,128.6 403.0,125.5 403.7,129.5 404.4,131.5 405.1,134.1 405.8,133.1 406.5,137.0 407.2,136.3 407.9,136.3 408.6,143.0 409.3,143.5 410.0,141.6 410.7,143.8 411.4,142.0 412.1,144.9 412.8,143.9 413.5,144.1 414.2,140.3 414.9,140.7 415.6,143.7 416.3,147.0 417.0,143.6 417.7,144.8 418.4,139.9 419.1,140.0 419.8,141.9 420.5,145.9 421.2,142.3 421.9,140.4 422.6,142.6 423.3,144.3 424.0,144.1 424.7,146.0 425.5,145.9 426.2,147.6 426.9,145.1 427.6,147.8 428.3,141.7 429.0,148.3 429.7,145.8 430.4,147.2 431.1,147.0 431.8,149.9 432.5,153.5 433.2,153.2 433.9,153.3 434.6,156.7 435.3,156.8 436.0,161.9 436.7,166.7 437.4,168.2 438.1,167.9 438.8,173.2 439.5,172.0 440.2,177.1 440.9,179.5 441.6,180.7 442.3,183.4 443.0,187.0 443.7,183.2 444.4,191.5 445.1,188.6 445.8,195.8 446.5,194.1 447.2,200.4 447.9,198.4 448.7,204.0 449.4,205.4 450.1,203.1 450.8,203.3 451.5,211.6 452.2,209.2 452.9,213.8 453.6,213.3 454.3,217.5 455.0,217.3 455.7,216.5 456.4,220.4 457.1,223.6 457.8,221.1 458.5,227.1 459.2,231.6 459.9,231.3 460.6,231.0 461.3,236.9 462.0,234.7 462.7,239.0 463.4,242.3 464.1,237.0 464.8,240.4 465.5,244.5 466.2,243.8 466.9,246.1 467.6,249.4 468.3,250.8 469.0,250.5 469.7,252.1 470.4,250.8 471.2,254.8 471.9,253.8 472.6,255.6 473.3,255.6 474.0,260.8 474.7,261.5 475.4,263.7 476.1,263.9 476.8,266.2 477.5,261.8 478.2,267.9 478.9,262.3 479.6,263.7 480.3,265.8 481.0,269.0 481.7,267.5 482.4,270.4 483.1,269.5 483.8,262.9 484.5,263.1 485.2,261.5 485.9,257.2 486.6,261.1 487.3,257.8 488.0,258.0 488.7,256.6 489.4,256.5 490.1,257.8 490.8,258.1 491.5,257.3 492.2,258.3 492.9,257.9 493.6,258.8 494.4,257.6 495.1,261.7 495.8,256.9 496.5,261.5 497.2,258.0 497.9,259.1 498.6,259.9 499.3,260.1 500.0,255.8 500.7,261.9 501.4,260.5 502.1,260.2 502.8,254.9 503.5,253.9 504.2,256.9 504.9,258.2 505.6,252.2 506.3,254.5 507.0,253.5 507.7,252.1 508.4,248.7 509.1,253.2 509.8,245.7 510.5,248.1 511.2,247.0 511.9,246.5 512.6,245.1 513.3,244.1 514.0,240.0 514.7,240.6 515.4,239.0 516.1,241.2 516.9,235.9 517.6,241.0 518.3,238.8 519.0,240.5 519.7,236.1 520.4,237.8 521.1,234.8 521.8,233.4 522.5,233.3 523.2,232.6 523.9,232.1 524.6,235.2 525.3,229.9 526.0,230.3 526.7,226.8 527.4,226.6 528.1,222.6 528.8,222.9 529.5,222.3 530.2,221.1 530.9,217.3 531.6,220.0 532.3,214.4 533.0,217.3 533.7,215.1 534.4,217.4 535.1,215.9 535.8,216.9 536.5,213.3 537.2,214.2 537.9,210.4 538.6,209.9 539.3,212.7 540.1,209.0 540.8,209.7 541.5,208.5 542.2,207.5 542.9,201.9 543.6,200.2 544.3,198.9 545.0,196.6 545.7,199.5 546.4,192.5 547.1,193.8 547.8,191.5 548.5,188.1 549.2,187.5 549.9,188.8 550.6,185.7 551.3,187.4 552.0,184.9 552.7,185.3 553.4,180.3 554.1,184.7 554.8,184.5 555.5,180.9 556.2,181.9 556.9,181.8 557.6,175.8 558.3,180.7 559.0,177.1 559.7,174.4 560.4,175.4 561.1,172.1 561.8,169.0 562.5,169.8 563.3,168.7 564.0,170.5 564.7,169.8 565.4,168.2 566.1,166.6 566.8,163.1 567.5,164.5 568.2,161.1 568.9,162.7 569.6,163.6 570.3,163.9 571.0,158.1 571.7,162.0 572.4,158.5 573.1,160.7 573.8,158.2 574.5,157.0 575.2,160.6 575.9,153.0 576.6,155.1 577.3,158.7 578.0,154.5 578.7,151.6 579.4,153.7 580.1,154.3 580.8,153.7 581.5,150.3 582.2,154.7 582.9,149.4 583.6,150.1 584.3,148.9 585.0,151.3 585.8,147.5 586.5,147.6 587.2,146.0 587.9,142.2 588.6,143.7 589.3,143.9 590.0,141.4 590.7,141.8 591.4,140.4 592.1,145.3 592.8,138.4 593.5,138.3 594.2,135.6 594.9,140.4 595.6,136.5 596.3,140.4 597.0,133.1 597.7,138.5 598.4,134.2 599.1,136.1 599.8,134.3 600.5,134.3 601.2,135.8 601.9,130.9 602.6,128.8 603.3,129.1 604.0,129.0 604.7,133.3 605.4,128.3 606.1,131.8 606.8,130.7 607.5,129.8 608.2,131.0 609.0,128.2 609.7,123.8 610.4,130.8 611.1,123.8 611.8,125.0 612.5,127.7 613.2,127.3 613.9,124.3 614.6,126.2 615.3,128.2 616.0,128.3 616.7,126.5 617.4,121.6 618.1,125.4 618.8,127.5 619.5,120.5 620.2,121.7 620.9,120.2 621.6,126.3 622.3,121.1 623.0,125.0 623.7,123.1 624.4,122.9 625.1,120.2 625.8,122.6 626.5,120.7 627.2,123.6 627.9,120.3 628.6,126.6 629.3,120.8 630.0,122.6 630.7,120.2 631.5,124.3 632.2,119.5 632.9,122.1 633.6,121.7 634.3,126.0 635.0,119.4 635.7,125.8 636.4,120.7 637.1,120.0 637.8,125.8 638.5,124.5 639.2,121.9 639.9,122.7 640.6,122.0 641.3,122.5 642.0,121.9 642.7,123.3 643.4,119.9 644.1,125.2 644.8,123.3 645.5,122.5 646.2,118.5 646.9,125.3 647.6,118.1 648.3,121.8 649.0,123.5 649.7,123.5 650.4,119.4 651.1,120.4 651.8,117.5 652.5,122.5 653.2,120.8 653.9,121.5 654.7,117.7 655.4,120.8 656.1,122.7 656.8,120.4 657.5,121.0 658.2,118.5 658.9,119.7 659.6,115.8 660.3,117.9 661.0,116.1 661.7,115.3 662.4,117.6 663.1,118.1 663.8,119.9 664.5,119.0 665.2,121.4 665.9,117.7 666.6,120.8 667.3,118.1 668.0,119.2 668.7,119.0 669.4,121.5 670.1,116.4 670.8,116.2 671.5,118.2 672.2,119.4 672.9,121.7 673.6,120.4 674.3,115.5 675.0,116.5 675.7,117.4 676.4,121.4 677.2,117.1 677.9,118.4 678.6,120.0 679.3,118.0 680.0,114.9 680.7,120.0 681.4,116.2 682.1,119.0 682.8,115.7 683.5,117.5 684.2,117.4 684.9,118.1 685.6,116.7 686.3,116.2 687.0,115.5 687.7,114.4 688.4,114.8" fill="none" stroke="#000" stroke-width="1.00" stroke-linejoin="miter" stroke-miterlimit="4"/>
<path d="M391.0,121.0 392.0,121.1 393.0,121.0 394.0,120.9 395.0,120.6 396.0,120.4 397.0,120.3 398.0,120.3 399.0,120.6 400.0,121.5 401.0,122.9 402.0,124.5 403.0,126.3 404.0,128.2 405.0,130.2 406.0,132.2 407.0,134.1 408.0,136.1 409.0,138.1 410.0,140.2 411.0,142.3 412.0,144.5 413.0,146.8 414.0,149.1 415.0,151.4 416.0,153.9 417.0,156.2 418.0,158.6 419.0,161.0 420.0,163.4 421.0,165.8 422.0,168.1 423.0,170.4 424.0,172.6 425.0,174.6 426.0,176.5 427.0,178.3 428.0,180.1 429.0,181.7 430.0,183.3 431.0,184.8 432.0,186.3 433.0,187.9 434.0,189.2 435.0,190.2 436.0,191.0 437.0,192.0 438.0,193.2 439.0,194.9 440.0,197.0 441.0,199.5 442.0,202.4 443.0,205.5 444.0,208.7 445.0,212.1 446.0,215.4 447.0,218.9 448.0,222.3 449.0,225.8 450.0,229.1 451.0,232.4 452.0,235.8 453.0,239.0 454.0,242.3 455.0,245.4 456.0,248.5 457.0,251.4 458.0,254.3 459.0,257.1 460.0,259.8 461.0,262.4 462.0,264.9 463.0,267.2 464.0,269.3 465.0,271.4 466.0,273.5 467.0,275.7 468.0,277.9 469.0,280.1 470.0,282.2 471.0,284.1 472.0,286.0 473.0,287.7 474.0,289.3 475.0,290.9 476.0,292.3 477.0,293.5 478.0,294.6 479.0,295.6 480.0,296.6 481.0,297.4 482.0,298.2 483.0,298.6 484.0,298.9 485.0,299.2 486.0,299.4 487.0,299.5 488.0,299.6 489.0,299.6 490.0,299.6 491.0,299.5 492.0,299.3 493.0,299.2 494.0,298.9 495.0,298.6 496.0,298.3 497.0,297.8 498.0,297.4 499.0,297.0 500.0,296.7 501.0,296.4 502.0,296.1 503.0,295.7 504.0,295.3 505.0,294.9 506.0,294.4 507.0,293.9 508.0,293.2 509.0,292.5 510.0,291.7 511.0,291.0 512.0,290.2 513.0,289.4 514.0,288.6 515.0,287.7 516.0,287.0 517.0,286.2 518.0,285.4 519.0,284.4 520.0,283.3 521.0,282.2 522.0,281.1 523.0,280.0 524.0,278.7 525.0,277.3 526.0,276.1 527.0,274.9 528.0,273.8 529.0,272.7 530.0,271.6 531.0,270.6 532.0,269.6 533.0,268.6 534.0,267.6 535.0,266.6 536.0,265.6 537.0,264.6 538.0,263.6 539.0,262.6 540.0,261.7 541.0,260.9 542.0,260.1 543.0,259.3 544.0,258.5 545.0,257.7 546.0,256.9 547.0,256.0 548.0,255.1 549.0,254.2 550.0,253.1 551.0,252.1 552.0,250.9 553.0,249.6 554.0,248.1 555.0,246.5 556.0,244.8 557.0,243.4 558.0,242.2 559.0,241.1 560.0,240.0 561.0,239.0 562.0,238.0 563.0,236.9 564.0,235.9 565.0,234.6 566.0,233.1 567.0,231.7 568.0,230.2 569.0,228.7 570.0,227.3 571.0,225.9 572.0,224.5 573.0,223.1 574.0,221.9 575.0,220.7 576.0,219.6 577.0,218.5 578.0,217.4 579.0,216.3 580.0,215.3 581.0,214.3 582.0,213.5 583.0,212.7 584.0,212.0 585.0,211.2 586.0,210.5 587.0,209.7 588.0,208.9 589.0,208.1 590.0,206.9 591.0,205.6 592.0,204.3 593.0,202.9 594.0,201.5 595.0,200.1 596.0,198.6 597.0,197.1 598.0,195.7 599.0,194.5 600.0,193.3 601.0,192.1 602.0,190.9 603.0,189.6 604.0,188.4 605.0,187.1 606.0,185.8 607.0,184.5 608.0,183.1 609.0,181.8 610.0,180.4 611.0,179.1 612.0,177.8 613.0,176.4 614.0,175.1 615.0,173.6 616.0,172.1 617.0,170.7 618.0,169.3 619.0,167.8 620.0,166.4 621.0,164.9 622.0,163.4 623.0,161.7 624.0,159.9 625.0,158.1 626.0,156.3 627.0,154.6 628.0,153.0 629.0,151.4 630.0,149.9 631.0,148.7 632.0,147.7 633.0,146.8 634.0,146.0 635.0,145.2 636.0,144.4 637.0,143.7 638.0,143.0 639.0,142.3 640.0,141.5 641.0,140.7 642.0,139.9 643.0,139.2 644.0,138.4 645.0,137.6 646.0,136.9 647.0,136.1 648.0,135.5 649.0,135.0 650.0,134.4 651.0,133.8 652.0,133.2 653.0,132.6 654.0,132.0 655.0,131.3 656.0,130.5 657.0,129.6 658.0,128.7 659.0,127.8 660.0,127.0 661.0,126.2 662.0,125.4 663.0,124.7 664.0,124.1 665.0,123.7 666.0,123.2 667.0,122.8 668.0,122.5 669.0,122.2 670.0,121.9 671.0,121.7 672.0,121.4 673.0,121.3 674.0,121.2 675.0,121.0 676.0,120.9 677.0,120.8 678.0,120.7 679.0,120.6 680.0,120.5 681.0,120.4 682.0,120.2 683.0,120.0 684.0,119.8 685.0,119.7 686.0,119.5 687.0,119.3 688.0,119.1" fill="none" stroke="#000" stroke-width="2.10" stroke-linejoin="round"/><path d="M391.0,121.6 391.7,120.9 392.4,121.4 393.1,121.3 393.8,121.3 394.5,121.2 395.2,121.2 395.9,122.0 396.6,119.9 397.3,118.3 398.0,121.3 398.7,120.8 399.4,121.4 400.1,125.0 400.8,122.9 401.5,122.8 402.2,128.1 403.0,125.9 403.7,126.9 404.4,128.1 405.1,133.4 405.8,132.1 406.5,129.5 407.2,134.0 407.9,137.7 408.6,140.0 409.3,140.5 410.0,138.5 410.7,143.0 411.4,142.4 412.1,148.5 412.8,147.6 413.5,150.1 414.2,151.5 414.9,147.6 415.6,152.1 416.3,155.1 417.0,152.9 417.7,159.6 418.4,157.4 419.1,163.4 419.8,160.2 420.5,161.6 421.2,168.8 421.9,167.8 422.6,166.5 423.3,171.4 424.0,175.8 424.7,174.3 425.5,172.7 426.2,174.6 426.9,177.9 427.6,182.0 428.3,178.5 429.0,182.1 429.7,179.5 430.4,185.9 431.1,186.4 431.8,182.5 432.5,187.7 433.2,187.6 433.9,185.8 434.6,190.4 435.3,193.4 436.0,191.7 436.7,188.7 437.4,193.7 438.1,191.3 438.8,196.6 439.5,194.7 440.2,195.7 440.9,197.0 441.6,201.7 442.3,206.8 443.0,208.6 443.7,207.2 444.4,210.9 445.1,213.8 445.8,212.1 446.5,215.6 447.2,220.7 447.9,219.4 448.7,225.2 449.4,229.4 450.1,232.0 450.8,231.3 451.5,232.1 452.2,234.3 452.9,242.3 453.6,240.0 454.3,244.6 455.0,248.9 455.7,247.1 456.4,252.9 457.1,252.9 457.8,252.6 458.5,259.4 459.2,256.4 459.9,258.7 460.6,260.7 461.3,260.7 462.0,262.7 462.7,265.8 463.4,266.5 464.1,270.5 464.8,274.1 465.5,273.6 466.2,276.1 466.9,272.2 467.6,276.4 468.3,282.3 469.0,278.6 469.7,279.4 470.4,282.2 471.2,286.8 471.9,283.2 472.6,285.0 473.3,291.3 474.0,290.8 474.7,290.2 475.4,288.0 476.1,290.5 476.8,291.2 477.5,296.1 478.2,294.6 478.9,296.4 479.6,296.5 480.3,299.1 481.0,300.5 481.7,295.7 482.4,301.3 483.1,299.7 483.8,299.1 484.5,297.7 485.2,299.8 485.9,300.3 486.6,300.2 487.3,298.9 488.0,297.2 488.7,301.6 489.4,296.6 490.1,303.3 490.8,298.7 491.5,295.9 492.2,302.0 492.9,301.1 493.6,302.7 494.4,297.1 495.1,298.8 495.8,297.9 496.5,297.1 497.2,295.3 497.9,299.3 498.6,294.7 499.3,297.1 500.0,296.0 500.7,298.4 501.4,298.5 502.1,297.4 502.8,295.1 503.5,296.5 504.2,292.5 504.9,297.4 505.6,295.4 506.3,297.9 507.0,293.6 507.7,292.7 508.4,294.3 509.1,289.5 509.8,290.0 510.5,293.7 511.2,287.2 511.9,291.4 512.6,289.1 513.3,290.4 514.0,286.6 514.7,288.4 515.4,287.2 516.1,289.5 516.9,282.6 517.6,282.3 518.3,283.9 519.0,283.0 519.7,280.7 520.4,286.7 521.1,283.3 521.8,284.9 522.5,283.0 523.2,280.3 523.9,280.3 524.6,278.0 525.3,275.7 526.0,277.8 526.7,272.4 527.4,275.5 528.1,271.4 528.8,275.2 529.5,270.4 530.2,273.5 530.9,269.2 531.6,272.1 532.3,267.8 533.0,271.9 533.7,267.4 534.4,270.3 535.1,263.8 535.8,265.6 536.5,267.6 537.2,265.5 537.9,262.0 538.6,264.7 539.3,259.7 540.1,260.1 540.8,263.3 541.5,259.9 542.2,260.3 542.9,261.7 543.6,255.1 544.3,258.6 545.0,254.3 545.7,258.4 546.4,254.3 547.1,255.1 547.8,252.9 548.5,256.1 549.2,251.1 549.9,254.1 550.6,251.5 551.3,253.9 552.0,251.3 552.7,253.7 553.4,247.0 554.1,251.6 554.8,246.2 555.5,248.1 556.2,243.8 556.9,243.8 557.6,241.2 558.3,243.4 559.0,239.2 559.7,238.8 560.4,239.0 561.1,241.2 561.8,238.9 562.5,238.3 563.3,233.9 564.0,238.3 564.7,232.6 565.4,237.5 566.1,229.9 566.8,232.7 567.5,227.3 568.2,231.7 568.9,227.1 569.6,227.0 570.3,225.7 571.0,227.8 571.7,224.7 572.4,226.4 573.1,221.9 573.8,219.7 574.5,218.7 575.2,218.4 575.9,219.4 576.6,217.0 577.3,217.0 578.0,214.9 578.7,214.1 579.4,217.5 580.1,217.8 580.8,214.0 581.5,210.9 582.2,209.7 582.9,216.1 583.6,209.3 584.3,210.4 585.0,207.7 585.8,212.5 586.5,209.4 587.2,207.7 587.9,212.1 588.6,210.8 589.3,210.9 590.0,206.7 590.7,209.7 591.4,208.5 592.1,205.8 592.8,199.8 593.5,202.8 594.2,200.1 594.9,200.8 595.6,196.9 596.3,201.5 597.0,193.6 597.7,196.4 598.4,198.0 599.1,196.3 599.8,192.9 600.5,189.4 601.2,190.1 601.9,191.2 602.6,191.3 603.3,191.6 604.0,185.2 604.7,186.8 605.4,184.5 606.1,185.9 606.8,181.3 607.5,183.9 608.2,179.1 609.0,183.8 609.7,183.6 610.4,182.3 611.1,177.4 611.8,179.5 612.5,176.5 613.2,177.1 613.9,175.6 614.6,175.1 615.3,175.4 616.0,174.0 616.7,169.2 617.4,171.9 618.1,165.6 618.8,165.0 619.5,168.0 620.2,168.0 620.9,161.4 621.6,164.8 622.3,160.5 623.0,159.4 623.7,158.1 624.4,161.0 625.1,155.3 625.8,157.8 626.5,151.9 627.2,156.1 627.9,154.1 628.6,154.2 629.3,148.5 630.0,153.3 630.7,146.7 631.5,146.5 632.2,146.4 632.9,148.3 633.6,145.4 634.3,143.6 635.0,148.3 635.7,146.7 636.4,143.5 637.1,143.4 637.8,139.9 638.5,143.6 639.2,139.8 639.9,138.1 640.6,137.5 641.3,142.3 642.0,136.5 642.7,140.7 643.4,135.3 644.1,140.7 644.8,137.5 645.5,140.2 646.2,136.2 646.9,132.4 647.6,135.5 648.3,138.1 649.0,134.5 649.7,132.8 650.4,133.0 651.1,137.0 651.8,132.5 652.5,130.4 653.2,136.0 653.9,132.3 654.7,129.0 655.4,131.4 656.1,127.7 656.8,126.7 657.5,128.7 658.2,125.3 658.9,126.5 659.6,128.3 660.3,130.4 661.0,127.4 661.7,125.0 662.4,126.2 663.1,128.0 663.8,128.0 664.5,122.4 665.2,125.2 665.9,125.3 666.6,126.1 667.3,122.6 668.0,125.4 668.7,118.6 669.4,123.4 670.1,123.3 670.8,118.1 671.5,120.2 672.2,122.6 672.9,118.2 673.6,122.7 674.3,123.3 675.0,121.9 675.7,118.6 676.4,122.0 677.2,123.6 677.9,122.3 678.6,117.2 679.3,122.4 680.0,117.4 680.7,119.0 681.4,122.6 682.1,121.0 682.8,122.0 683.5,122.2 684.2,119.2 684.9,117.9 685.6,116.1 686.3,120.1 687.0,117.7 687.7,116.1 688.4,117.6" fill="none" stroke="#000" stroke-width="1.00" stroke-linejoin="miter" stroke-miterlimit="4"/>
<path d="M391.0,121.0 392.0,120.8 393.0,120.5 394.0,120.1 395.0,119.8 396.0,119.7 397.0,119.7 398.0,120.0 399.0,120.7 400.0,121.6 401.0,122.9 402.0,124.4 403.0,126.2 404.0,128.2 405.0,130.1 406.0,132.0 407.0,133.9 408.0,135.9 409.0,138.0 410.0,140.2 411.0,142.4 412.0,144.5 413.0,146.7 414.0,148.9 415.0,151.0 416.0,153.1 417.0,155.3 418.0,157.4 419.0,159.5 420.0,161.7 421.0,163.9 422.0,166.1 423.0,168.3 424.0,170.5 425.0,173.0 426.0,175.6 427.0,178.3 428.0,181.0 429.0,183.9 430.0,186.9 431.0,189.9 432.0,192.9 433.0,196.5 434.0,199.9 435.0,203.4 436.0,206.9 437.0,210.5 438.0,214.1 439.0,217.7 440.0,221.2 441.0,224.7 442.0,228.2 443.0,231.6 444.0,235.0 445.0,238.3 446.0,241.5 447.0,244.6 448.0,247.7 449.0,250.7 450.0,253.9 451.0,257.1 452.0,260.3 453.0,263.4 454.0,266.5 455.0,269.6 456.0,272.7 457.0,275.8 458.0,278.6 459.0,281.4 460.0,284.1 461.0,286.9 462.0,289.6 463.0,292.2 464.0,294.9 465.0,297.5 466.0,300.1 467.0,302.7 468.0,305.2 469.0,307.6 470.0,310.0 471.0,312.3 472.0,314.4 473.0,316.4 474.0,318.0 475.0,319.1 476.0,320.0 477.0,320.8 478.0,321.5 479.0,322.1 480.0,322.7 481.0,323.2 482.0,323.7 483.0,324.5 484.0,325.2 485.0,325.8 486.0,326.4 487.0,326.9 488.0,327.4 489.0,327.8 490.0,328.1 491.0,328.1 492.0,328.1 493.0,328.0 494.0,327.8 495.0,327.6 496.0,327.3 497.0,327.0 498.0,326.6 499.0,326.3 500.0,326.1 501.0,325.8 502.0,325.5 503.0,325.1 504.0,324.8 505.0,324.4 506.0,323.9 507.0,323.5 508.0,322.9 509.0,322.3 510.0,321.7 511.0,321.1 512.0,320.4 513.0,319.7 514.0,319.0 515.0,318.3 516.0,317.7 517.0,316.9 518.0,316.2 519.0,315.4 520.0,314.5 521.0,313.6 522.0,312.6 523.0,311.6 524.0,310.5 525.0,309.3 526.0,308.2 527.0,307.0 528.0,305.8 529.0,304.6 530.0,303.4 531.0,302.2 532.0,301.1 533.0,300.1 534.0,299.1 535.0,298.2 536.0,297.3 537.0,296.5 538.0,295.7 539.0,295.0 540.0,294.2 541.0,293.3 542.0,292.5 543.0,291.6 544.0,290.8 545.0,289.9 546.0,289.1 547.0,288.2 548.0,287.3 549.0,286.4 550.0,285.4 551.0,284.4 552.0,283.4 553.0,282.3 554.0,281.2 555.0,280.1 556.0,279.0 557.0,278.0 558.0,277.1 559.0,276.2 560.0,275.3 561.0,274.4 562.0,273.4 563.0,272.5 564.0,271.5 565.0,270.3 566.0,269.0 567.0,267.6 568.0,266.2 569.0,264.7 570.0,263.3 571.0,261.8 572.0,260.2 573.0,258.7 574.0,257.4 575.0,256.0 576.0,254.4 577.0,252.8 578.0,251.1 579.0,249.4 580.0,247.7 581.0,246.0 582.0,244.2 583.0,242.5 584.0,240.9 585.0,239.5 586.0,238.2 587.0,237.1 588.0,236.1 589.0,235.1 590.0,234.2 591.0,233.2 592.0,232.4 593.0,231.5 594.0,230.6 595.0,229.8 596.0,228.9 597.0,228.0 598.0,227.2 599.0,226.4 600.0,225.5 601.0,224.5 602.0,223.4 603.0,222.2 604.0,220.8 605.0,219.3 606.0,217.6 607.0,215.8 608.0,214.0 609.0,212.3 610.0,210.6 611.0,209.0 612.0,207.4 613.0,205.9 614.0,204.3 615.0,202.9 616.0,201.5 617.0,200.1 618.0,198.7 619.0,197.3 620.0,195.8 621.0,194.4 622.0,192.9 623.0,191.4 624.0,189.9 625.0,188.4 626.0,186.9 627.0,185.3 628.0,183.7 629.0,182.2 630.0,180.6 631.0,179.0 632.0,177.4 633.0,175.9 634.0,174.3 635.0,172.8 636.0,171.4 637.0,169.9 638.0,168.6 639.0,167.2 640.0,166.0 641.0,164.7 642.0,163.5 643.0,162.4 644.0,161.3 645.0,160.2 646.0,159.1 647.0,158.1 648.0,156.9 649.0,155.7 650.0,154.5 651.0,153.3 652.0,152.1 653.0,150.8 654.0,149.5 655.0,148.1 656.0,146.8 657.0,145.3 658.0,143.7 659.0,141.9 660.0,140.0 661.0,138.2 662.0,136.7 663.0,135.4 664.0,134.3 665.0,133.5 666.0,132.7 667.0,132.2 668.0,131.6 669.0,131.2 670.0,130.8 671.0,130.5 672.0,130.1 673.0,129.7 674.0,129.3 675.0,128.9 676.0,128.5 677.0,128.2 678.0,127.8 679.0,127.5 680.0,127.1 681.0,126.7 682.0,126.3 683.0,125.8 684.0,125.3 685.0,124.9 686.0,124.4 687.0,123.9 688.0,123.4" fill="none" stroke="#000" stroke-width="2.10" stroke-linejoin="round"/><path d="M391.0,120.8 391.7,121.2 392.4,119.9 393.1,119.6 393.8,118.9 394.5,119.4 395.2,119.2 395.9,119.0 396.6,117.7 397.3,116.9 398.0,118.4 398.7,119.1 399.4,123.4 400.1,120.4 400.8,124.6 401.5,123.1 402.2,125.2 403.0,124.8 403.7,128.3 404.4,128.4 405.1,133.9 405.8,129.2 406.5,134.1 407.2,130.5 407.9,135.3 408.6,136.0 409.3,141.9 410.0,143.8 410.7,144.5 411.4,142.6 412.1,146.6 412.8,146.0 413.5,148.1 414.2,152.5 414.9,151.0 415.6,151.9 416.3,154.2 417.0,152.8 417.7,159.0 418.4,157.6 419.1,161.1 419.8,157.8 420.5,163.5 421.2,164.1 421.9,168.1 422.6,167.1 423.3,167.2 424.0,171.5 424.7,172.2 425.5,171.9 426.2,178.7 426.9,176.9 427.6,179.3 428.3,178.1 429.0,184.6 429.7,185.1 430.4,186.8 431.1,189.3 431.8,193.0 432.5,191.2 433.2,197.5 433.9,202.6 434.6,203.7 435.3,204.6 436.0,207.4 436.7,207.2 437.4,213.8 438.1,213.7 438.8,217.9 439.5,216.0 440.2,224.6 440.9,222.2 441.6,230.3 442.3,228.6 443.0,232.8 443.7,231.0 444.4,235.0 445.1,240.2 445.8,243.9 446.5,247.0 447.2,248.6 447.9,244.8 448.7,251.1 449.4,254.3 450.1,254.8 450.8,257.1 451.5,257.9 452.2,263.2 452.9,266.6 453.6,267.9 454.3,268.2 455.0,267.3 455.7,272.8 456.4,270.9 457.1,277.6 457.8,278.8 458.5,280.9 459.2,282.3 459.9,285.0 460.6,284.7 461.3,289.2 462.0,287.3 462.7,294.9 463.4,290.4 464.1,297.1 464.8,295.9 465.5,299.4 466.2,298.7 466.9,302.2 467.6,304.6 468.3,303.8 469.0,308.3 469.7,306.3 470.4,308.7 471.2,314.4 471.9,310.6 472.6,316.0 473.3,315.9 474.0,319.6 474.7,322.4 475.4,319.8 476.1,322.1 476.8,324.0 477.5,320.6 478.2,324.0 478.9,319.6 479.6,323.6 480.3,321.1 481.0,326.7 481.7,325.1 482.4,325.5 483.1,326.4 483.8,325.3 484.5,322.6 485.2,326.2 485.9,330.0 486.6,330.4 487.3,330.0 488.0,330.7 488.7,325.6 489.4,328.9 490.1,326.1 490.8,330.5 491.5,328.6 492.2,325.3 492.9,327.0 493.6,329.6 494.4,326.9 495.1,326.7 495.8,324.2 496.5,329.9 497.2,326.6 497.9,323.9 498.6,329.9 499.3,328.7 500.0,328.5 500.7,326.7 501.4,323.2 502.1,324.2 502.8,321.8 503.5,322.5 504.2,325.7 504.9,327.7 505.6,326.9 506.3,323.2 507.0,322.8 507.7,323.2 508.4,319.9 509.1,322.6 509.8,320.9 510.5,324.0 511.2,320.0 511.9,321.4 512.6,319.7 513.3,319.8 514.0,317.1 514.7,318.0 515.4,314.4 516.1,317.3 516.9,316.1 517.6,317.1 518.3,312.7 519.0,312.7 519.7,314.4 520.4,314.4 521.1,313.2 521.8,310.2 522.5,309.5 523.2,313.6 523.9,312.2 524.6,311.3 525.3,307.0 526.0,308.6 526.7,310.2 527.4,309.3 528.1,308.0 528.8,305.6 529.5,303.3 530.2,306.9 530.9,298.8 531.6,304.2 532.3,298.0 533.0,298.6 533.7,296.2 534.4,301.1 535.1,299.5 535.8,295.1 536.5,296.6 537.2,297.6 537.9,292.7 538.6,296.8 539.3,292.9 540.1,296.1 540.8,297.1 541.5,293.6 542.2,290.0 542.9,293.2 543.6,290.4 544.3,290.3 545.0,287.9 545.7,289.9 546.4,286.8 547.1,289.5 547.8,288.8 548.5,290.1 549.2,285.8 549.9,287.4 550.6,286.1 551.3,284.6 552.0,284.6 552.7,285.8 553.4,282.5 554.1,283.4 554.8,279.4 555.5,281.2 556.2,276.9 556.9,277.8 557.6,274.6 558.3,278.0 559.0,275.5 559.7,274.9 560.4,278.6 561.1,277.8 561.8,272.0 562.5,273.8 563.3,269.7 564.0,271.3 564.7,273.9 565.4,269.7 566.1,268.6 566.8,268.9 567.5,265.4 568.2,265.7 568.9,264.0 569.6,267.6 570.3,260.1 571.0,262.0 571.7,263.9 572.4,261.1 573.1,262.3 573.8,258.7 574.5,255.7 575.2,258.0 575.9,253.0 576.6,252.6 577.3,250.5 578.0,248.9 578.7,250.9 579.4,245.7 580.1,244.8 580.8,249.0 581.5,242.7 582.2,244.5 582.9,240.1 583.6,242.0 584.3,240.9 585.0,241.1 585.8,238.0 586.5,238.2 587.2,234.9 587.9,232.5 588.6,235.3 589.3,236.3 590.0,233.8 590.7,231.7 591.4,231.0 592.1,233.9 592.8,231.5 593.5,228.6 594.2,232.2 594.9,227.9 595.6,226.9 596.3,225.3 597.0,229.4 597.7,230.8 598.4,227.4 599.1,224.8 599.8,226.3 600.5,223.9 601.2,227.7 601.9,219.8 602.6,224.2 603.3,222.6 604.0,219.7 604.7,223.0 605.4,217.2 606.1,218.0 606.8,213.0 607.5,213.1 608.2,214.9 609.0,215.7 609.7,208.6 610.4,210.2 611.1,212.6 611.8,209.3 612.5,206.1 613.2,209.0 613.9,203.1 614.6,205.9 615.3,199.8 616.0,200.9 616.7,204.3 617.4,201.5 618.1,198.3 618.8,195.8 619.5,196.4 620.2,191.8 620.9,196.8 621.6,194.7 622.3,189.5 623.0,188.5 623.7,187.9 624.4,188.6 625.1,188.6 625.8,184.0 626.5,189.3 627.2,186.0 627.9,185.1 628.6,184.0 629.3,180.7 630.0,177.0 630.7,177.6 631.5,180.8 632.2,175.1 632.9,176.4 633.6,174.7 634.3,173.4 635.0,174.5 635.7,169.7 636.4,174.6 637.1,173.2 637.8,166.3 638.5,166.7 639.2,165.9 639.9,163.7 640.6,164.1 641.3,167.1 642.0,161.0 642.7,163.2 643.4,159.0 644.1,161.5 644.8,161.4 645.5,156.0 646.2,156.7 646.9,161.3 647.6,153.9 648.3,157.3 649.0,152.8 649.7,156.0 650.4,153.7 651.1,153.5 651.8,152.7 652.5,149.2 653.2,148.3 653.9,146.5 654.7,149.6 655.4,150.4 656.1,147.6 656.8,146.7 657.5,142.3 658.2,144.6 658.9,138.3 659.6,141.8 660.3,138.7 661.0,141.5 661.7,140.3 662.4,136.7 663.1,134.2 663.8,136.2 664.5,133.6 665.2,132.1 665.9,130.1 666.6,129.6 667.3,131.5 668.0,132.6 668.7,130.5 669.4,133.4 670.1,130.3 670.8,126.8 671.5,129.9 672.2,128.3 672.9,127.3 673.6,133.0 674.3,127.1 675.0,125.8 675.7,126.9 676.4,129.1 677.2,126.8 677.9,129.9 678.6,129.4 679.3,124.6 680.0,125.3 680.7,128.1 681.4,124.8 682.1,127.9 682.8,125.7 683.5,126.6 684.2,127.2 684.9,122.4 685.6,123.2 686.3,121.6 687.0,122.3 687.7,122.4 688.4,122.5" fill="none" stroke="#000" stroke-width="1.00" stroke-linejoin="miter" stroke-miterlimit="4"/>
<path d="M391.0,121.0 392.0,120.7 393.0,120.4 394.0,120.2 395.0,120.1 396.0,120.2 397.0,120.6 398.0,121.1 399.0,122.1 400.0,123.1 401.0,124.3 402.0,125.9 403.0,127.8 404.0,129.8 405.0,131.8 406.0,133.7 407.0,135.6 408.0,137.8 409.0,140.3 410.0,142.8 411.0,145.3 412.0,147.8 413.0,150.2 414.0,152.6 415.0,154.8 416.0,157.0 417.0,158.9 418.0,160.7 419.0,162.6 420.0,164.5 421.0,166.4 422.0,168.4 423.0,170.6 424.0,172.8 425.0,175.4 426.0,178.1 427.0,181.1 428.0,184.2 429.0,187.6 430.0,191.1 431.0,194.7 432.0,198.2 433.0,201.7 434.0,205.3 435.0,208.9 436.0,212.5 437.0,216.2 438.0,219.9 439.0,223.6 440.0,227.3 441.0,231.0 442.0,234.7 443.0,238.4 444.0,242.1 445.0,245.8 446.0,249.4 447.0,253.0 448.0,256.5 449.0,260.1 450.0,263.6 451.0,267.1 452.0,270.6 453.0,274.1 454.0,277.6 455.0,281.1 456.0,284.5 457.0,288.0 458.0,291.4 459.0,294.9 460.0,298.3 461.0,301.7 462.0,305.0 463.0,308.4 464.0,311.7 465.0,315.1 466.0,318.3 467.0,321.5 468.0,324.7 469.0,327.8 470.0,330.8 471.0,333.7 472.0,336.5 473.0,339.1 474.0,341.5 475.0,343.6 476.0,344.8 477.0,345.4 478.0,345.9 479.0,346.7 480.0,347.5 481.0,348.1 482.0,348.6 483.0,348.9 484.0,349.1 485.0,349.2 486.0,349.3 487.0,349.5 488.0,349.6 489.0,349.7 490.0,349.9 491.0,350.3 492.0,350.8 493.0,351.5 494.0,352.3 495.0,353.3 496.0,354.2 497.0,355.0 498.0,355.6 499.0,355.9 500.0,356.1 501.0,356.0 502.0,355.7 503.0,355.3 504.0,354.8 505.0,354.2 506.0,353.5 507.0,352.8 508.0,352.0 509.0,351.2 510.0,350.3 511.0,349.5 512.0,348.6 513.0,347.8 514.0,346.9 515.0,346.1 516.0,345.3 517.0,344.4 518.0,343.5 519.0,342.5 520.0,341.6 521.0,340.6 522.0,339.7 523.0,338.7 524.0,337.9 525.0,337.0 526.0,336.1 527.0,335.3 528.0,334.5 529.0,333.6 530.0,332.8 531.0,332.0 532.0,331.1 533.0,330.3 534.0,329.4 535.0,328.6 536.0,327.8 537.0,326.9 538.0,326.1 539.0,325.2 540.0,324.4 541.0,323.5 542.0,322.6 543.0,321.7 544.0,320.8 545.0,319.9 546.0,319.0 547.0,318.2 548.0,317.4 549.0,316.7 550.0,316.1 551.0,315.4 552.0,314.8 553.0,314.1 554.0,313.4 555.0,312.7 556.0,312.0 557.0,311.1 558.0,310.0 559.0,309.0 560.0,307.9 561.0,306.8 562.0,305.6 563.0,304.4 564.0,303.2 565.0,302.0 566.0,300.9 567.0,299.8 568.0,298.6 569.0,297.3 570.0,296.0 571.0,294.7 572.0,293.3 573.0,291.9 574.0,290.4 575.0,288.9 576.0,287.3 577.0,285.8 578.0,284.2 579.0,282.6 580.0,281.0 581.0,279.4 582.0,278.0 583.0,276.7 584.0,275.3 585.0,273.9 586.0,272.5 587.0,271.2 588.0,269.9 589.0,268.7 590.0,267.3 591.0,265.9 592.0,264.8 593.0,264.3 594.0,263.2 595.0,261.8 596.0,260.4 597.0,258.9 598.0,257.4 599.0,256.0 600.0,254.5 601.0,253.0 602.0,251.5 603.0,250.0 604.0,248.5 605.0,247.0 606.0,245.5 607.0,244.3 608.0,243.1 609.0,241.9 610.0,240.7 611.0,239.5 612.0,238.2 613.0,237.0 614.0,235.8 615.0,234.3 616.0,232.7 617.0,231.1 618.0,229.6 619.0,228.0 620.0,226.5 621.0,224.9 622.0,223.4 623.0,222.1 624.0,220.8 625.0,219.6 626.0,218.4 627.0,217.3 628.0,216.2 629.0,215.1 630.0,214.1 631.0,213.0 632.0,211.7 633.0,210.5 634.0,209.3 635.0,208.1 636.0,206.9 637.0,205.7 638.0,204.5 639.0,203.3 640.0,202.1 641.0,200.9 642.0,199.6 643.0,198.2 644.0,196.6 645.0,194.8 646.0,192.7 647.0,190.5 648.0,188.1 649.0,185.6 650.0,183.2 651.0,181.0 652.0,179.0 653.0,177.4 654.0,175.8 655.0,174.3 656.0,172.7 657.0,171.1 658.0,169.6 659.0,168.1 660.0,166.7 661.0,165.3 662.0,163.9 663.0,162.6 664.0,161.6 665.0,160.9 666.0,160.3 667.0,159.8 668.0,159.3 669.0,158.8 670.0,158.4 671.0,157.9 672.0,157.3 673.0,156.2 674.0,155.0 675.0,153.8 676.0,152.4 677.0,150.9 678.0,149.3 679.0,147.6 680.0,145.8 681.0,144.4 682.0,143.0 683.0,141.5 684.0,139.9 685.0,138.4 686.0,136.9 687.0,135.4 688.0,133.9" fill="none" stroke="#000" stroke-width="2.10" stroke-linejoin="round"/><path d="M391.0,121.6 391.7,121.5 392.4,120.8 393.1,119.6 393.8,120.9 394.5,119.6 395.2,120.4 395.9,119.8 396.6,122.6 397.3,117.8 398.0,122.3 398.7,124.3 399.4,125.0 400.1,124.9 400.8,125.7 401.5,123.3 402.2,127.5 403.0,130.3 403.7,130.4 404.4,132.2 405.1,132.5 405.8,129.6 406.5,134.9 407.2,133.4 407.9,139.8 408.6,138.1 409.3,144.7 410.0,143.0 410.7,145.4 411.4,147.3 412.1,150.2 412.8,151.7 413.5,153.9 414.2,156.2 414.9,154.8 415.6,154.3 416.3,158.9 417.0,156.5 417.7,161.9 418.4,162.6 419.1,162.7 419.8,163.2 420.5,167.0 421.2,165.8 421.9,169.5 422.6,167.5 423.3,172.4 424.0,176.0 424.7,173.6 425.5,175.2 426.2,180.0 426.9,184.0 427.6,180.8 428.3,181.5 429.0,187.7 429.7,186.4 430.4,193.1 431.1,191.6 431.8,197.2 432.5,196.8 433.2,204.5 433.9,202.5 434.6,206.1 435.3,208.7 436.0,213.0 436.7,215.6 437.4,219.8 438.1,221.4 438.8,223.1 439.5,224.9 440.2,228.6 440.9,230.1 441.6,234.8 442.3,232.5 443.0,240.5 443.7,243.7 444.4,243.3 445.1,248.7 445.8,245.6 446.5,255.1 447.2,251.4 447.9,254.3 448.7,255.2 449.4,260.9 450.1,266.6 450.8,268.8 451.5,271.3 452.2,272.3 452.9,273.3 453.6,275.6 454.3,280.9 455.0,282.0 455.7,287.0 456.4,285.5 457.1,291.3 457.8,289.2 458.5,294.1 459.2,294.7 459.9,296.8 460.6,299.2 461.3,303.4 462.0,304.4 462.7,311.1 463.4,308.4 464.1,310.0 464.8,312.0 465.5,317.8 466.2,315.6 466.9,320.4 467.6,322.9 468.3,326.0 469.0,327.1 469.7,330.3 470.4,330.0 471.2,336.0 471.9,335.9 472.6,341.5 473.3,342.3 474.0,343.3 474.7,339.4 475.4,345.9 476.1,344.3 476.8,348.1 477.5,342.0 478.2,346.3 478.9,345.0 479.6,347.9 480.3,351.1 481.0,348.5 481.7,345.6 482.4,349.4 483.1,346.7 483.8,351.4 484.5,346.4 485.2,349.5 485.9,350.9 486.6,349.9 487.3,349.9 488.0,350.1 488.7,349.2 489.4,346.3 490.1,351.9 490.8,349.4 491.5,349.0 492.2,351.2 492.9,350.8 493.6,354.2 494.4,350.2 495.1,355.4 495.8,357.7 496.5,350.8 497.2,358.1 497.9,357.0 498.6,358.5 499.3,356.8 500.0,352.9 500.7,356.8 501.4,352.1 502.1,355.9 502.8,358.3 503.5,353.4 504.2,351.7 504.9,356.0 505.6,356.8 506.3,355.8 507.0,350.6 507.7,355.8 508.4,351.2 509.1,354.5 509.8,352.2 510.5,352.3 511.2,346.9 511.9,347.4 512.6,346.3 513.3,351.1 514.0,348.5 514.7,349.7 515.4,345.9 516.1,347.1 516.9,342.1 517.6,345.2 518.3,343.6 519.0,345.4 519.7,344.6 520.4,342.5 521.1,340.9 521.8,343.0 522.5,342.0 523.2,335.5 523.9,340.9 524.6,338.2 525.3,338.9 526.0,334.6 526.7,334.3 527.4,333.6 528.1,332.0 528.8,337.6 529.5,331.7 530.2,333.8 530.9,329.9 531.6,333.6 532.3,329.5 533.0,328.0 533.7,327.4 534.4,331.7 535.1,327.9 535.8,330.1 536.5,326.0 537.2,330.0 537.9,324.0 538.6,328.5 539.3,322.0 540.1,325.0 540.8,323.4 541.5,320.3 542.2,322.1 542.9,325.3 543.6,318.7 544.3,321.9 545.0,317.6 545.7,319.8 546.4,320.9 547.1,314.7 547.8,317.4 548.5,320.6 549.2,315.6 549.9,314.9 550.6,312.2 551.3,312.4 552.0,313.5 552.7,318.0 553.4,314.0 554.1,315.6 554.8,314.5 555.5,309.1 556.2,312.1 556.9,312.2 557.6,312.0 558.3,310.0 559.0,306.7 559.7,311.3 560.4,310.7 561.1,307.1 561.8,304.1 562.5,308.7 563.3,303.8 564.0,305.7 564.7,301.5 565.4,305.0 566.1,302.9 566.8,303.4 567.5,299.5 568.2,300.4 568.9,296.1 569.6,297.0 570.3,294.3 571.0,297.3 571.7,295.7 572.4,294.8 573.1,290.9 573.8,292.4 574.5,291.1 575.2,291.9 575.9,284.2 576.6,287.8 577.3,286.9 578.0,285.1 578.7,281.2 579.4,282.4 580.1,277.2 580.8,281.0 581.5,278.5 582.2,278.6 582.9,280.3 583.6,276.7 584.3,273.6 585.0,277.5 585.8,270.1 586.5,273.1 587.2,270.5 587.9,268.8 588.6,268.0 589.3,271.7 590.0,265.5 590.7,269.8 591.4,261.7 592.1,267.9 592.8,265.7 593.5,265.0 594.2,261.1 594.9,264.4 595.6,257.9 596.3,262.9 597.0,257.9 597.7,255.3 598.4,255.6 599.1,258.6 599.8,254.6 600.5,250.6 601.2,250.2 601.9,252.1 602.6,249.8 603.3,250.5 604.0,246.7 604.7,250.7 605.4,242.6 606.1,243.3 606.8,244.9 607.5,239.9 608.2,239.2 609.0,241.6 609.7,238.8 610.4,237.9 611.1,237.1 611.8,236.0 612.5,237.5 613.2,237.8 613.9,234.9 614.6,237.2 615.3,233.5 616.0,233.6 616.7,231.1 617.4,230.8 618.1,227.9 618.8,229.0 619.5,225.7 620.2,226.8 620.9,227.9 621.6,223.6 622.3,225.7 623.0,219.8 623.7,220.7 624.4,221.5 625.1,218.3 625.8,220.1 626.5,220.2 627.2,217.2 627.9,215.7 628.6,218.0 629.3,214.4 630.0,217.1 630.7,214.5 631.5,212.6 632.2,208.8 632.9,211.5 633.6,213.6 634.3,205.5 635.0,211.4 635.7,204.0 636.4,206.8 637.1,205.8 637.8,206.0 638.5,202.5 639.2,201.7 639.9,200.2 640.6,198.6 641.3,203.4 642.0,196.2 642.7,201.0 643.4,194.3 644.1,196.1 644.8,195.3 645.5,195.2 646.2,189.0 646.9,191.9 647.6,189.4 648.3,187.7 649.0,186.3 649.7,187.0 650.4,183.3 651.1,177.5 651.8,182.9 652.5,180.9 653.2,180.4 653.9,176.7 654.7,175.4 655.4,173.0 656.1,172.4 656.8,175.0 657.5,169.7 658.2,171.5 658.9,167.4 659.6,169.1 660.3,164.9 661.0,162.8 661.7,165.0 662.4,164.3 663.1,162.0 663.8,162.7 664.5,164.3 665.2,164.4 665.9,160.6 666.6,156.9 667.3,157.0 668.0,159.6 668.7,159.5 669.4,155.5 670.1,158.9 670.8,161.3 671.5,159.4 672.2,160.8 672.9,157.9 673.6,155.0 674.3,152.5 675.0,155.2 675.7,152.5 676.4,148.8 677.2,147.4 677.9,153.2 678.6,146.2 679.3,149.1 680.0,145.3 680.7,148.5 681.4,141.3 682.1,145.2 682.8,139.4 683.5,143.8 684.2,138.6 684.9,139.0 685.6,133.7 686.3,136.6 687.0,134.5 687.7,132.7 688.4,133.6" fill="none" stroke="#000" stroke-width="1.00" stroke-linejoin="miter" stroke-miterlimit="4"/>
<path d="M37.0,789.0 38.0,789.2 39.0,789.4 40.0,789.4 41.0,789.3 42.0,789.2 43.0,788.9 44.0,788.7 45.0,789.1 46.0,789.5 47.0,790.0 48.0,790.5 49.0,790.9 50.0,791.4 51.0,791.9 52.0,792.1 53.0,792.2 54.0,792.4 55.0,792.5 56.0,792.6 57.0,792.7 58.0,792.8 59.0,792.9 60.0,793.0 61.0,793.1 62.0,793.2 63.0,793.3 64.0,793.4 65.0,793.4 66.0,793.5 67.0,793.4 68.0,793.4 69.0,793.4 70.0,793.4 71.0,793.4 72.0,793.4 73.0,793.4 74.0,793.2 75.0,793.0 76.0,792.9 77.0,792.8 78.0,792.6 79.0,792.5 80.0,792.4 81.0,792.6 82.0,792.8 83.0,793.1 84.0,793.4 85.0,793.8 86.0,794.2 87.0,794.6 88.0,795.0 89.0,795.5 90.0,796.2 91.0,796.9 92.0,797.8 93.0,798.7 94.0,799.7 95.0,800.5 96.0,801.1 97.0,801.7 98.0,802.4 99.0,803.0 100.0,803.7 101.0,804.3 102.0,805.2 103.0,806.3 104.0,807.4 105.0,808.5 106.0,809.7 107.0,810.8 108.0,812.0 109.0,813.1 110.0,813.9 111.0,814.9 112.0,815.8 113.0,816.7 114.0,817.7 115.0,818.6 116.0,819.6 117.0,820.9 118.0,822.1 119.0,823.4 120.0,824.5 121.0,825.6 122.0,826.8 123.0,827.9 124.0,828.6 125.0,829.2 126.0,829.8 127.0,830.4 128.0,830.9 129.0,831.3 130.0,831.7 131.0,832.1 132.0,832.5 133.0,832.7 134.0,832.9 135.0,833.0 136.0,833.0 137.0,833.0 138.0,832.6 139.0,831.9 140.0,831.3 141.0,830.6 142.0,829.9 143.0,829.2 144.0,828.5 145.0,828.1 146.0,828.1 147.0,828.1 148.0,828.1 149.0,828.1 150.0,828.1 151.0,828.1 152.0,828.0 153.0,827.8 154.0,827.5 155.0,827.3 156.0,827.0 157.0,826.7 158.0,826.4 159.0,826.1 160.0,825.7 161.0,825.2 162.0,824.7 163.0,824.2 164.0,823.7 165.0,823.3 166.0,822.8 167.0,822.3 168.0,821.9 169.0,821.4 170.0,821.0 171.0,820.5 172.0,820.1 173.0,819.6 174.0,819.3 175.0,819.0 176.0,818.7 177.0,818.4 178.0,818.1 179.0,817.8 180.0,817.5 181.0,817.1 182.0,816.7 183.0,816.3 184.0,815.9 185.0,815.5 186.0,815.1 187.0,814.7 188.0,814.3 189.0,813.8 190.0,813.3 191.0,812.8 192.0,812.2 193.0,811.7 194.0,811.2 195.0,810.7 196.0,810.2 197.0,809.7 198.0,809.2 199.0,808.6 200.0,808.1 201.0,807.6 202.0,807.1 203.0,806.8 204.0,806.4 205.0,806.1 206.0,805.8 207.0,805.5 208.0,805.2 209.0,804.8 210.0,804.4 211.0,804.0 212.0,803.5 213.0,803.1 214.0,802.6 215.0,802.1 216.0,801.6 217.0,800.8 218.0,799.9 219.0,799.0 220.0,798.1 221.0,797.2 222.0,796.3 223.0,795.5 224.0,794.9 225.0,794.7 226.0,794.5 227.0,794.3 228.0,794.1 229.0,794.0 230.0,793.9 231.0,793.6 232.0,793.0 233.0,792.4 234.0,791.8 235.0,791.2 236.0,790.7 237.0,790.2 238.0,789.9 239.0,790.1 240.0,790.3 241.0,790.6 242.0,790.9 243.0,791.2 244.0,791.5 245.0,791.8 246.0,791.7 247.0,791.6 248.0,791.5 249.0,791.5 250.0,791.4 251.0,791.3 252.0,791.2 253.0,791.3 254.0,791.4 255.0,791.6 256.0,791.7 257.0,791.8 258.0,792.0 259.0,792.1 260.0,792.1 261.0,792.0 262.0,791.9 263.0,791.8 264.0,791.7 265.0,791.6 266.0,791.5 267.0,791.4 268.0,791.2 269.0,791.1 270.0,790.9 271.0,790.7 272.0,790.6 273.0,790.4 274.0,790.3 275.0,790.3 276.0,790.3 277.0,790.3 278.0,790.3 279.0,790.2 280.0,790.2 281.0,790.3 282.0,790.6 283.0,790.9 284.0,791.2 285.0,791.5 286.0,791.8 287.0,792.2 288.0,792.5 289.0,792.2 290.0,791.9 291.0,791.6 292.0,791.3 293.0,791.0 294.0,790.7 295.0,790.4 296.0,790.4 297.0,790.6 298.0,790.8 299.0,791.0 300.0,791.1 301.0,791.3 302.0,791.5 303.0,791.4 304.0,791.2 305.0,791.0 306.0,790.7 307.0,790.5 308.0,790.2 309.0,789.9 310.0,789.8 311.0,789.9 312.0,790.1 313.0,790.2 314.0,790.3 315.0,790.4 316.0,790.5 317.0,790.5 318.0,790.2 319.0,789.9 320.0,789.7 321.0,789.4 322.0,789.1 323.0,788.8 324.0,788.6 325.0,788.8 326.0,788.9 327.0,789.1 328.0,789.3 329.0,789.4 330.0,789.6 331.0,789.8 332.0,789.5 333.0,789.2 334.0,788.9 335.0,788.6 336.0,788.3 337.0,788.0 338.0,787.7" fill="none" stroke="#000" stroke-width="0.80" stroke-linejoin="round"/><path d="M37.0,789.3 38.5,789.6 40.0,789.8 41.5,788.6 43.1,790.3 44.6,790.3 46.1,791.7 47.6,789.0 49.1,788.8 50.6,793.0 52.1,793.5 53.7,790.9 55.2,791.1 56.7,791.1 58.2,794.9 59.7,791.9 61.2,794.5 62.7,792.2 64.3,795.4 65.8,794.6 67.3,795.1 68.8,791.3 70.3,792.0 71.8,792.2 73.3,791.9 74.9,790.8 76.4,791.7 77.9,790.5 79.4,793.7 80.9,791.3 82.4,795.0 83.9,791.5 85.5,795.4 87.0,792.7 88.5,796.5 90.0,794.0 91.5,795.6 93.0,801.0 94.5,798.3 96.0,799.4 97.6,804.2 99.1,801.3 100.6,805.2 102.1,803.5 103.6,808.4 105.1,806.8 106.6,812.7 108.2,814.0 109.7,815.7 111.2,813.5 112.7,817.5 114.2,819.0 115.7,818.2 117.2,822.5 118.8,824.4 120.3,823.4 121.8,828.4 123.3,826.1 124.8,831.1 126.3,832.0 127.8,828.7 129.4,829.5 130.9,833.7 132.4,831.0 133.9,834.0 135.4,832.0 136.9,835.1 138.4,831.1 140.0,829.2 141.5,828.7 143.0,830.3 144.5,826.1 146.0,830.0 147.5,825.8 149.0,829.8 150.6,825.9 152.1,826.4 153.6,826.3 155.1,828.8 156.6,828.7 158.1,828.6 159.6,823.8 161.2,827.3 162.7,822.7 164.2,825.3 165.7,821.2 167.2,824.4 168.7,820.1 170.2,819.8 171.8,818.6 173.3,821.3 174.8,821.1 176.3,816.4 177.8,816.3 179.3,819.8 180.8,815.1 182.4,818.7 183.9,814.2 185.4,817.6 186.9,812.6 188.4,815.1 189.9,814.5 191.4,814.8 192.9,809.9 194.5,812.2 196.0,808.0 197.5,808.3 199.0,810.4 200.5,809.4 202.0,805.7 203.5,807.9 205.1,807.2 206.6,804.1 208.1,804.0 209.6,806.4 211.1,802.5 212.6,805.2 214.1,800.3 215.7,803.9 217.2,798.7 218.7,801.3 220.2,796.8 221.7,798.9 223.2,793.5 224.7,796.5 226.3,792.5 227.8,795.4 229.3,792.3 230.8,795.0 232.3,790.6 233.8,790.2 235.3,789.9 236.9,792.6 238.4,788.2 239.9,792.3 241.4,788.6 242.9,793.1 244.4,790.0 245.9,793.1 247.5,790.5 249.0,793.3 250.5,790.2 252.0,792.7 253.5,789.2 255.0,793.8 256.5,789.7 258.1,793.2 259.6,789.9 261.1,793.2 262.6,789.7 264.1,793.7 265.6,789.3 267.1,789.1 268.7,792.8 270.2,792.3 271.7,792.8 273.2,791.8 274.7,788.8 276.2,788.5 277.7,789.0 279.3,791.9 280.8,791.4 282.3,792.3 283.8,793.3 285.3,789.4 286.8,794.3 288.3,794.4 289.8,790.0 291.4,789.9 292.9,788.8 294.4,791.8 295.9,789.2 297.4,791.9 298.9,789.4 300.4,792.3 302.0,793.4 303.5,792.6 305.0,789.0 306.5,792.3 308.0,788.3 309.5,791.7 311.0,792.0 312.6,791.8 314.1,788.5 315.6,791.8 317.1,788.8 318.6,791.2 320.1,791.9 321.6,791.4 323.2,789.9 324.7,789.8 326.2,787.4 327.7,790.9 329.2,787.8 330.7,791.2 332.2,791.3 333.8,790.5 335.3,790.1 336.8,787.0 338.3,785.8" fill="none" stroke="#000" stroke-width="1.05" stroke-linejoin="miter" stroke-miterlimit="4"/>
<path d="M37.0,789.0 38.0,789.2 39.0,789.5 40.0,789.9 41.0,790.4 42.0,790.9 43.0,791.5 44.0,792.0 45.0,792.3 46.0,792.6 47.0,792.8 48.0,793.1 49.0,793.3 50.0,793.5 51.0,793.8 52.0,794.0 53.0,794.2 54.0,794.4 55.0,794.6 56.0,794.8 57.0,795.0 58.0,795.2 59.0,795.4 60.0,795.6 61.0,795.8 62.0,796.1 63.0,796.3 64.0,796.5 65.0,796.8 66.0,797.0 67.0,797.4 68.0,797.7 69.0,798.0 70.0,798.3 71.0,798.5 72.0,798.7 73.0,798.9 74.0,798.8 75.0,798.8 76.0,798.7 77.0,798.7 78.0,798.7 79.0,798.8 80.0,798.8 81.0,799.3 82.0,799.8 83.0,800.4 84.0,801.1 85.0,802.0 86.0,803.1 87.0,804.4 88.0,806.2 89.0,808.4 90.0,811.2 91.0,814.6 92.0,818.6 93.0,822.9 94.0,827.3 95.0,831.2 96.0,834.6 97.0,837.8 98.0,841.3 99.0,844.8 100.0,848.4 101.0,851.9 102.0,855.4 103.0,858.9 104.0,862.2 105.0,865.2 106.0,868.1 107.0,870.6 108.0,872.9 109.0,875.3 110.0,877.8 111.0,880.1 112.0,882.3 113.0,884.5 114.0,886.5 115.0,888.3 116.0,890.0 117.0,891.3 118.0,892.5 119.0,893.4 120.0,894.3 121.0,894.9 122.0,895.5 123.0,895.8 124.0,896.0 125.0,896.0 126.0,895.9 127.0,895.7 128.0,895.5 129.0,895.2 130.0,894.8 131.0,894.4 132.0,893.9 133.0,893.4 134.0,892.9 135.0,892.3 136.0,891.8 137.0,891.2 138.0,890.9 139.0,890.7 140.0,890.5 141.0,890.3 142.0,890.3 143.0,890.3 144.0,890.3 145.0,890.1 146.0,889.7 147.0,889.3 148.0,888.9 149.0,888.5 150.0,888.0 151.0,887.4 152.0,886.9 153.0,886.6 154.0,886.2 155.0,885.7 156.0,885.1 157.0,884.3 158.0,883.4 159.0,882.4 160.0,881.1 161.0,879.7 162.0,878.2 163.0,876.8 164.0,875.3 165.0,873.9 166.0,872.5 167.0,871.4 168.0,870.4 169.0,869.5 170.0,868.7 171.0,867.9 172.0,867.2 173.0,866.6 174.0,865.5 175.0,864.4 176.0,863.4 177.0,862.3 178.0,861.3 179.0,860.3 180.0,859.3 181.0,858.4 182.0,857.6 183.0,856.9 184.0,856.1 185.0,855.3 186.0,854.5 187.0,853.7 188.0,853.2 189.0,852.7 190.0,852.3 191.0,851.9 192.0,851.5 193.0,851.1 194.0,850.7 195.0,850.2 196.0,849.4 197.0,848.7 198.0,847.8 199.0,846.9 200.0,846.0 201.0,844.9 202.0,843.7 203.0,842.4 204.0,841.1 205.0,839.7 206.0,838.3 207.0,836.9 208.0,835.5 209.0,834.2 210.0,833.0 211.0,831.8 212.0,830.8 213.0,829.8 214.0,828.8 215.0,827.9 216.0,827.0 217.0,825.9 218.0,824.7 219.0,823.6 220.0,822.5 221.0,821.5 222.0,820.5 223.0,819.5 224.0,818.8 225.0,818.3 226.0,817.9 227.0,817.4 228.0,817.1 229.0,816.7 230.0,816.4 231.0,816.0 232.0,815.5 233.0,815.0 234.0,814.5 235.0,813.9 236.0,813.4 237.0,812.9 238.0,812.4 239.0,812.1 240.0,811.7 241.0,811.3 242.0,810.9 243.0,810.4 244.0,809.9 245.0,809.4 246.0,808.5 247.0,807.6 248.0,806.7 249.0,805.8 250.0,804.9 251.0,804.1 252.0,803.2 253.0,802.6 254.0,802.0 255.0,801.4 256.0,800.8 257.0,800.3 258.0,799.7 259.0,799.3 260.0,798.9 261.0,798.6 262.0,798.2 263.0,797.9 264.0,797.6 265.0,797.3 266.0,797.1 267.0,796.9 268.0,796.7 269.0,796.5 270.0,796.4 271.0,796.3 272.0,796.1 273.0,796.0 274.0,796.0 275.0,796.0 276.0,796.0 277.0,796.1 278.0,796.1 279.0,796.1 280.0,796.2 281.0,796.1 282.0,795.8 283.0,795.6 284.0,795.3 285.0,795.0 286.0,794.7 287.0,794.4 288.0,794.2 289.0,794.1 290.0,793.9 291.0,793.8 292.0,793.7 293.0,793.6 294.0,793.5 295.0,793.4 296.0,793.1 297.0,792.9 298.0,792.7 299.0,792.4 300.0,792.2 301.0,792.0 302.0,791.8 303.0,791.6 304.0,791.5 305.0,791.3 306.0,791.2 307.0,791.0 308.0,790.9 309.0,790.8 310.0,790.8 311.0,790.9 312.0,791.1 313.0,791.2 314.0,791.3 315.0,791.5 316.0,791.6 317.0,791.5 318.0,791.2 319.0,790.9 320.0,790.6 321.0,790.2 322.0,789.9 323.0,789.6 324.0,789.3 325.0,789.1 326.0,788.8 327.0,788.6 328.0,788.3 329.0,788.1 330.0,787.8 331.0,787.6 332.0,787.8 333.0,788.0 334.0,788.2 335.0,788.4 336.0,788.5 337.0,788.7" fill="none" stroke="#000" stroke-width="0.80" stroke-linejoin="round"/><path d="M37.0,789.3 38.5,789.0 40.0,789.2 41.5,789.5 43.1,790.7 44.6,790.5 46.1,793.8 47.6,791.1 49.1,795.1 50.6,792.0 52.1,795.6 53.6,796.0 55.2,796.9 56.7,793.4 58.2,796.9 59.7,794.3 61.2,797.4 62.7,795.1 64.2,798.8 65.7,795.5 67.3,795.3 68.8,796.8 70.3,800.2 71.8,796.9 73.3,797.0 74.8,796.8 76.3,797.6 77.8,796.7 79.4,797.7 80.9,797.8 82.4,802.1 83.9,799.2 85.4,804.6 86.9,802.2 88.4,808.7 89.9,812.4 91.5,817.6 93.0,823.8 94.5,831.2 96.0,832.5 97.5,840.6 99.0,843.2 100.5,848.2 102.0,853.7 103.6,859.2 105.1,863.2 106.6,871.1 108.1,871.7 109.6,878.5 111.1,878.9 112.6,885.2 114.1,885.1 115.7,890.6 117.2,889.7 118.7,894.9 120.2,892.5 121.7,896.7 123.2,894.8 124.7,897.9 126.2,894.4 127.8,893.8 129.3,893.7 130.8,896.0 132.3,892.4 133.8,894.6 135.3,894.0 136.8,892.7 138.3,889.4 139.9,892.1 141.4,888.4 142.9,888.8 144.4,889.2 145.9,891.4 147.4,887.5 148.9,890.8 150.4,886.0 152.0,888.0 153.5,884.6 155.0,886.9 156.5,883.2 158.0,884.5 159.5,879.9 161.0,880.9 162.5,879.7 164.1,876.5 165.6,875.3 167.1,873.5 168.6,868.2 170.1,870.2 171.6,866.0 173.1,868.5 174.6,863.6 176.2,864.7 177.7,860.5 179.2,861.7 180.7,857.4 182.2,855.3 183.7,854.7 185.2,856.4 186.7,852.6 188.3,854.3 189.8,853.6 191.3,852.9 192.8,853.2 194.3,851.7 195.8,847.5 197.3,850.7 198.8,844.9 200.4,846.8 201.9,841.8 203.4,843.7 204.9,837.6 206.4,839.2 207.9,833.9 209.4,831.9 210.9,830.6 212.5,832.1 214.0,826.9 215.5,829.5 217.0,823.8 218.5,825.2 220.0,824.5 221.5,822.4 223.0,817.4 224.6,819.8 226.1,816.3 227.6,818.8 229.1,814.8 230.6,818.0 232.1,817.5 233.6,815.7 235.1,812.5 236.7,815.1 238.2,811.0 239.7,813.9 241.2,809.8 242.7,812.4 244.2,808.7 245.7,810.9 247.2,806.2 248.8,807.6 250.3,806.2 251.8,802.0 253.3,804.1 254.8,803.2 256.3,798.6 257.8,802.1 259.3,797.1 260.9,800.6 262.4,796.8 263.9,799.0 265.4,796.2 266.9,798.0 268.4,794.6 269.9,797.5 271.4,794.8 273.0,797.5 274.5,797.2 276.0,797.5 277.5,794.7 279.0,797.7 280.5,795.0 282.0,796.9 283.5,793.2 285.1,797.0 286.6,792.6 288.1,795.5 289.6,791.8 291.1,795.9 292.6,792.1 294.1,794.9 295.6,795.3 297.2,793.9 298.7,790.8 300.2,794.3 301.7,789.6 303.2,789.4 304.7,789.8 306.2,792.2 307.7,789.5 309.3,789.4 310.8,792.7 312.3,793.1 313.8,789.0 315.3,793.0 316.8,790.1 318.3,789.9 319.8,788.5 321.4,791.8 322.9,788.3 324.4,787.5 325.9,790.5 327.4,790.5 328.9,786.7 330.4,789.4 331.9,786.2 333.5,786.9 335.0,787.1 336.5,787.3 338.0,787.3" fill="none" stroke="#000" stroke-width="1.05" stroke-linejoin="miter" stroke-miterlimit="4"/>
<path d="M37.0,789.0 38.0,789.3 39.0,789.5 40.0,789.5 41.0,789.6 42.0,790.0 43.0,790.8 44.0,792.5 45.0,797.9 46.0,810.1 47.0,815.7 48.0,818.0 49.0,819.3 50.0,820.0 51.0,820.3 52.0,820.4 53.0,820.5 54.0,820.5 55.0,820.5 56.0,820.3 57.0,820.1 58.0,819.9 59.0,819.5 60.0,819.2 61.0,818.8 62.0,818.4 63.0,818.0 64.0,817.6 65.0,817.3 66.0,816.9 67.0,816.5 68.0,816.2 69.0,815.9 70.0,815.8 71.0,815.9 72.0,816.3 73.0,817.2 74.0,818.9 75.0,821.7 76.0,824.5 77.0,827.2 78.0,831.2 79.0,835.3 80.0,839.2 81.0,843.3 82.0,847.5 83.0,851.8 84.0,856.1 85.0,860.4 86.0,864.7 87.0,868.9 88.0,873.4 89.0,877.8 90.0,882.2 91.0,886.5 92.0,890.6 93.0,894.7 94.0,898.5 95.0,901.9 96.0,904.9 97.0,907.6 98.0,910.2 99.0,912.6 100.0,914.9 101.0,917.0 102.0,919.0 103.0,920.9 104.0,922.6 105.0,924.3 106.0,925.9 107.0,927.4 108.0,928.8 109.0,930.3 110.0,932.0 111.0,933.7 112.0,935.3 113.0,936.7 114.0,937.9 115.0,938.9 116.0,939.5 117.0,939.8 118.0,939.9 119.0,939.9 120.0,939.9 121.0,939.9 122.0,940.0 123.0,940.3 124.0,940.7 125.0,941.2 126.0,941.8 127.0,942.4 128.0,943.1 129.0,943.7 130.0,944.2 131.0,944.5 132.0,944.8 133.0,944.9 134.0,944.9 135.0,944.7 136.0,944.4 137.0,944.0 138.0,943.5 139.0,942.9 140.0,942.2 141.0,941.5 142.0,940.8 143.0,940.1 144.0,939.3 145.0,938.3 146.0,937.2 147.0,936.1 148.0,934.9 149.0,933.8 150.0,932.6 151.0,931.4 152.0,930.4 153.0,929.7 154.0,928.9 155.0,928.2 156.0,927.5 157.0,926.7 158.0,926.0 159.0,925.3 160.0,924.5 161.0,923.7 162.0,922.8 163.0,922.0 164.0,921.2 165.0,920.4 166.0,919.5 167.0,918.5 168.0,917.5 169.0,916.5 170.0,915.4 171.0,914.4 172.0,913.3 173.0,912.1 174.0,910.9 175.0,909.6 176.0,908.3 177.0,907.0 178.0,905.6 179.0,904.2 180.0,902.7 181.0,901.2 182.0,899.6 183.0,898.0 184.0,896.4 185.0,894.8 186.0,893.1 187.0,891.5 188.0,890.1 189.0,888.9 190.0,887.8 191.0,886.6 192.0,885.5 193.0,884.3 194.0,883.2 195.0,882.0 196.0,880.5 197.0,879.0 198.0,877.6 199.0,876.3 200.0,875.0 201.0,873.8 202.0,872.8 203.0,872.0 204.0,871.3 205.0,870.9 206.0,870.6 207.0,870.4 208.0,870.3 209.0,870.1 210.0,869.6 211.0,869.0 212.0,868.1 213.0,866.9 214.0,865.5 215.0,863.7 216.0,861.7 217.0,859.5 218.0,857.3 219.0,854.9 220.0,852.6 221.0,850.3 222.0,848.2 223.0,846.2 224.0,844.7 225.0,843.4 226.0,842.3 227.0,841.3 228.0,840.5 229.0,839.9 230.0,839.2 231.0,838.5 232.0,837.6 233.0,836.8 234.0,836.1 235.0,835.3 236.0,834.6 237.0,834.0 238.0,833.3 239.0,832.8 240.0,832.3 241.0,831.8 242.0,831.3 243.0,830.8 244.0,830.3 245.0,829.8 246.0,829.0 247.0,828.2 248.0,827.5 249.0,826.7 250.0,826.0 251.0,825.2 252.0,824.4 253.0,824.0 254.0,823.5 255.0,823.1 256.0,822.6 257.0,822.1 258.0,821.7 259.0,821.2 260.0,821.0 261.0,820.8 262.0,820.6 263.0,820.4 264.0,820.2 265.0,820.0 266.0,819.8 267.0,819.5 268.0,819.1 269.0,818.7 270.0,818.3 271.0,817.8 272.0,817.4 273.0,817.0 274.0,816.5 275.0,815.8 276.0,815.1 277.0,814.4 278.0,813.7 279.0,813.0 280.0,812.4 281.0,811.8 282.0,811.6 283.0,811.4 284.0,811.2 285.0,811.0 286.0,810.8 287.0,810.7 288.0,810.4 289.0,809.7 290.0,808.9 291.0,808.2 292.0,807.5 293.0,806.8 294.0,806.1 295.0,805.4 296.0,805.2 297.0,804.9 298.0,804.7 299.0,804.5 300.0,804.3 301.0,804.2 302.0,804.0 303.0,803.6 304.0,803.1 305.0,802.6 306.0,802.2 307.0,801.8 308.0,801.3 309.0,800.9 310.0,800.6 311.0,800.3 312.0,800.1 313.0,799.8 314.0,799.6 315.0,799.3 316.0,799.1 317.0,798.7 318.0,798.3 319.0,797.8 320.0,797.3 321.0,796.9 322.0,796.4 323.0,795.9 324.0,795.5 325.0,795.3 326.0,795.1 327.0,794.9 328.0,794.6 329.0,794.4 330.0,794.2 331.0,793.9 332.0,793.6 333.0,793.3 334.0,793.1 335.0,792.8 336.0,792.5 337.0,792.2" fill="none" stroke="#000" stroke-width="0.80" stroke-linejoin="round"/><path d="M37.0,788.6 38.5,789.7 40.0,790.2 41.5,789.1 43.1,792.6 44.6,793.5 46.1,811.9 47.6,818.5 49.1,821.2 50.6,818.6 52.1,822.3 53.6,819.3 55.2,822.0 56.7,818.5 58.2,822.1 59.7,817.1 61.2,816.9 62.7,816.7 64.2,816.4 65.7,818.9 67.3,818.2 68.8,814.3 70.3,817.8 71.8,814.6 73.3,819.6 74.8,819.7 76.3,826.8 77.8,828.3 79.4,838.5 80.9,840.5 82.4,850.2 83.9,853.4 85.4,861.0 86.9,870.5 88.4,877.0 89.9,880.7 91.5,889.8 93.0,892.9 94.5,898.5 96.0,903.2 97.5,907.8 99.0,910.3 100.5,917.5 102.0,917.1 103.6,924.1 105.1,926.7 106.6,928.0 108.1,926.7 109.6,929.7 111.1,932.0 112.6,937.6 114.1,939.3 115.7,937.6 117.2,937.7 118.7,941.5 120.2,942.1 121.7,941.9 123.2,939.3 124.7,943.2 126.2,940.7 127.8,944.2 129.3,942.1 130.8,946.7 132.3,943.6 133.8,943.5 135.3,943.5 136.8,945.2 138.3,944.9 139.9,940.6 141.4,939.6 142.9,941.2 144.4,937.4 145.9,938.9 147.4,933.4 148.9,935.3 150.4,930.3 152.0,928.8 153.5,927.3 155.0,926.4 156.5,929.4 158.0,927.8 159.5,923.4 161.0,922.1 162.5,920.3 164.1,922.7 165.6,917.7 167.1,916.8 168.6,914.7 170.1,916.5 171.6,911.7 173.1,913.6 174.6,908.8 176.2,906.3 177.7,905.0 179.2,905.2 180.7,899.6 182.2,901.0 183.7,895.4 185.2,895.6 186.7,890.7 188.3,891.1 189.8,889.6 191.3,887.3 192.8,883.3 194.3,884.5 195.8,878.6 197.3,880.7 198.8,874.2 200.4,873.2 201.9,871.7 203.4,873.8 204.9,869.0 206.4,871.8 207.9,868.7 209.4,872.1 210.9,871.1 212.5,869.8 214.0,867.2 215.5,864.0 217.0,857.8 218.5,854.9 220.0,851.3 221.5,850.3 223.0,844.8 224.6,845.2 226.1,843.6 227.6,838.9 229.1,841.7 230.6,839.9 232.1,839.7 233.6,838.4 235.1,833.0 236.7,835.5 238.2,831.3 239.7,834.2 241.2,829.7 242.7,833.1 244.2,829.0 245.7,827.1 247.2,825.9 248.8,828.8 250.3,824.2 251.8,826.3 253.3,822.6 254.8,825.1 256.3,820.7 257.8,820.0 259.3,819.2 260.9,822.0 262.4,819.4 263.9,821.4 265.4,818.8 266.9,817.5 268.4,817.7 269.9,816.8 271.4,815.8 273.0,815.7 274.5,818.3 276.0,812.9 277.5,812.5 279.0,814.8 280.5,810.0 282.0,813.9 283.5,809.4 285.1,812.6 286.6,809.6 288.1,812.2 289.6,807.4 291.1,806.2 292.6,805.6 294.1,808.1 295.6,803.4 297.2,806.4 298.7,805.9 300.2,805.4 301.7,802.1 303.2,804.9 304.7,800.7 306.2,803.5 307.7,800.0 309.3,802.8 310.8,798.8 312.3,802.3 313.8,797.9 315.3,801.5 316.8,797.6 318.3,799.2 319.8,796.4 321.4,798.8 322.9,794.4 324.4,797.4 325.9,793.4 327.4,797.0 328.9,792.3 330.4,795.7 331.9,792.4 333.5,794.7 335.0,791.2 336.5,793.8 338.0,793.8" fill="none" stroke="#000" stroke-width="1.05" stroke-linejoin="miter" stroke-miterlimit="4"/>
<path d="M37.0,789.0 38.0,789.3 39.0,789.3 40.0,789.0 41.0,788.7 42.0,788.6 43.0,789.0 44.0,790.7 45.0,799.2 46.0,815.8 47.0,820.7 48.0,822.8 49.0,824.3 50.0,825.3 51.0,826.1 52.0,826.8 53.0,827.5 54.0,828.1 55.0,828.7 56.0,829.3 57.0,829.9 58.0,830.7 59.0,831.5 60.0,832.2 61.0,832.6 62.0,832.8 63.0,832.9 64.0,832.9 65.0,832.6 66.0,832.1 67.0,831.3 68.0,830.4 69.0,829.6 70.0,828.8 71.0,828.1 72.0,827.5 73.0,827.2 74.0,827.7 75.0,828.5 76.0,830.0 77.0,833.2 78.0,849.1 79.0,857.2 80.0,862.4 81.0,866.3 82.0,869.9 83.0,873.4 84.0,876.7 85.0,880.0 86.0,883.3 87.0,886.5 88.0,889.6 89.0,892.6 90.0,895.7 91.0,898.7 92.0,901.7 93.0,904.7 94.0,907.8 95.0,911.3 96.0,915.1 97.0,919.0 98.0,923.0 99.0,927.2 100.0,931.7 101.0,937.0 102.0,943.1 103.0,950.5 104.0,958.1 105.0,963.1 106.0,966.1 107.0,968.3 108.0,970.0 109.0,971.3 110.0,972.3 111.0,972.9 112.0,973.4 113.0,973.7 114.0,973.9 115.0,974.0 116.0,974.1 117.0,974.4 118.0,974.5 119.0,974.6 120.0,974.6 121.0,974.6 122.0,974.5 123.0,974.3 124.0,973.9 125.0,973.5 126.0,973.0 127.0,972.5 128.0,971.9 129.0,971.3 130.0,970.7 131.0,969.9 132.0,969.1 133.0,968.1 134.0,967.1 135.0,966.1 136.0,964.9 137.0,963.8 138.0,962.5 139.0,961.2 140.0,960.0 141.0,958.7 142.0,957.5 143.0,956.3 144.0,955.2 145.0,954.2 146.0,953.3 147.0,952.5 148.0,951.7 149.0,950.9 150.0,950.2 151.0,949.5 152.0,948.8 153.0,948.1 154.0,947.4 155.0,946.6 156.0,945.9 157.0,945.1 158.0,944.3 159.0,943.5 160.0,942.7 161.0,941.9 162.0,941.0 163.0,940.1 164.0,939.1 165.0,938.1 166.0,936.9 167.0,935.8 168.0,934.5 169.0,933.2 170.0,931.8 171.0,930.3 172.0,928.8 173.0,927.3 174.0,925.6 175.0,923.9 176.0,922.2 177.0,920.5 178.0,918.8 179.0,917.0 180.0,915.3 181.0,913.5 182.0,911.7 183.0,910.0 184.0,908.2 185.0,906.6 186.0,904.9 187.0,903.4 188.0,902.1 189.0,901.1 190.0,900.3 191.0,899.5 192.0,898.8 193.0,898.1 194.0,897.6 195.0,896.8 196.0,895.7 197.0,894.6 198.0,893.6 199.0,892.5 200.0,891.5 201.0,890.4 202.0,889.4 203.0,888.6 204.0,887.7 205.0,886.8 206.0,885.9 207.0,884.8 208.0,883.8 209.0,882.6 210.0,881.5 211.0,880.2 212.0,878.9 213.0,877.5 214.0,876.0 215.0,874.4 216.0,872.8 217.0,871.1 218.0,869.4 219.0,867.7 220.0,865.9 221.0,864.2 222.0,862.4 223.0,860.7 224.0,859.0 225.0,857.3 226.0,855.6 227.0,854.0 228.0,852.5 229.0,851.0 230.0,849.6 231.0,848.1 232.0,846.5 233.0,845.1 234.0,843.7 235.0,842.4 236.0,841.2 237.0,840.1 238.0,839.1 239.0,838.3 240.0,837.6 241.0,837.0 242.0,836.4 243.0,835.8 244.0,835.3 245.0,834.8 246.0,834.2 247.0,833.7 248.0,833.1 249.0,832.6 250.0,832.1 251.0,831.6 252.0,831.0 253.0,830.7 254.0,830.4 255.0,830.1 256.0,829.7 257.0,829.4 258.0,829.0 259.0,828.6 260.0,828.3 261.0,827.9 262.0,827.6 263.0,827.3 264.0,827.0 265.0,826.7 266.0,826.3 267.0,825.7 268.0,825.0 269.0,824.4 270.0,823.7 271.0,823.0 272.0,822.3 273.0,821.6 274.0,820.9 275.0,820.4 276.0,819.8 277.0,819.3 278.0,818.7 279.0,818.2 280.0,817.6 281.0,817.1 282.0,816.5 283.0,816.0 284.0,815.4 285.0,814.9 286.0,814.4 287.0,813.8 288.0,813.3 289.0,812.4 290.0,811.6 291.0,810.7 292.0,809.9 293.0,809.1 294.0,808.3 295.0,807.5 296.0,807.2 297.0,806.9 298.0,806.6 299.0,806.3 300.0,806.1 301.0,805.8 302.0,805.6 303.0,805.1 304.0,804.6 305.0,804.1 306.0,803.6 307.0,803.2 308.0,802.7 309.0,802.3 310.0,801.9 311.0,801.5 312.0,801.2 313.0,800.8 314.0,800.5 315.0,800.1 316.0,799.8 317.0,799.6 318.0,799.5 319.0,799.4 320.0,799.3 321.0,799.2 322.0,799.1 323.0,799.0 324.0,798.8 325.0,798.4 326.0,798.1 327.0,797.7 328.0,797.4 329.0,797.0 330.0,796.6 331.0,796.3 332.0,796.0 333.0,795.8 334.0,795.5 335.0,795.2 336.0,795.0 337.0,794.7" fill="none" stroke="#000" stroke-width="0.80" stroke-linejoin="round"/><path d="M37.0,789.3 38.5,788.8 40.0,788.3 41.5,787.6 43.1,790.5 44.6,791.6 46.1,817.6 47.6,820.7 49.1,826.6 50.6,827.7 52.1,829.1 53.6,826.5 55.2,831.1 56.7,828.1 58.2,832.9 59.7,834.2 61.2,834.4 62.7,831.3 64.2,834.5 65.7,831.1 67.3,832.2 68.8,827.6 70.3,830.5 71.8,826.5 73.3,829.1 74.8,827.0 76.3,832.9 77.8,845.4 79.4,860.2 80.9,867.6 82.4,873.5 83.9,874.4 85.4,883.6 86.9,885.1 88.4,889.5 89.9,893.5 91.5,901.7 93.0,903.4 94.5,910.8 96.0,913.7 97.5,919.1 99.0,929.2 100.5,936.4 102.0,941.5 103.6,953.0 105.1,961.1 106.6,968.8 108.1,968.8 109.6,974.2 111.1,970.8 112.6,971.7 114.1,971.9 115.7,975.9 117.2,973.0 118.7,976.4 120.2,973.3 121.7,975.7 123.2,972.8 124.7,975.7 126.2,971.7 127.8,973.1 129.3,972.5 130.8,972.1 132.3,966.7 133.8,968.7 135.3,963.4 136.8,962.3 138.3,960.2 139.9,958.3 141.4,956.7 142.9,958.6 144.4,952.6 145.9,951.8 147.4,950.7 148.9,948.8 150.4,948.0 152.0,950.3 153.5,946.5 155.0,945.1 156.5,943.9 158.0,942.2 159.5,941.1 161.0,943.5 162.5,938.3 164.1,940.8 165.6,935.3 167.1,934.6 168.6,932.6 170.1,933.8 171.6,927.5 173.1,928.5 174.6,923.4 176.2,923.1 177.7,917.9 179.2,918.9 180.7,912.8 182.2,912.7 183.7,910.8 185.2,904.9 186.7,902.4 188.3,899.9 189.8,902.6 191.3,901.5 192.8,899.4 194.3,898.9 195.8,894.1 197.3,895.7 198.8,890.7 200.4,892.4 201.9,887.7 203.4,887.0 204.9,885.7 206.4,883.4 207.9,882.0 209.4,883.9 210.9,878.8 212.5,880.2 214.0,878.3 215.5,875.1 217.0,870.0 218.5,867.2 220.0,863.9 221.5,864.7 223.0,862.6 224.6,859.3 226.1,853.7 227.6,851.6 229.1,849.1 230.6,847.2 232.1,848.1 233.6,842.2 235.1,840.3 236.7,842.1 238.2,837.9 239.7,835.8 241.2,835.7 242.7,834.5 244.2,837.2 245.7,836.6 247.2,831.6 248.8,833.9 250.3,834.2 251.8,832.3 253.3,831.7 254.8,832.1 256.3,827.4 257.8,827.2 259.3,826.3 260.9,829.8 262.4,826.4 263.9,828.8 265.4,824.5 266.9,827.5 268.4,822.8 269.9,825.3 271.4,821.5 273.0,823.7 274.5,819.4 276.0,821.1 277.5,817.8 279.0,816.7 280.5,815.8 282.0,817.8 283.5,816.9 285.1,816.5 286.6,815.1 288.1,814.9 289.6,810.7 291.1,811.8 292.6,810.6 294.1,810.3 295.6,809.3 297.2,809.1 298.7,804.3 300.2,807.7 301.7,804.1 303.2,806.8 304.7,806.1 306.2,805.8 307.7,801.4 309.3,804.3 310.8,799.3 312.3,803.3 313.8,798.7 315.3,801.9 316.8,797.3 318.3,801.0 319.8,797.3 321.4,800.3 322.9,800.3 324.4,800.3 325.9,796.1 327.4,798.8 328.9,799.1 330.4,798.2 331.9,794.8 333.5,796.7 335.0,793.7 336.5,792.7 338.0,792.1" fill="none" stroke="#000" stroke-width="1.05" stroke-linejoin="miter" stroke-miterlimit="4"/>
<path d="M37.0,789.0 38.0,789.5 39.0,789.8 40.0,790.0 41.0,790.3 42.0,790.8 43.0,791.9 44.0,793.9 45.0,800.1 46.0,813.9 47.0,819.2 48.0,821.3 49.0,822.5 50.0,823.2 51.0,823.5 52.0,823.5 53.0,823.2 54.0,822.9 55.0,822.6 56.0,822.2 57.0,821.7 58.0,821.1 59.0,820.6 60.0,820.2 61.0,819.8 62.0,819.4 63.0,819.0 64.0,818.6 65.0,818.2 66.0,817.8 67.0,817.4 68.0,817.1 69.0,816.9 70.0,817.0 71.0,817.3 72.0,817.7 73.0,818.5 74.0,819.9 75.0,822.1 76.0,825.0 77.0,828.8 78.0,834.4 79.0,844.7 80.0,853.0 81.0,859.2 82.0,864.4 83.0,869.1 84.0,873.5 85.0,877.8 86.0,881.9 87.0,886.1 88.0,889.8 89.0,893.4 90.0,896.9 91.0,900.5 92.0,904.0 93.0,907.5 94.0,911.1 95.0,915.0 96.0,919.0 97.0,923.1 98.0,927.3 99.0,931.5 100.0,935.9 101.0,940.6 102.0,945.8 103.0,951.9 104.0,958.7 105.0,963.2 106.0,966.1 107.0,968.5 108.0,970.6 109.0,972.7 110.0,974.9 111.0,976.9 112.0,978.7 113.0,980.3 114.0,981.7 115.0,982.8 116.0,983.8 117.0,984.2 118.0,984.5 119.0,984.6 120.0,984.6 121.0,984.5 122.0,984.2 123.0,983.9 124.0,983.9 125.0,983.8 126.0,983.7 127.0,983.5 128.0,983.3 129.0,983.0 130.0,982.7 131.0,982.2 132.0,981.6 133.0,980.9 134.0,980.3 135.0,979.6 136.0,979.0 137.0,978.3 138.0,977.7 139.0,977.1 140.0,976.5 141.0,975.9 142.0,975.2 143.0,974.6 144.0,973.9 145.0,973.3 146.0,972.7 147.0,972.1 148.0,971.5 149.0,970.8 150.0,970.1 151.0,969.5 152.0,968.8 153.0,968.1 154.0,967.3 155.0,966.6 156.0,965.8 157.0,965.0 158.0,964.1 159.0,963.1 160.0,962.0 161.0,960.8 162.0,959.5 163.0,958.1 164.0,956.6 165.0,955.0 166.0,953.3 167.0,952.0 168.0,950.6 169.0,949.2 170.0,947.8 171.0,946.5 172.0,945.1 173.0,943.8 174.0,942.3 175.0,940.7 176.0,939.0 177.0,937.3 178.0,935.5 179.0,933.8 180.0,932.0 181.0,930.2 182.0,928.4 183.0,926.6 184.0,924.8 185.0,923.0 186.0,921.2 187.0,919.4 188.0,917.5 189.0,915.5 190.0,913.6 191.0,911.6 192.0,909.7 193.0,907.9 194.0,906.1 195.0,904.7 196.0,903.8 197.0,903.0 198.0,902.2 199.0,901.5 200.0,900.8 201.0,900.2 202.0,899.6 203.0,898.6 204.0,897.6 205.0,896.7 206.0,895.8 207.0,894.9 208.0,893.9 209.0,893.0 210.0,892.2 211.0,891.3 212.0,890.3 213.0,889.4 214.0,888.4 215.0,887.4 216.0,886.3 217.0,885.1 218.0,883.9 219.0,882.6 220.0,881.2 221.0,879.9 222.0,878.5 223.0,877.1 224.0,875.6 225.0,874.1 226.0,872.6 227.0,871.1 228.0,869.6 229.0,868.0 230.0,866.5 231.0,865.1 232.0,863.9 233.0,862.6 234.0,861.4 235.0,860.2 236.0,859.1 237.0,857.9 238.0,856.9 239.0,855.8 240.0,854.8 241.0,853.9 242.0,852.9 243.0,852.0 244.0,851.2 245.0,850.3 246.0,849.4 247.0,848.6 248.0,847.7 249.0,846.9 250.0,846.1 251.0,845.3 252.0,844.5 253.0,843.8 254.0,843.0 255.0,842.2 256.0,841.5 257.0,840.7 258.0,839.9 259.0,839.1 260.0,838.7 261.0,838.4 262.0,838.1 263.0,837.8 264.0,837.4 265.0,837.1 266.0,836.8 267.0,836.0 268.0,835.0 269.0,834.0 270.0,833.0 271.0,832.0 272.0,831.0 273.0,830.0 274.0,829.2 275.0,828.5 276.0,827.9 277.0,827.3 278.0,826.6 279.0,826.0 280.0,825.4 281.0,824.7 282.0,823.7 283.0,822.8 284.0,821.9 285.0,820.9 286.0,820.0 287.0,819.1 288.0,818.3 289.0,817.9 290.0,817.6 291.0,817.3 292.0,817.0 293.0,816.7 294.0,816.4 295.0,816.1 296.0,815.4 297.0,814.8 298.0,814.1 299.0,813.5 300.0,812.9 301.0,812.3 302.0,811.7 303.0,811.0 304.0,810.1 305.0,809.3 306.0,808.5 307.0,807.8 308.0,807.0 309.0,806.2 310.0,805.8 311.0,805.4 312.0,805.1 313.0,804.8 314.0,804.4 315.0,804.1 316.0,803.8 317.0,803.6 318.0,803.5 319.0,803.4 320.0,803.3 321.0,803.2 322.0,803.1 323.0,803.0 324.0,802.7 325.0,802.0 326.0,801.4 327.0,800.7 328.0,800.1 329.0,799.4 330.0,798.8 331.0,798.2 332.0,797.8 333.0,797.4 334.0,797.1 335.0,796.7 336.0,796.3 337.0,795.9" fill="none" stroke="#000" stroke-width="0.80" stroke-linejoin="round"/><path d="M37.0,789.3 38.5,789.3 40.0,790.7 41.5,789.4 43.1,793.3 44.6,795.0 46.1,816.5 47.6,818.7 49.1,821.5 50.6,822.1 52.1,825.3 53.6,821.2 55.2,824.1 56.7,820.2 58.2,822.3 59.7,818.5 61.2,820.9 62.7,816.8 64.2,820.6 65.7,816.3 67.3,815.1 68.8,815.1 70.3,818.8 71.8,815.8 73.3,820.8 74.8,819.3 76.3,828.2 77.8,831.8 79.4,849.1 80.9,856.3 82.4,868.2 83.9,871.2 85.4,877.8 86.9,883.5 88.4,892.4 89.9,895.5 91.5,900.6 93.0,905.1 94.5,914.7 96.0,917.2 97.5,926.7 99.0,930.3 100.5,939.4 102.0,947.2 103.6,957.1 105.1,961.8 106.6,966.0 108.1,968.5 109.6,976.3 111.1,975.4 112.6,981.0 114.1,980.4 115.7,984.6 117.2,986.2 118.7,986.1 120.2,986.8 121.7,985.8 123.2,981.8 124.7,985.4 126.2,981.8 127.8,984.8 129.3,985.0 130.8,983.6 132.3,980.1 133.8,981.5 135.3,977.9 136.8,980.4 138.3,975.9 139.9,978.7 141.4,973.9 142.9,976.4 144.4,972.0 145.9,971.7 147.4,970.0 148.9,969.6 150.4,968.7 152.0,970.0 153.5,966.5 155.0,964.8 156.5,964.0 158.0,965.5 159.5,961.0 161.0,963.0 162.5,957.4 164.1,957.9 165.6,952.7 167.1,950.4 168.6,948.4 170.1,949.8 171.6,943.4 173.1,942.1 174.6,939.1 176.2,937.5 177.7,934.5 179.2,931.4 180.7,929.6 182.2,930.3 183.7,923.7 185.2,924.2 186.7,922.1 188.3,919.2 189.8,912.7 191.3,912.7 192.8,906.3 194.3,904.0 195.8,906.2 197.3,904.0 198.8,899.3 200.4,902.4 201.9,897.9 203.4,900.1 204.9,895.4 206.4,897.0 207.9,892.7 209.4,894.7 210.9,889.9 212.5,891.1 214.0,886.3 215.5,888.4 217.0,882.9 218.5,884.8 220.0,883.1 221.5,881.2 223.0,875.4 224.6,877.0 226.1,870.4 227.6,872.4 229.1,866.2 230.6,866.8 232.1,862.5 233.6,863.1 235.1,861.8 236.7,860.6 238.2,854.9 239.7,856.7 241.2,852.5 242.7,853.8 244.2,849.7 245.7,851.3 247.2,846.7 248.8,849.3 250.3,844.4 251.8,846.9 253.3,844.6 254.8,843.9 256.3,839.3 257.8,838.5 259.3,837.8 260.9,837.0 262.4,836.2 263.9,839.7 265.4,835.6 266.9,837.2 268.4,836.6 269.9,834.9 271.4,830.1 273.0,831.6 274.5,830.3 276.0,829.8 277.5,824.8 279.0,824.6 280.5,822.9 282.0,825.2 283.5,820.6 285.1,822.2 286.6,818.3 288.1,819.5 289.6,819.1 291.1,818.8 292.6,815.1 294.1,818.4 295.6,817.1 297.2,816.7 298.7,812.4 300.2,814.4 301.7,813.0 303.2,812.9 304.7,808.1 306.2,806.5 307.7,805.4 309.3,807.7 310.8,806.8 312.3,807.1 313.8,802.9 315.3,802.8 316.8,804.8 318.3,805.1 319.8,801.5 321.4,804.5 322.9,801.6 324.4,804.5 325.9,799.5 327.4,801.7 328.9,797.4 330.4,799.6 331.9,795.7 333.5,795.2 335.0,795.5 336.5,798.4 338.0,793.3" fill="none" stroke="#000" stroke-width="1.05" stroke-linejoin="miter" stroke-miterlimit="4"/>
<path d="M37.0,789.0 38.0,789.0 39.0,788.7 40.0,788.3 41.0,788.0 42.0,788.0 43.0,788.8 44.0,791.1 45.0,803.8 46.0,821.5 47.0,826.1 48.0,828.4 49.0,830.0 50.0,831.3 51.0,832.3 52.0,832.6 53.0,832.6 54.0,832.5 55.0,832.3 56.0,832.1 57.0,831.9 58.0,831.6 59.0,831.7 60.0,832.2 61.0,832.5 62.0,832.8 63.0,832.9 64.0,832.9 65.0,832.9 66.0,832.7 67.0,832.5 68.0,832.4 69.0,832.2 70.0,832.3 71.0,832.5 72.0,833.0 73.0,833.8 74.0,835.0 75.0,836.6 76.0,839.1 77.0,842.4 78.0,846.3 79.0,851.3 80.0,858.2 81.0,865.3 82.0,871.4 83.0,876.5 84.0,881.0 85.0,885.1 86.0,889.0 87.0,892.8 88.0,896.4 89.0,900.0 90.0,903.5 91.0,907.0 92.0,910.4 93.0,913.9 94.0,917.3 95.0,921.1 96.0,925.0 97.0,929.0 98.0,932.9 99.0,936.9 100.0,940.8 101.0,944.9 102.0,948.9 103.0,952.9 104.0,956.9 105.0,960.8 106.0,964.4 107.0,967.7 108.0,970.5 109.0,972.9 110.0,975.1 111.0,976.9 112.0,978.6 113.0,980.1 114.0,981.4 115.0,982.6 116.0,983.8 117.0,984.9 118.0,986.0 119.0,987.0 120.0,987.9 121.0,988.8 122.0,989.6 123.0,990.3 124.0,990.4 125.0,990.5 126.0,990.4 127.0,990.3 128.0,990.1 129.0,989.7 130.0,989.3 131.0,989.3 132.0,989.4 133.0,989.4 134.0,989.3 135.0,989.2 136.0,989.0 137.0,988.7 138.0,988.3 139.0,987.7 140.0,987.1 141.0,986.5 142.0,985.9 143.0,985.2 144.0,984.5 145.0,983.7 146.0,982.9 147.0,982.0 148.0,981.1 149.0,980.2 150.0,979.3 151.0,978.3 152.0,977.2 153.0,976.0 154.0,974.8 155.0,973.5 156.0,972.2 157.0,970.9 158.0,969.5 159.0,968.1 160.0,967.2 161.0,966.2 162.0,965.1 163.0,964.0 164.0,962.9 165.0,961.7 166.0,960.5 167.0,958.7 168.0,956.8 169.0,955.0 170.0,953.1 171.0,951.2 172.0,949.3 173.0,947.4 174.0,945.8 175.0,944.2 176.0,942.7 177.0,941.1 178.0,939.5 179.0,937.8 180.0,936.1 181.0,934.6 182.0,933.0 183.0,931.5 184.0,930.0 185.0,928.5 186.0,927.0 187.0,925.5 188.0,924.0 189.0,922.3 190.0,920.7 191.0,919.2 192.0,917.7 193.0,916.2 194.0,914.7 195.0,913.2 196.0,911.6 197.0,910.0 198.0,908.4 199.0,906.9 200.0,905.4 201.0,903.9 202.0,902.5 203.0,901.5 204.0,900.5 205.0,899.5 206.0,898.5 207.0,897.6 208.0,896.6 209.0,895.6 210.0,894.7 211.0,893.8 212.0,892.9 213.0,892.0 214.0,891.0 215.0,890.1 216.0,889.1 217.0,887.8 218.0,886.5 219.0,885.2 220.0,883.9 221.0,882.6 222.0,881.2 223.0,879.9 224.0,878.5 225.0,877.2 226.0,875.9 227.0,874.5 228.0,873.2 229.0,871.8 230.0,870.5 231.0,869.3 232.0,868.2 233.0,867.1 234.0,866.0 235.0,864.9 236.0,863.8 237.0,862.8 238.0,861.8 239.0,860.8 240.0,859.9 241.0,858.9 242.0,858.0 243.0,857.1 244.0,856.2 245.0,855.4 246.0,854.5 247.0,853.6 248.0,852.7 249.0,851.8 250.0,851.0 251.0,850.2 252.0,849.4 253.0,848.4 254.0,847.3 255.0,846.3 256.0,845.3 257.0,844.3 258.0,843.3 259.0,842.2 260.0,841.3 261.0,840.5 262.0,839.6 263.0,838.7 264.0,837.8 265.0,836.8 266.0,835.9 267.0,835.2 268.0,834.7 269.0,834.1 270.0,833.5 271.0,832.9 272.0,832.3 273.0,831.7 274.0,830.9 275.0,829.8 276.0,828.8 277.0,827.7 278.0,826.7 279.0,825.6 280.0,824.6 281.0,823.6 282.0,822.8 283.0,821.9 284.0,821.1 285.0,820.3 286.0,819.4 287.0,818.6 288.0,817.8 289.0,817.1 290.0,816.3 291.0,815.6 292.0,814.9 293.0,814.1 294.0,813.4 295.0,812.7 296.0,812.0 297.0,811.3 298.0,810.6 299.0,809.9 300.0,809.2 301.0,808.5 302.0,807.9 303.0,807.3 304.0,806.6 305.0,806.0 306.0,805.4 307.0,804.8 308.0,804.2 309.0,803.7 310.0,803.2 311.0,802.9 312.0,802.5 313.0,802.1 314.0,801.8 315.0,801.4 316.0,801.1 317.0,800.6 318.0,800.1 319.0,799.6 320.0,799.1 321.0,798.6 322.0,798.1 323.0,797.5 324.0,797.1 325.0,796.9 326.0,796.7 327.0,796.5 328.0,796.3 329.0,796.1 330.0,795.9 331.0,795.6 332.0,794.9 333.0,794.2 334.0,793.5 335.0,792.8 336.0,792.1 337.0,791.4" fill="none" stroke="#000" stroke-width="0.80" stroke-linejoin="round"/><path d="M37.0,788.6 38.5,788.4 40.0,788.9 41.5,786.7 43.1,789.9 44.6,796.8 46.1,823.2 47.6,825.3 49.1,832.4 50.6,830.0 52.1,831.3 53.6,830.5 55.2,834.3 56.7,830.1 58.2,833.6 59.7,830.7 61.2,834.6 62.7,834.2 64.2,831.2 65.7,831.3 67.3,833.8 68.8,830.9 70.3,834.4 71.8,831.7 73.3,835.8 74.8,834.6 76.3,841.3 77.8,846.8 79.4,855.2 80.9,862.9 82.4,874.8 83.9,879.2 85.4,888.0 86.9,894.3 88.4,895.7 89.9,901.9 91.5,910.1 93.0,911.8 94.5,920.4 96.0,926.2 97.5,932.8 99.0,935.5 100.5,944.0 102.0,950.5 103.6,957.2 105.1,962.1 106.6,968.5 108.1,968.9 109.6,972.1 111.1,975.4 112.6,981.5 114.1,979.4 115.7,984.6 117.2,986.3 118.7,988.4 120.2,986.5 121.7,991.0 123.2,988.8 124.7,992.7 126.2,988.6 127.8,992.0 129.3,988.6 130.8,990.7 132.3,988.0 133.8,987.0 135.3,987.9 136.8,990.5 138.3,986.1 139.9,985.4 141.4,984.3 142.9,986.8 144.4,985.4 145.9,984.3 147.4,979.9 148.9,982.0 150.4,980.4 152.0,979.5 153.5,973.9 155.0,974.8 156.5,969.8 158.0,971.3 159.5,965.6 161.0,967.9 162.5,963.5 164.1,964.5 165.6,959.8 167.1,957.2 168.6,953.7 170.1,955.1 171.6,947.9 173.1,948.5 174.6,943.2 176.2,940.3 177.7,937.9 179.2,938.6 180.7,933.6 182.2,934.5 183.7,929.2 185.2,929.2 186.7,924.6 188.3,925.3 189.8,919.2 191.3,920.7 192.8,914.7 194.3,916.1 195.8,910.2 197.3,907.4 198.8,905.2 200.4,902.9 201.9,904.8 203.4,902.3 204.9,898.5 206.4,899.8 207.9,895.1 209.4,893.0 210.9,895.3 212.5,894.4 214.0,889.1 215.5,890.9 217.0,886.8 218.5,887.4 220.0,882.6 221.5,883.1 223.0,878.2 224.6,879.0 226.1,874.0 227.6,875.5 229.1,870.1 230.6,871.5 232.1,866.8 233.6,868.1 235.1,862.6 236.7,865.3 238.2,860.4 239.7,861.6 241.2,856.8 242.7,859.2 244.2,857.6 245.7,856.8 247.2,851.2 248.8,853.8 250.3,852.1 251.8,847.3 253.3,849.7 254.8,845.0 256.3,846.2 257.8,845.7 259.3,843.8 260.9,841.7 262.4,840.5 263.9,840.1 265.4,835.4 266.9,837.2 268.4,832.6 269.9,835.2 271.4,830.7 273.0,833.2 274.5,832.2 276.0,830.9 277.5,825.4 279.0,827.3 280.5,825.8 282.0,824.0 283.5,820.0 285.1,822.2 286.6,817.2 288.1,816.6 289.6,818.8 291.1,817.1 292.6,815.7 294.1,814.5 295.6,810.0 297.2,809.2 298.7,808.7 300.2,810.3 301.7,806.0 303.2,808.3 304.7,804.5 306.2,807.1 307.7,802.2 309.3,805.4 310.8,801.8 312.3,804.1 313.8,799.6 315.3,802.7 316.8,799.6 318.3,801.0 319.8,797.1 321.4,800.6 322.9,796.0 324.4,798.5 325.9,795.2 327.4,797.7 328.9,797.7 330.4,797.4 331.9,793.2 333.5,795.1 335.0,790.6 336.5,793.6 338.0,789.0" fill="none" stroke="#000" stroke-width="1.05" stroke-linejoin="miter" stroke-miterlimit="4"/>
<path d="M404.0,792.0 405.0,792.0 406.0,791.9 407.0,791.9 408.0,791.8 409.0,791.7 410.0,791.6 411.0,791.6 412.0,791.8 413.0,792.2 414.0,792.9 415.0,793.6 416.0,794.2 417.0,794.6 418.0,795.0 419.0,795.3 420.0,795.5 421.0,795.6 422.0,795.7 423.0,795.8 424.0,795.9 425.0,796.0 426.0,795.9 427.0,795.8 428.0,795.6 429.0,795.5 430.0,795.3 431.0,795.1 432.0,795.0 433.0,794.9 434.0,795.1 435.0,795.4 436.0,795.6 437.0,795.8 438.0,796.0 439.0,796.2 440.0,796.5 441.0,796.9 442.0,797.2 443.0,797.6 444.0,798.0 445.0,798.5 446.0,798.9 447.0,799.4 448.0,799.3 449.0,799.3 450.0,799.4 451.0,799.4 452.0,799.6 453.0,799.9 454.0,800.4 455.0,801.4 456.0,802.7 457.0,804.3 458.0,806.3 459.0,808.9 460.0,812.1 461.0,815.5 462.0,818.6 463.0,821.2 464.0,824.0 465.0,827.0 466.0,830.2 467.0,833.6 468.0,837.1 469.0,840.7 470.0,844.1 471.0,847.6 472.0,851.3 473.0,855.2 474.0,859.4 475.0,863.6 476.0,868.0 477.0,872.4 478.0,876.9 479.0,881.3 480.0,885.8 481.0,890.3 482.0,894.8 483.0,899.0 484.0,903.6 485.0,908.2 486.0,911.7 487.0,914.3 488.0,916.5 489.0,918.7 490.0,920.8 491.0,922.7 492.0,924.3 493.0,925.7 494.0,926.8 495.0,927.5 496.0,927.9 497.0,928.0 498.0,927.6 499.0,927.0 500.0,926.3 501.0,925.5 502.0,924.5 503.0,923.5 504.0,922.5 505.0,921.7 506.0,921.0 507.0,920.2 508.0,919.5 509.0,918.6 510.0,917.4 511.0,916.1 512.0,914.4 513.0,912.4 514.0,910.3 515.0,908.2 516.0,906.3 517.0,904.7 518.0,903.3 519.0,902.0 520.0,900.9 521.0,899.8 522.0,898.5 523.0,897.0 524.0,894.9 525.0,892.4 526.0,889.9 527.0,887.7 528.0,885.8 529.0,884.2 530.0,882.8 531.0,881.4 532.0,880.2 533.0,879.0 534.0,878.1 535.0,877.3 536.0,876.5 537.0,875.8 538.0,875.0 539.0,874.2 540.0,873.4 541.0,872.6 542.0,871.8 543.0,870.9 544.0,870.0 545.0,869.0 546.0,867.8 547.0,866.2 548.0,863.6 549.0,859.4 550.0,856.5 551.0,854.5 552.0,852.8 553.0,851.2 554.0,849.6 555.0,848.2 556.0,847.1 557.0,845.9 558.0,844.8 559.0,843.7 560.0,842.6 561.0,841.6 562.0,840.6 563.0,839.4 564.0,838.3 565.0,837.2 566.0,836.1 567.0,835.0 568.0,834.0 569.0,833.0 570.0,832.1 571.0,831.3 572.0,830.5 573.0,829.7 574.0,829.0 575.0,828.2 576.0,827.4 577.0,826.5 578.0,825.5 579.0,824.6 580.0,823.6 581.0,822.7 582.0,821.7 583.0,820.8 584.0,819.9 585.0,819.1 586.0,818.3 587.0,817.5 588.0,816.7 589.0,815.9 590.0,815.0 591.0,814.2 592.0,813.4 593.0,812.6 594.0,811.8 595.0,811.0 596.0,810.2 597.0,809.4 598.0,808.6 599.0,807.7 600.0,806.8 601.0,805.9 602.0,805.1 603.0,804.3 604.0,803.6 605.0,802.9 606.0,802.2 607.0,801.5 608.0,800.9 609.0,800.3 610.0,799.7 611.0,799.1 612.0,798.6 613.0,798.1 614.0,797.5 615.0,797.0 616.0,796.5 617.0,796.0 618.0,795.4 619.0,794.9 620.0,794.7 621.0,794.4 622.0,794.2 623.0,794.0 624.0,793.7 625.0,793.5 626.0,793.3 627.0,793.1 628.0,792.9 629.0,792.7 630.0,792.6 631.0,792.4 632.0,792.2 633.0,791.9 634.0,791.6 635.0,791.2 636.0,790.7 637.0,790.1 638.0,789.6 639.0,789.0 640.0,788.3 641.0,787.5 642.0,786.3 643.0,785.0 644.0,783.8 645.0,782.5 646.0,781.2 647.0,780.0 648.0,778.9 649.0,778.4 650.0,777.9 651.0,777.5 652.0,777.2 653.0,776.8 654.0,776.4 655.0,776.1 656.0,775.2 657.0,774.3 658.0,773.5 659.0,772.6 660.0,771.8 661.0,770.9 662.0,770.1 663.0,769.6 664.0,769.1 665.0,768.6 666.0,768.2 667.0,767.8 668.0,767.4 669.0,767.0 670.0,766.6 671.0,766.3 672.0,766.1 673.0,765.8 674.0,765.6 675.0,765.3 676.0,765.1 677.0,764.8 678.0,764.4 679.0,764.0 680.0,763.6 681.0,763.3 682.0,762.9 683.0,762.6 684.0,762.3 685.0,762.4 686.0,762.4 687.0,762.4 688.0,762.5 689.0,762.5 690.0,762.6 691.0,762.6 692.0,762.4 693.0,762.1 694.0,761.8 695.0,761.6 696.0,761.3 697.0,761.1 698.0,760.8 699.0,760.6 700.0,760.4 701.0,760.1 702.0,759.9 703.0,759.6 704.0,759.4 705.0,759.1" fill="none" stroke="#000" stroke-width="0.80" stroke-linejoin="round"/><path d="M404.0,792.5 405.5,791.6 407.0,792.4 408.5,792.5 410.1,792.4 411.6,789.9 413.1,790.4 414.6,791.8 416.1,796.3 417.6,793.4 419.1,794.0 420.6,796.6 422.2,797.0 423.7,797.5 425.2,797.4 426.7,794.2 428.2,796.7 429.7,796.4 431.2,793.2 432.8,793.3 434.3,797.2 435.8,793.4 437.3,797.3 438.8,794.6 440.3,798.6 441.8,796.0 443.4,799.8 444.9,796.9 446.4,797.7 447.9,797.7 449.4,801.2 450.9,797.3 452.4,801.8 453.9,801.4 455.5,803.2 457.0,802.8 458.5,808.6 460.0,810.5 461.5,815.6 463.0,819.6 464.5,827.1 466.1,831.7 467.6,837.4 469.1,839.8 470.6,847.3 472.1,849.7 473.6,859.1 475.1,865.4 476.7,872.2 478.2,875.8 479.7,885.7 481.2,889.3 482.7,899.6 484.2,903.1 485.7,913.1 487.2,916.8 488.8,919.4 490.3,920.0 491.8,925.2 493.3,928.0 494.8,928.7 496.3,926.4 497.8,928.9 499.4,924.7 500.9,927.6 502.4,922.3 503.9,924.5 505.4,919.9 506.9,921.6 508.4,918.0 509.9,919.1 511.5,913.2 513.0,911.3 514.5,908.0 516.0,904.6 517.5,902.8 519.0,900.6 520.5,898.3 522.1,899.7 523.6,897.3 525.1,890.7 526.6,889.8 528.1,887.7 529.6,881.0 531.1,879.5 532.7,878.0 534.2,876.6 535.7,874.9 537.2,873.7 538.7,872.4 540.2,874.5 541.7,870.7 543.2,872.2 544.8,867.7 546.3,869.5 547.8,863.1 549.3,859.7 550.8,853.6 552.3,854.3 553.8,847.9 555.4,849.9 556.9,844.6 558.4,846.1 559.9,840.6 561.4,842.2 562.9,837.5 564.4,839.8 566.0,834.6 567.5,836.6 569.0,831.0 570.5,833.0 572.0,828.3 573.5,831.6 575.0,826.8 576.5,829.2 578.1,823.7 579.6,822.3 581.1,824.6 582.6,823.4 584.1,818.5 585.6,819.8 587.1,815.3 588.7,817.7 590.2,816.6 591.7,815.3 593.2,810.3 594.7,812.9 596.2,808.1 597.7,810.8 599.3,806.4 600.8,807.9 602.3,803.1 603.8,802.6 605.3,803.9 606.8,802.7 608.3,802.2 609.8,801.8 611.4,797.6 612.9,800.3 614.4,796.2 615.9,795.0 617.4,797.1 618.9,797.2 620.4,793.3 622.0,796.3 623.5,795.6 625.0,792.1 626.5,791.6 628.0,791.7 629.5,790.8 631.0,794.2 632.5,790.4 634.1,789.5 635.6,788.9 637.1,792.0 638.6,787.2 640.1,789.8 641.6,787.9 643.1,783.2 644.7,781.3 646.2,782.2 647.7,777.2 649.2,779.9 650.7,775.7 652.2,775.8 653.7,775.2 655.3,774.7 656.8,772.4 658.3,775.2 659.8,770.5 661.3,771.8 662.8,771.1 664.3,771.0 665.8,766.1 667.4,768.9 668.9,764.8 670.4,765.2 671.9,765.0 673.4,766.9 674.9,764.3 676.4,766.4 678.0,762.4 679.5,765.5 681.0,765.3 682.5,763.9 684.0,760.3 685.5,763.6 687.0,761.0 688.6,764.7 690.1,764.6 691.6,764.4 693.1,760.2 694.6,763.2 696.1,759.5 697.6,759.4 699.1,758.5 700.7,762.1 702.2,762.0 703.7,761.5 705.2,756.9" fill="none" stroke="#000" stroke-width="1.05" stroke-linejoin="miter" stroke-miterlimit="4"/>
<path d="M404.0,792.0 405.0,791.9 406.0,791.9 407.0,791.8 408.0,791.7 409.0,791.8 410.0,791.9 411.0,792.3 412.0,792.8 413.0,793.5 414.0,794.5 415.0,795.7 416.0,796.9 417.0,798.1 418.0,799.1 419.0,799.9 420.0,800.6 421.0,801.3 422.0,801.8 423.0,802.4 424.0,803.0 425.0,803.5 426.0,804.2 427.0,805.1 428.0,806.0 429.0,806.9 430.0,807.7 431.0,808.6 432.0,809.5 433.0,810.3 434.0,810.8 435.0,811.3 436.0,811.8 437.0,812.3 438.0,812.9 439.0,813.5 440.0,814.2 441.0,815.3 442.0,816.5 443.0,817.7 444.0,818.9 445.0,820.2 446.0,821.6 447.0,823.1 448.0,824.4 449.0,825.8 450.0,827.2 451.0,828.7 452.0,830.2 453.0,831.8 454.0,833.5 455.0,835.3 456.0,837.3 457.0,839.4 458.0,841.5 459.0,843.7 460.0,845.9 461.0,848.2 462.0,850.5 463.0,852.9 464.0,855.4 465.0,857.9 466.0,860.4 467.0,863.0 468.0,865.6 469.0,868.2 470.0,870.7 471.0,873.3 472.0,876.0 473.0,878.8 474.0,881.7 475.0,884.8 476.0,888.0 477.0,891.3 478.0,894.5 479.0,897.6 480.0,900.5 481.0,903.2 482.0,905.8 483.0,908.2 484.0,910.7 485.0,913.3 486.0,915.8 487.0,918.5 488.0,921.4 489.0,924.5 490.0,928.0 491.0,931.9 492.0,936.2 493.0,940.9 494.0,945.6 495.0,950.2 496.0,954.6 497.0,958.4 498.0,961.8 499.0,964.8 500.0,967.4 501.0,969.7 502.0,971.6 503.0,973.3 504.0,974.8 505.0,976.0 506.0,977.0 507.0,977.8 508.0,978.6 509.0,979.3 510.0,979.9 511.0,980.4 512.0,980.6 513.0,980.6 514.0,980.4 515.0,980.1 516.0,979.6 517.0,978.9 518.0,978.2 519.0,977.4 520.0,976.7 521.0,975.9 522.0,975.0 523.0,974.0 524.0,972.9 525.0,971.7 526.0,970.4 527.0,969.2 528.0,967.9 529.0,966.6 530.0,965.2 531.0,963.6 532.0,962.1 533.0,960.4 534.0,958.8 535.0,957.2 536.0,955.6 537.0,953.9 538.0,952.2 539.0,950.5 540.0,948.7 541.0,946.5 542.0,944.2 543.0,941.8 544.0,939.4 545.0,937.0 546.0,934.5 547.0,931.4 548.0,926.0 549.0,923.8 550.0,921.7 551.0,919.7 552.0,917.7 553.0,915.7 554.0,913.8 555.0,911.9 556.0,910.3 557.0,908.6 558.0,907.0 559.0,905.4 560.0,903.8 561.0,902.2 562.0,900.5 563.0,898.4 564.0,896.4 565.0,894.4 566.0,892.4 567.0,890.4 568.0,888.4 569.0,886.4 570.0,884.5 571.0,882.6 572.0,880.7 573.0,878.8 574.0,877.0 575.0,875.2 576.0,873.4 577.0,871.6 578.0,869.8 579.0,868.0 580.0,866.3 581.0,864.5 582.0,862.8 583.0,861.2 584.0,859.6 585.0,858.1 586.0,856.5 587.0,855.0 588.0,853.5 589.0,852.0 590.0,850.5 591.0,849.2 592.0,847.9 593.0,846.6 594.0,845.3 595.0,843.9 596.0,842.6 597.0,841.3 598.0,839.8 599.0,838.2 600.0,836.6 601.0,835.0 602.0,833.3 603.0,831.6 604.0,829.9 605.0,828.3 606.0,826.9 607.0,825.6 608.0,824.4 609.0,823.1 610.0,821.9 611.0,820.7 612.0,819.6 613.0,818.0 614.0,816.5 615.0,815.1 616.0,813.7 617.0,812.4 618.0,811.1 619.0,809.9 620.0,808.8 621.0,807.8 622.0,806.8 623.0,805.8 624.0,804.9 625.0,804.0 626.0,803.1 627.0,802.3 628.0,801.5 629.0,800.8 630.0,800.0 631.0,799.3 632.0,798.6 633.0,797.9 634.0,797.2 635.0,796.5 636.0,795.7 637.0,795.0 638.0,794.3 639.0,793.6 640.0,793.0 641.0,792.3 642.0,791.6 643.0,790.8 644.0,790.1 645.0,789.5 646.0,788.8 647.0,788.1 648.0,787.5 649.0,787.2 650.0,786.9 651.0,786.7 652.0,786.4 653.0,786.2 654.0,786.0 655.0,785.8 656.0,785.4 657.0,785.0 658.0,784.7 659.0,784.3 660.0,784.0 661.0,783.7 662.0,783.4 663.0,783.2 664.0,783.0 665.0,782.9 666.0,782.7 667.0,782.6 668.0,782.5 669.0,782.4 670.0,782.1 671.0,781.8 672.0,781.5 673.0,781.2 674.0,780.9 675.0,780.6 676.0,780.4 677.0,780.1 678.0,779.9 679.0,779.7 680.0,779.5 681.0,779.3 682.0,779.1 683.0,778.9 684.0,778.9 685.0,779.3 686.0,779.6 687.0,780.0 688.0,780.3 689.0,780.7 690.0,781.1 691.0,781.3 692.0,780.9 693.0,780.4 694.0,780.0 695.0,779.6 696.0,779.1 697.0,778.7 698.0,778.3 699.0,778.3 700.0,778.4 701.0,778.4 702.0,778.4 703.0,778.5 704.0,778.5 705.0,778.5" fill="none" stroke="#000" stroke-width="0.80" stroke-linejoin="round"/><path d="M404.0,792.5 405.5,791.4 407.0,792.6 408.5,790.7 410.1,793.0 411.6,793.6 413.1,791.6 414.6,793.3 416.1,798.2 417.6,796.7 419.1,802.2 420.6,799.8 422.2,803.7 423.7,804.4 425.2,805.4 426.7,803.7 428.2,808.3 429.7,806.1 431.2,807.0 432.8,808.9 434.3,812.2 435.8,813.9 437.3,811.1 438.8,811.1 440.3,816.7 441.8,814.5 443.4,819.8 444.9,819.0 446.4,824.2 447.9,822.4 449.4,828.1 450.9,826.5 452.4,829.3 453.9,834.9 455.5,838.2 457.0,837.6 458.5,844.4 460.0,847.2 461.5,850.7 463.0,851.7 464.5,858.8 466.1,858.2 467.6,866.7 469.1,866.7 470.6,870.2 472.1,875.1 473.6,882.0 475.1,883.0 476.7,891.6 478.2,893.8 479.7,901.2 481.2,901.7 482.7,909.8 484.2,910.2 485.7,917.0 487.2,917.1 488.8,925.8 490.3,926.8 491.8,937.1 493.3,940.2 494.8,947.8 496.3,954.1 497.8,963.0 499.4,964.2 500.9,971.0 502.4,970.4 503.9,973.4 505.4,974.3 506.9,979.7 508.4,977.7 509.9,978.4 511.5,982.6 513.0,982.2 514.5,978.1 516.0,981.1 517.5,976.2 519.0,978.9 520.5,974.0 522.1,976.4 523.6,971.8 525.1,972.8 526.6,967.7 528.1,968.9 529.6,967.7 531.1,965.1 532.7,963.1 534.2,956.7 535.7,953.9 537.2,951.9 538.7,949.6 540.2,950.5 541.7,942.6 543.2,943.3 544.8,939.3 546.3,935.1 547.8,925.5 549.3,925.2 550.8,918.2 552.3,918.7 553.8,912.4 555.4,913.4 556.9,907.5 558.4,905.3 559.9,902.8 561.4,903.8 562.9,897.3 564.4,897.8 566.0,891.4 567.5,891.3 569.0,884.8 570.5,885.2 572.0,881.7 573.5,879.6 575.0,873.3 576.5,874.5 578.1,867.6 579.6,869.1 581.1,863.3 582.6,864.0 584.1,857.7 585.6,855.0 587.1,852.6 588.7,853.7 590.2,851.9 591.7,850.0 593.2,848.1 594.7,846.6 596.2,841.2 597.7,842.0 599.3,836.2 600.8,836.6 602.3,830.9 603.8,832.2 605.3,826.7 606.8,827.0 608.3,822.3 609.8,819.8 611.4,818.2 612.9,820.1 614.4,817.5 615.9,816.1 617.4,810.2 618.9,811.2 620.4,806.6 622.0,805.7 623.5,803.3 625.0,805.7 626.5,800.7 628.0,803.6 629.5,798.3 631.0,801.3 632.5,796.2 634.1,798.7 635.6,795.0 637.1,796.3 638.6,792.0 640.1,794.3 641.6,789.5 643.1,792.2 644.7,787.8 646.2,787.5 647.7,786.1 649.2,789.2 650.7,784.6 652.2,787.5 653.7,784.0 655.3,788.0 656.8,784.1 658.3,786.6 659.8,785.2 661.3,785.5 662.8,781.0 664.3,784.1 665.8,780.8 667.4,783.7 668.9,780.6 670.4,780.5 671.9,779.8 673.4,783.1 674.9,779.4 676.4,781.7 678.0,778.7 679.5,781.2 681.0,778.2 682.5,778.0 684.0,777.0 685.5,781.4 687.0,778.9 688.6,782.4 690.1,779.2 691.6,779.6 693.1,779.0 694.6,781.1 696.1,777.3 697.6,779.6 699.1,776.6 700.7,779.9 702.2,776.7 703.7,780.5 705.2,779.8" fill="none" stroke="#000" stroke-width="1.05" stroke-linejoin="miter" stroke-miterlimit="4"/>
<path d="M404.0,792.0 405.0,792.1 406.0,792.0 407.0,791.9 408.0,791.8 409.0,791.7 410.0,791.7 411.0,792.1 412.0,793.0 413.0,794.5 414.0,796.9 415.0,799.8 416.0,802.2 417.0,804.1 418.0,805.7 419.0,807.1 420.0,808.5 421.0,809.8 422.0,811.1 423.0,812.4 424.0,813.6 425.0,814.9 426.0,815.8 427.0,816.6 428.0,817.3 429.0,818.0 430.0,818.7 431.0,819.5 432.0,820.2 433.0,821.1 434.0,822.3 435.0,823.5 436.0,824.6 437.0,825.8 438.0,826.9 439.0,828.0 440.0,829.2 441.0,830.8 442.0,832.3 443.0,833.8 444.0,835.4 445.0,837.0 446.0,838.6 447.0,840.3 448.0,841.5 449.0,842.7 450.0,844.0 451.0,845.5 452.0,847.2 453.0,849.3 454.0,852.0 455.0,856.1 456.0,861.8 457.0,867.8 458.0,872.8 459.0,877.0 460.0,881.0 461.0,884.9 462.0,888.7 463.0,892.4 464.0,896.1 465.0,899.9 466.0,903.8 467.0,907.9 468.0,912.0 469.0,916.4 470.0,921.0 471.0,925.9 472.0,930.9 473.0,936.0 474.0,941.1 475.0,946.3 476.0,951.5 477.0,956.9 478.0,962.1 479.0,967.0 480.0,972.1 481.0,977.8 482.0,983.7 483.0,989.1 484.0,993.2 485.0,996.3 486.0,998.5 487.0,999.9 488.0,1000.7 489.0,1001.0 490.0,1001.0 491.0,1001.1 492.0,1001.0 493.0,1000.7 494.0,1000.3 495.0,999.8 496.0,999.3 497.0,998.7 498.0,998.0 499.0,997.1 500.0,996.3 501.0,995.5 502.0,994.7 503.0,994.0 504.0,993.4 505.0,993.2 506.0,993.1 507.0,993.2 508.0,993.2 509.0,993.2 510.0,993.2 511.0,993.2 512.0,992.8 513.0,992.0 514.0,991.0 515.0,990.0 516.0,988.8 517.0,987.5 518.0,986.0 519.0,984.6 520.0,983.3 521.0,982.0 522.0,980.6 523.0,979.1 524.0,977.6 525.0,976.2 526.0,974.6 527.0,972.7 528.0,970.9 529.0,969.1 530.0,967.3 531.0,965.5 532.0,963.8 533.0,962.2 534.0,961.2 535.0,960.2 536.0,959.4 537.0,958.6 538.0,957.9 539.0,957.2 540.0,956.6 541.0,955.7 542.0,954.6 543.0,953.6 544.0,952.4 545.0,951.0 546.0,949.6 547.0,948.1 548.0,946.5 549.0,944.9 550.0,943.2 551.0,941.4 552.0,939.6 553.0,937.8 554.0,935.9 555.0,934.1 556.0,932.4 557.0,930.7 558.0,929.1 559.0,927.4 560.0,925.7 561.0,924.0 562.0,922.2 563.0,920.3 564.0,918.3 565.0,916.4 566.0,914.4 567.0,912.5 568.0,910.6 569.0,908.7 570.0,907.1 571.0,905.5 572.0,903.9 573.0,902.3 574.0,900.7 575.0,899.1 576.0,897.5 577.0,895.7 578.0,893.9 579.0,892.1 580.0,890.2 581.0,888.4 582.0,886.6 583.0,884.8 584.0,883.1 585.0,881.4 586.0,879.7 587.0,878.0 588.0,876.3 589.0,874.6 590.0,872.9 591.0,871.0 592.0,868.8 593.0,866.7 594.0,864.6 595.0,862.5 596.0,860.5 597.0,858.5 598.0,856.7 599.0,855.3 600.0,853.9 601.0,852.5 602.0,851.1 603.0,849.8 604.0,848.4 605.0,847.1 606.0,845.8 607.0,844.5 608.0,843.3 609.0,842.1 610.0,840.8 611.0,839.6 612.0,838.3 613.0,836.6 614.0,834.9 615.0,833.2 616.0,831.6 617.0,829.9 618.0,828.3 619.0,826.7 620.0,825.3 621.0,823.9 622.0,822.6 623.0,821.3 624.0,820.0 625.0,818.7 626.0,817.5 627.0,816.7 628.0,816.0 629.0,815.4 630.0,814.7 631.0,814.1 632.0,813.5 633.0,813.0 634.0,812.0 635.0,810.9 636.0,809.7 637.0,808.6 638.0,807.5 639.0,806.5 640.0,805.4 641.0,804.7 642.0,804.3 643.0,803.8 644.0,803.4 645.0,803.1 646.0,802.7 647.0,802.3 648.0,801.9 649.0,801.2 650.0,800.5 651.0,799.8 652.0,799.2 653.0,798.5 654.0,797.9 655.0,797.3 656.0,797.0 657.0,796.7 658.0,796.4 659.0,796.1 660.0,795.8 661.0,795.6 662.0,795.3 663.0,794.8 664.0,794.3 665.0,793.8 666.0,793.2 667.0,792.8 668.0,792.3 669.0,791.8 670.0,791.5 671.0,791.3 672.0,791.1 673.0,790.9 674.0,790.7 675.0,790.5 676.0,790.3 677.0,789.9 678.0,789.5 679.0,789.1 680.0,788.7 681.0,788.3 682.0,787.9 683.0,787.6 684.0,787.5 685.0,787.6 686.0,787.8 687.0,787.9 688.0,788.1 689.0,788.3 690.0,788.5 691.0,788.4 692.0,787.9 693.0,787.5 694.0,787.0 695.0,786.5 696.0,786.0 697.0,785.5 698.0,785.2 699.0,785.3 700.0,785.4 701.0,785.6 702.0,785.7 703.0,785.8 704.0,786.0" fill="none" stroke="#000" stroke-width="0.80" stroke-linejoin="round"/><path d="M404.0,792.5 405.5,792.5 407.0,792.5 408.5,791.1 410.1,793.3 411.6,791.3 413.1,792.5 414.6,796.5 416.1,803.7 417.6,803.7 419.1,805.3 420.6,807.3 422.2,812.4 423.7,811.1 425.2,817.1 426.7,814.5 428.2,815.3 429.7,820.8 431.2,820.9 432.7,818.6 434.3,824.7 435.8,826.1 437.3,827.3 438.8,825.6 440.3,827.7 441.8,830.5 443.3,835.8 444.8,834.5 446.4,840.6 447.9,839.2 449.4,844.8 450.9,843.4 452.4,845.9 453.9,850.6 455.4,859.7 456.9,866.3 458.5,873.2 460.0,882.0 461.5,888.9 463.0,890.3 464.5,899.8 466.0,902.6 467.5,911.3 469.0,918.4 470.6,925.9 472.1,929.0 473.6,941.2 475.1,945.3 476.6,956.7 478.1,961.0 479.6,971.9 481.1,976.7 482.7,988.7 484.2,992.4 485.7,999.4 487.2,998.7 488.7,1003.1 490.2,999.6 491.7,1002.1 493.2,998.8 494.8,1002.2 496.3,997.4 497.8,999.5 499.3,994.7 500.8,997.5 502.3,992.7 503.8,991.9 505.3,995.2 506.9,995.0 508.4,991.5 509.9,991.8 511.4,991.1 512.9,994.2 514.4,991.8 515.9,989.9 517.4,988.0 519.0,986.8 520.5,984.5 522.0,982.1 523.5,980.7 525.0,978.4 526.5,972.1 528.0,972.3 529.5,966.4 531.1,967.2 532.6,960.8 534.1,963.2 535.6,958.3 537.1,960.6 538.6,956.3 540.1,957.8 541.6,953.4 543.2,954.5 544.7,950.0 546.2,950.4 547.7,944.9 549.2,946.4 550.7,940.5 552.2,940.9 553.7,934.9 555.3,935.8 556.8,929.7 558.3,929.9 559.8,924.0 561.3,925.4 562.8,918.7 564.3,918.8 565.8,915.8 567.4,914.0 568.9,906.6 570.4,907.8 571.9,902.4 573.4,903.3 574.9,897.9 576.4,897.9 577.9,892.6 579.5,893.5 581.0,886.9 582.5,884.4 584.0,884.2 585.5,882.4 587.0,875.8 588.5,876.7 590.0,870.9 591.6,870.8 593.1,865.3 594.6,861.5 596.1,859.1 597.6,855.7 599.1,853.5 600.6,854.1 602.1,853.0 603.7,850.8 605.2,844.8 606.7,846.8 608.2,841.7 609.7,843.1 611.2,837.6 612.7,835.2 614.2,832.5 615.8,830.6 617.3,827.3 618.8,828.7 620.3,823.5 621.8,824.5 623.3,818.6 624.8,820.9 626.3,818.3 627.9,817.5 629.4,817.0 630.9,816.4 632.4,811.6 633.9,813.9 635.4,811.4 636.9,809.9 638.4,805.0 640.0,806.8 641.5,806.2 643.0,805.7 644.5,801.5 646.0,804.7 647.5,800.3 649.0,802.6 650.5,798.3 652.1,801.0 653.6,797.0 655.1,795.1 656.6,798.6 658.1,798.6 659.6,798.1 661.1,796.6 662.6,793.8 664.2,796.3 665.7,792.1 667.2,794.9 668.7,789.7 670.2,793.5 671.7,793.0 673.2,792.4 674.7,788.3 676.3,792.1 677.8,788.5 679.3,790.9 680.8,786.9 682.3,786.6 683.8,785.9 685.3,789.8 686.8,789.9 688.4,789.7 689.9,786.4 691.4,790.0 692.9,786.1 694.4,788.0 695.9,788.0 697.4,786.7 698.9,783.6 700.5,786.8 702.0,783.9 703.5,787.0 705.0,784.7" fill="none" stroke="#000" stroke-width="1.05" stroke-linejoin="miter" stroke-miterlimit="4"/>
<path d="M404.0,792.0 405.0,792.4 406.0,792.7 407.0,792.9 408.0,793.1 409.0,793.4 410.0,793.8 411.0,794.4 412.0,795.4 413.0,798.6 414.0,805.7 415.0,808.3 416.0,810.0 417.0,811.3 418.0,812.4 419.0,813.5 420.0,814.5 421.0,815.4 422.0,816.3 423.0,817.2 424.0,818.0 425.0,818.9 426.0,819.8 427.0,820.8 428.0,821.8 429.0,822.9 430.0,823.9 431.0,825.0 432.0,826.0 433.0,827.1 434.0,828.2 435.0,829.4 436.0,830.6 437.0,831.7 438.0,832.9 439.0,834.0 440.0,835.1 441.0,836.3 442.0,837.4 443.0,838.6 444.0,839.8 445.0,841.0 446.0,842.3 447.0,843.6 448.0,844.7 449.0,845.8 450.0,847.1 451.0,848.5 452.0,850.0 453.0,851.9 454.0,854.3 455.0,857.5 456.0,861.9 457.0,867.3 458.0,872.5 459.0,877.2 460.0,881.9 461.0,886.8 462.0,891.8 463.0,896.9 464.0,902.3 465.0,908.0 466.0,914.5 467.0,921.4 468.0,928.5 469.0,935.4 470.0,942.0 471.0,948.0 472.0,953.8 473.0,959.5 474.0,965.0 475.0,970.3 476.0,975.3 477.0,980.1 478.0,984.5 479.0,988.5 480.0,992.1 481.0,995.2 482.0,998.0 483.0,1000.5 484.0,1002.5 485.0,1004.5 486.0,1006.4 487.0,1008.3 488.0,1010.3 489.0,1012.4 490.0,1014.6 491.0,1016.9 492.0,1018.9 493.0,1020.6 494.0,1021.9 495.0,1022.8 496.0,1023.4 497.0,1023.7 498.0,1023.6 499.0,1023.3 500.0,1022.9 501.0,1022.3 502.0,1021.7 503.0,1021.0 504.0,1020.2 505.0,1019.6 506.0,1019.1 507.0,1018.6 508.0,1018.1 509.0,1017.6 510.0,1017.2 511.0,1016.7 512.0,1016.4 513.0,1016.2 514.0,1015.9 515.0,1015.7 516.0,1015.4 517.0,1015.1 518.0,1014.8 519.0,1014.3 520.0,1013.3 521.0,1012.3 522.0,1011.3 523.0,1010.1 524.0,1008.9 525.0,1007.6 526.0,1006.3 527.0,1005.1 528.0,1003.8 529.0,1002.5 530.0,1001.1 531.0,999.7 532.0,998.2 533.0,996.7 534.0,995.2 535.0,993.7 536.0,992.2 537.0,990.7 538.0,989.2 539.0,987.7 540.0,986.2 541.0,984.8 542.0,983.4 543.0,982.1 544.0,980.7 545.0,979.4 546.0,978.0 547.0,976.6 548.0,975.2 549.0,973.6 550.0,972.1 551.0,970.5 552.0,968.9 553.0,967.3 554.0,965.6 555.0,963.9 556.0,962.1 557.0,960.2 558.0,958.3 559.0,956.4 560.0,954.5 561.0,952.6 562.0,950.7 563.0,948.6 564.0,946.6 565.0,944.6 566.0,942.5 567.0,940.4 568.0,938.4 569.0,936.3 570.0,934.3 571.0,932.3 572.0,930.3 573.0,928.2 574.0,926.2 575.0,924.1 576.0,922.1 577.0,920.1 578.0,918.2 579.0,916.3 580.0,914.4 581.0,912.4 582.0,910.4 583.0,908.4 584.0,906.1 585.0,903.8 586.0,901.4 587.0,899.1 588.0,896.7 589.0,894.3 590.0,891.9 591.0,889.6 592.0,887.5 593.0,885.3 594.0,883.2 595.0,881.0 596.0,878.9 597.0,876.8 598.0,874.7 599.0,872.8 600.0,870.8 601.0,868.9 602.0,867.0 603.0,865.2 604.0,863.4 605.0,861.6 606.0,859.6 607.0,857.6 608.0,855.7 609.0,853.7 610.0,851.8 611.0,850.0 612.0,848.2 613.0,846.6 614.0,845.2 615.0,843.8 616.0,842.4 617.0,841.2 618.0,839.9 619.0,838.8 620.0,837.3 621.0,835.8 622.0,834.4 623.0,833.0 624.0,831.6 625.0,830.3 626.0,829.0 627.0,828.0 628.0,827.0 629.0,826.1 630.0,825.3 631.0,824.4 632.0,823.5 633.0,822.7 634.0,821.9 635.0,821.1 636.0,820.4 637.0,819.7 638.0,819.0 639.0,818.3 640.0,817.5 641.0,816.7 642.0,815.6 643.0,814.6 644.0,813.5 645.0,812.4 646.0,811.3 647.0,810.2 648.0,809.1 649.0,808.2 650.0,807.1 651.0,806.0 652.0,804.8 653.0,803.5 654.0,802.2 655.0,801.1 656.0,800.4 657.0,799.9 658.0,799.6 659.0,799.3 660.0,799.1 661.0,798.9 662.0,798.8 663.0,798.2 664.0,797.5 665.0,796.9 666.0,796.3 667.0,795.7 668.0,795.1 669.0,794.5 670.0,794.3 671.0,794.3 672.0,794.3 673.0,794.3 674.0,794.3 675.0,794.3 676.0,794.3 677.0,794.1 678.0,793.7 679.0,793.2 680.0,792.8 681.0,792.4 682.0,792.0 683.0,791.6 684.0,791.3 685.0,791.3 686.0,791.4 687.0,791.4 688.0,791.4 689.0,791.4 690.0,791.5 691.0,791.5 692.0,791.2 693.0,791.0 694.0,790.8 695.0,790.6 696.0,790.3 697.0,790.1 698.0,789.9 699.0,789.4 700.0,789.0 701.0,788.6 702.0,788.1 703.0,787.7 704.0,787.2 705.0,786.7" fill="none" stroke="#000" stroke-width="0.80" stroke-linejoin="round"/><path d="M404.0,792.3 405.5,792.1 407.0,793.4 408.5,794.1 410.1,792.4 411.6,793.4 413.1,800.7 414.6,805.3 416.1,812.2 417.6,810.0 419.1,815.1 420.6,817.3 422.2,818.1 423.7,816.3 425.2,820.2 426.7,822.6 428.2,824.0 429.7,825.8 431.2,826.4 432.8,827.9 434.3,830.7 435.8,829.0 437.3,833.5 438.8,835.0 440.3,837.2 441.8,836.0 443.4,840.2 444.9,838.6 446.4,844.0 447.9,843.1 449.4,847.6 450.9,846.3 452.4,852.8 453.9,851.9 455.5,857.8 457.0,865.2 458.5,876.9 460.0,879.8 461.5,890.6 463.0,895.4 464.5,907.2 466.1,913.5 467.6,927.5 469.1,937.9 470.6,947.7 472.1,956.4 473.6,961.3 475.1,969.8 476.7,979.8 478.2,983.5 479.7,993.2 481.2,994.5 482.7,997.7 484.2,1001.6 485.7,1007.6 487.2,1006.6 488.8,1013.5 490.3,1016.5 491.8,1019.9 493.3,1019.0 494.8,1024.6 496.3,1021.7 497.8,1025.0 499.4,1021.2 500.9,1024.5 502.4,1019.8 503.9,1021.7 505.4,1021.2 506.9,1020.6 508.4,1016.3 509.9,1015.4 511.5,1014.5 513.0,1018.4 514.5,1017.0 516.0,1017.3 517.5,1013.8 519.0,1015.6 520.5,1010.9 522.1,1012.5 523.6,1007.6 525.1,1009.5 526.6,1007.5 528.1,1005.8 529.6,1003.5 531.1,1001.2 532.7,994.9 534.2,996.4 535.7,993.9 537.2,992.1 538.7,986.3 540.2,987.4 541.7,981.5 543.2,983.2 544.8,978.4 546.3,979.3 547.8,974.2 549.3,975.0 550.8,972.2 552.3,969.8 553.8,964.0 555.4,965.1 556.9,959.4 558.4,959.4 559.9,953.0 561.4,953.3 562.9,947.3 564.4,947.5 566.0,944.6 567.5,941.5 569.0,934.2 570.5,935.0 572.0,928.9 573.5,929.1 575.0,922.8 576.5,922.1 578.1,916.9 579.6,916.3 581.1,910.7 582.6,910.7 584.1,903.6 585.6,904.4 587.1,896.6 588.7,897.1 590.2,890.2 591.7,889.4 593.2,882.8 594.7,883.6 596.2,877.3 597.7,876.8 599.3,870.9 600.8,871.1 602.3,864.9 603.8,862.2 605.3,859.2 606.8,860.0 608.3,852.9 609.8,853.8 611.4,847.8 612.9,848.9 614.4,843.5 615.9,844.6 617.4,839.5 618.9,840.3 620.4,838.8 622.0,835.9 623.5,831.2 625.0,831.5 626.5,826.2 628.0,828.6 629.5,824.2 631.0,826.5 632.5,825.2 634.1,823.2 635.6,821.9 637.1,821.8 638.6,817.0 640.1,819.1 641.6,814.8 643.1,816.0 644.7,815.0 646.2,813.3 647.7,808.2 649.2,809.8 650.7,805.1 652.2,806.2 653.7,804.6 655.3,802.3 656.8,801.8 658.3,798.2 659.8,797.7 661.3,800.7 662.8,799.8 664.3,798.6 665.8,794.9 667.4,797.5 668.9,793.1 670.4,796.1 671.9,792.9 673.4,796.1 674.9,793.2 676.4,795.4 678.0,795.0 679.5,795.1 681.0,791.2 682.5,793.4 684.0,789.0 685.5,792.7 687.0,790.2 688.6,790.0 690.1,789.8 691.6,793.5 693.1,792.1 694.6,792.4 696.1,789.3 697.6,787.7 699.1,787.8 700.7,786.8 702.2,786.7 703.7,789.0 705.2,784.6" fill="none" stroke="#000" stroke-width="1.05" stroke-linejoin="miter" stroke-miterlimit="4"/>
<path d="M404.0,792.0 405.0,792.4 406.0,792.6 407.0,792.7 408.0,792.8 409.0,793.1 410.0,793.8 411.0,795.4 412.0,805.3 413.0,811.9 414.0,814.4 415.0,816.2 416.0,817.6 417.0,818.9 418.0,820.1 419.0,821.3 420.0,822.6 421.0,823.8 422.0,824.9 423.0,826.0 424.0,827.2 425.0,828.3 426.0,829.2 427.0,830.0 428.0,830.7 429.0,831.5 430.0,832.3 431.0,833.1 432.0,833.8 433.0,834.5 434.0,835.2 435.0,835.8 436.0,836.5 437.0,837.1 438.0,837.7 439.0,838.4 440.0,839.0 441.0,840.0 442.0,841.0 443.0,842.1 444.0,843.1 445.0,844.2 446.0,845.4 447.0,846.7 448.0,847.9 449.0,849.3 450.0,850.8 451.0,852.5 452.0,854.5 453.0,856.7 454.0,859.2 455.0,861.9 456.0,865.0 457.0,868.4 458.0,872.2 459.0,876.1 460.0,879.9 461.0,884.0 462.0,888.4 463.0,893.2 464.0,898.2 465.0,903.3 466.0,908.5 467.0,913.7 468.0,918.9 469.0,924.1 470.0,929.2 471.0,934.3 472.0,939.3 473.0,944.4 474.0,949.4 475.0,954.3 476.0,959.1 477.0,963.5 478.0,967.8 479.0,971.8 480.0,975.7 481.0,979.4 482.0,983.2 483.0,986.9 484.0,990.5 485.0,993.8 486.0,996.8 487.0,999.5 488.0,1001.9 489.0,1003.9 490.0,1005.6 491.0,1006.8 492.0,1007.9 493.0,1008.9 494.0,1009.7 495.0,1010.4 496.0,1010.9 497.0,1011.4 498.0,1012.0 499.0,1012.6 500.0,1013.1 501.0,1013.4 502.0,1013.7 503.0,1013.8 504.0,1013.9 505.0,1014.0 506.0,1014.2 507.0,1014.3 508.0,1014.3 509.0,1014.1 510.0,1014.0 511.0,1013.7 512.0,1013.1 513.0,1012.2 514.0,1011.3 515.0,1010.3 516.0,1009.2 517.0,1008.2 518.0,1007.1 519.0,1006.0 520.0,1004.9 521.0,1003.8 522.0,1002.7 523.0,1001.6 524.0,1000.5 525.0,999.3 526.0,998.2 527.0,997.1 528.0,995.9 529.0,994.8 530.0,993.6 531.0,992.4 532.0,991.1 533.0,989.9 534.0,988.9 535.0,987.8 536.0,986.8 537.0,985.7 538.0,984.5 539.0,983.4 540.0,982.2 541.0,980.8 542.0,979.3 543.0,977.7 544.0,976.2 545.0,974.6 546.0,973.0 547.0,971.3 548.0,969.7 549.0,967.9 550.0,966.2 551.0,964.5 552.0,962.7 553.0,960.9 554.0,959.1 555.0,957.4 556.0,955.8 557.0,954.3 558.0,952.7 559.0,951.1 560.0,949.5 561.0,947.9 562.0,946.2 563.0,944.1 564.0,942.1 565.0,940.0 566.0,938.0 567.0,935.9 568.0,933.8 569.0,931.9 570.0,930.3 571.0,928.7 572.0,927.1 573.0,925.5 574.0,923.9 575.0,922.2 576.0,920.5 577.0,918.1 578.0,915.7 579.0,913.3 580.0,911.0 581.0,908.6 582.0,906.2 583.0,903.8 584.0,902.0 585.0,900.3 586.0,898.6 587.0,897.0 588.0,895.4 589.0,893.7 590.0,892.1 591.0,890.1 592.0,888.0 593.0,885.8 594.0,883.6 595.0,881.4 596.0,879.3 597.0,877.2 598.0,875.1 599.0,873.2 600.0,871.4 601.0,869.5 602.0,867.7 603.0,865.9 604.0,864.1 605.0,862.5 606.0,861.0 607.0,859.6 608.0,858.2 609.0,856.8 610.0,855.4 611.0,854.1 612.0,852.8 613.0,851.1 614.0,849.5 615.0,847.9 616.0,846.3 617.0,844.7 618.0,843.1 619.0,841.5 620.0,839.9 621.0,838.3 622.0,836.8 623.0,835.2 624.0,833.7 625.0,832.1 626.0,830.6 627.0,829.5 628.0,828.5 629.0,827.5 630.0,826.5 631.0,825.6 632.0,824.7 633.0,823.7 634.0,822.6 635.0,821.3 636.0,820.0 637.0,818.8 638.0,817.6 639.0,816.4 640.0,815.2 641.0,814.2 642.0,813.2 643.0,812.3 644.0,811.4 645.0,810.5 646.0,809.7 647.0,808.8 648.0,808.0 649.0,807.1 650.0,806.3 651.0,805.4 652.0,804.6 653.0,803.8 654.0,803.1 655.0,802.4 656.0,801.9 657.0,801.5 658.0,801.1 659.0,800.8 660.0,800.4 661.0,800.1 662.0,799.7 663.0,799.1 664.0,798.5 665.0,798.0 666.0,797.4 667.0,796.9 668.0,796.3 669.0,795.8 670.0,795.2 671.0,794.5 672.0,793.9 673.0,793.3 674.0,792.7 675.0,792.2 676.0,791.7 677.0,791.6 678.0,791.7 679.0,791.8 680.0,791.9 681.0,792.1 682.0,792.3 683.0,792.4 684.0,792.4 685.0,792.1 686.0,791.7 687.0,791.4 688.0,791.2 689.0,790.9 690.0,790.6 691.0,790.3 692.0,790.0 693.0,789.8 694.0,789.5 695.0,789.2 696.0,789.0 697.0,788.7 698.0,788.4 699.0,788.2 700.0,787.9 701.0,787.7 702.0,787.4 703.0,787.1 704.0,786.8" fill="none" stroke="#000" stroke-width="0.80" stroke-linejoin="round"/><path d="M404.0,791.7 405.5,792.2 407.0,792.2 408.5,792.0 410.1,792.9 411.6,795.6 413.1,813.9 414.6,813.9 416.1,819.3 417.6,818.3 419.1,823.2 420.6,822.0 422.2,826.5 423.7,825.1 425.2,830.3 426.7,828.3 428.2,832.8 429.7,830.6 431.2,835.5 432.7,835.6 434.3,837.1 435.8,834.8 437.3,838.9 438.8,837.0 440.3,840.8 441.8,839.6 443.3,844.3 444.8,842.0 446.4,847.9 447.9,849.9 449.4,851.3 450.9,850.5 452.4,857.6 453.9,857.3 455.4,861.4 456.9,866.3 458.5,875.0 460.0,881.9 461.5,887.6 463.0,891.1 464.5,901.9 466.0,906.9 467.5,918.2 469.0,922.3 470.6,933.8 472.1,937.8 473.6,949.5 475.1,953.4 476.6,963.4 478.1,966.1 479.6,975.9 481.1,978.2 482.7,984.0 484.2,988.8 485.7,997.8 487.2,998.0 488.7,1002.2 490.2,1004.4 491.7,1005.7 493.2,1007.8 494.8,1008.2 496.3,1008.9 497.8,1013.9 499.3,1010.8 500.8,1012.0 502.3,1012.5 503.8,1016.1 505.3,1012.5 506.9,1016.4 508.4,1012.3 509.9,1016.2 511.4,1012.5 512.9,1010.3 514.4,1008.9 515.9,1011.1 517.4,1009.0 519.0,1007.3 520.5,1002.2 522.0,1004.3 523.5,999.1 525.0,1001.6 526.5,996.3 528.0,997.0 529.5,993.1 531.1,993.9 532.6,988.3 534.1,990.8 535.6,985.4 537.1,986.6 538.6,982.5 540.1,983.3 541.6,978.6 543.2,978.7 544.7,974.0 546.2,974.4 547.7,971.6 549.2,969.1 550.7,966.3 552.2,964.3 553.7,958.1 555.3,958.2 556.8,953.3 558.3,953.6 559.8,948.4 561.3,948.9 562.8,943.2 564.3,943.2 565.8,937.1 567.4,937.4 568.9,934.2 570.4,931.4 571.9,929.3 573.4,926.1 574.9,920.9 576.4,921.6 577.9,917.5 579.5,914.2 581.0,906.6 582.5,907.0 584.0,903.6 585.5,901.0 587.0,895.8 588.5,896.6 590.0,890.1 591.6,890.0 593.1,887.7 594.6,881.0 596.1,877.0 597.6,877.1 599.1,871.9 600.6,868.1 602.1,865.3 603.7,866.4 605.2,860.0 606.7,858.9 608.2,856.7 609.7,853.6 611.2,851.6 612.7,853.5 614.2,847.6 615.8,848.6 617.3,843.2 618.8,840.4 620.3,837.4 621.8,838.4 623.3,833.5 624.8,834.0 626.3,828.3 627.9,830.1 629.4,825.1 630.9,827.9 632.4,823.0 633.9,821.2 635.4,818.6 636.9,820.5 638.4,815.0 640.0,813.8 641.5,811.7 643.0,810.2 644.5,808.9 646.0,811.8 647.5,806.9 649.0,808.8 650.5,803.7 652.1,806.5 653.6,805.1 655.1,803.4 656.6,800.4 658.1,799.5 659.6,798.5 661.1,797.8 662.6,797.1 664.2,800.0 665.7,795.3 667.2,798.3 668.7,794.7 670.2,797.2 671.7,795.2 673.2,794.8 674.7,790.3 676.3,793.4 677.8,789.5 679.3,793.5 680.8,790.5 682.3,793.8 683.8,790.6 685.3,793.7 686.8,789.8 688.4,792.9 689.9,788.9 691.4,792.1 692.9,788.1 694.4,791.4 695.9,790.3 697.4,790.1 698.9,786.8 700.5,790.0 702.0,785.6 703.5,789.2 705.0,784.8" fill="none" stroke="#000" stroke-width="1.05" stroke-linejoin="miter" stroke-miterlimit="4"/>
<path d="M32,122 L35.5,122.3" stroke="#000" stroke-width="9" stroke-linecap="round"/>
<path d="M394.5,121.5 L397,121.5" stroke="#000" stroke-width="7" stroke-linecap="round"/>
<path d="M593.6,314.0 L593.6,380.4 L665.8,380.4" fill="none" stroke="#000" stroke-width="4.5" stroke-linejoin="round"/>
<path d="M609.3,905.1 L609.3,1025.5 L682.6,1025.5" fill="none" stroke="#000" stroke-width="4.5" stroke-linejoin="round"/>
<text transform="translate(609.60,349.40) scale(1.045,1)" font-size="27.2" text-anchor="start" font-weight="normal" >100 pA</text>
<text transform="translate(598.60,414.40) scale(1.035,1)" font-size="27.2" text-anchor="start" font-weight="normal" >500 ms</text>
<text transform="translate(617.20,966.30) scale(1.045,1)" font-size="27.2" text-anchor="start" font-weight="normal" >100 pA</text>
<text transform="translate(598.90,1055.30) scale(1.035,1)" font-size="27.2" text-anchor="start" font-weight="normal" >500 ms</text>
<text transform="translate(5.20,28.90) scale(1.100,1)" font-size="33.5" text-anchor="start" font-weight="bold" >A</text>
<text transform="translate(822.60,28.90) scale(1.000,1)" font-size="33.5" text-anchor="start" font-weight="bold" >B</text>
<text transform="translate(6.20,652.70) scale(1.000,1)" font-size="33.5" text-anchor="start" font-weight="bold" >C</text>
<text transform="translate(822.60,652.70) scale(1.000,1)" font-size="33.5" text-anchor="start" font-weight="bold" >D</text>
<path d="M966.1,56.0 L966.1,493.5 L1455.6,493.5" fill="none" stroke="#000" stroke-width="2.7" stroke-linejoin="miter" stroke-linecap="butt"/>
<line x1="945.6" y1="480.6" x2="966.1" y2="480.6" stroke="#000" stroke-width="2.7"/>
<line x1="945.6" y1="398.8" x2="966.1" y2="398.8" stroke="#000" stroke-width="2.7"/>
<line x1="945.6" y1="317.0" x2="966.1" y2="317.0" stroke="#000" stroke-width="2.7"/>
<line x1="945.6" y1="235.2" x2="966.1" y2="235.2" stroke="#000" stroke-width="2.7"/>
<line x1="945.6" y1="153.4" x2="966.1" y2="153.4" stroke="#000" stroke-width="2.7"/>
<line x1="945.6" y1="71.6" x2="966.1" y2="71.6" stroke="#000" stroke-width="2.7"/>
<line x1="978.4" y1="493.5" x2="978.4" y2="514.5" stroke="#000" stroke-width="2.7"/>
<line x1="1073.6" y1="493.5" x2="1073.6" y2="514.5" stroke="#000" stroke-width="2.7"/>
<line x1="1168.8" y1="493.5" x2="1168.8" y2="514.5" stroke="#000" stroke-width="2.7"/>
<line x1="1264.0" y1="493.5" x2="1264.0" y2="514.5" stroke="#000" stroke-width="2.7"/>
<line x1="1359.2" y1="493.5" x2="1359.2" y2="514.5" stroke="#000" stroke-width="2.7"/>
<line x1="1454.4" y1="493.5" x2="1454.4" y2="514.5" stroke="#000" stroke-width="2.7"/>
<text transform="translate(935.90,491.20) scale(1.100,1)" font-size="30.5" text-anchor="end" font-weight="normal" >0</text>
<text transform="translate(935.90,409.40) scale(1.100,1)" font-size="30.5" text-anchor="end" font-weight="normal" >50</text>
<text transform="translate(935.90,327.60) scale(1.100,1)" font-size="30.5" text-anchor="end" font-weight="normal" >100</text>
<text transform="translate(935.90,245.80) scale(1.100,1)" font-size="30.5" text-anchor="end" font-weight="normal" >150</text>
<text transform="translate(935.90,164.00) scale(1.100,1)" font-size="30.5" text-anchor="end" font-weight="normal" >200</text>
<text transform="translate(935.90,82.20) scale(1.100,1)" font-size="30.5" text-anchor="end" font-weight="normal" >250</text>
<text transform="translate(978.40,554.00) scale(1.070,1)" font-size="30.5" text-anchor="middle" font-weight="normal" >0</text>
<text transform="translate(1073.60,554.00) scale(1.070,1)" font-size="30.5" text-anchor="middle" font-weight="normal" >4</text>
<text transform="translate(1168.80,554.00) scale(1.070,1)" font-size="30.5" text-anchor="middle" font-weight="normal" >8</text>
<text transform="translate(1264.00,554.00) scale(1.070,1)" font-size="30.5" text-anchor="middle" font-weight="normal" >12</text>
<text transform="translate(1359.20,554.00) scale(1.070,1)" font-size="30.5" text-anchor="middle" font-weight="normal" >16</text>
<text transform="translate(1454.40,554.00) scale(1.070,1)" font-size="30.5" text-anchor="middle" font-weight="normal" >20</text>
<text transform="translate(1217.00,589.60) scale(1.000,1)" font-size="30.0" text-anchor="middle" font-weight="normal" >N of pulses</text>
<text transform="translate(844,269.75) rotate(-90) scale(0.953,1)" font-size="30" text-anchor="middle">mGluR1-EPSC ampl (pA)</text>
<path d="M966.0,689.0 L966.0,1138.6 L1448.4,1138.6" fill="none" stroke="#000" stroke-width="2.7" stroke-linejoin="miter" stroke-linecap="butt"/>
<line x1="945.6" y1="690.4" x2="966.0" y2="690.4" stroke="#000" stroke-width="2.7"/>
<line x1="945.6" y1="763.0" x2="966.0" y2="763.0" stroke="#000" stroke-width="2.7"/>
<line x1="945.6" y1="835.6" x2="966.0" y2="835.6" stroke="#000" stroke-width="2.7"/>
<line x1="945.6" y1="908.2" x2="966.0" y2="908.2" stroke="#000" stroke-width="2.7"/>
<line x1="945.6" y1="980.8" x2="966.0" y2="980.8" stroke="#000" stroke-width="2.7"/>
<line x1="945.6" y1="1053.4" x2="966.0" y2="1053.4" stroke="#000" stroke-width="2.7"/>
<line x1="945.6" y1="1126.0" x2="966.0" y2="1126.0" stroke="#000" stroke-width="2.7"/>
<line x1="1011.5" y1="1138.6" x2="1011.5" y2="1159.6" stroke="#000" stroke-width="2.7"/>
<line x1="1112.6" y1="1138.6" x2="1112.6" y2="1159.6" stroke="#000" stroke-width="2.7"/>
<line x1="1214.2" y1="1138.6" x2="1214.2" y2="1159.6" stroke="#000" stroke-width="2.7"/>
<line x1="1314.8" y1="1138.6" x2="1314.8" y2="1159.6" stroke="#000" stroke-width="2.7"/>
<line x1="1416.3" y1="1138.6" x2="1416.3" y2="1159.6" stroke="#000" stroke-width="2.7"/>
<text transform="translate(935.90,701.00) scale(1.100,1)" font-size="30.5" text-anchor="end" font-weight="normal" >140</text>
<text transform="translate(935.90,773.60) scale(1.100,1)" font-size="30.5" text-anchor="end" font-weight="normal" >120</text>
<text transform="translate(935.90,846.20) scale(1.100,1)" font-size="30.5" text-anchor="end" font-weight="normal" >100</text>
<text transform="translate(935.90,918.80) scale(1.100,1)" font-size="30.5" text-anchor="end" font-weight="normal" >80</text>
<text transform="translate(935.90,991.40) scale(1.100,1)" font-size="30.5" text-anchor="end" font-weight="normal" >60</text>
<text transform="translate(935.90,1064.00) scale(1.100,1)" font-size="30.5" text-anchor="end" font-weight="normal" >40</text>
<text transform="translate(935.90,1136.60) scale(1.100,1)" font-size="30.5" text-anchor="end" font-weight="normal" >20</text>
<text transform="translate(1011.50,1199.30) scale(1.070,1)" font-size="30.5" text-anchor="middle" font-weight="normal" >25</text>
<text transform="translate(1112.60,1199.30) scale(1.070,1)" font-size="30.5" text-anchor="middle" font-weight="normal" >50</text>
<text transform="translate(1214.20,1199.30) scale(1.070,1)" font-size="30.5" text-anchor="middle" font-weight="normal" >100</text>
<text transform="translate(1314.80,1199.30) scale(1.070,1)" font-size="30.5" text-anchor="middle" font-weight="normal" >200</text>
<text transform="translate(1416.30,1199.30) scale(1.070,1)" font-size="30.5" text-anchor="middle" font-weight="normal" >400</text>
<text transform="translate(1213.50,1236.80) scale(1.020,1)" font-size="30.0" text-anchor="middle" font-weight="normal" >frequency (Hz)</text>
<text transform="translate(844,908.25) rotate(-90) scale(0.952,1)" font-size="30" text-anchor="middle">mGluR-EPSC ampl. (pA)</text>
<line x1="1073.7" y1="416.5" x2="1073.7" y2="454.2" stroke="#000" stroke-width="2.7"/><line x1="1065.2" y1="416.5" x2="1082.2" y2="416.5" stroke="#000" stroke-width="2.7"/><line x1="1065.2" y1="454.2" x2="1082.2" y2="454.2" stroke="#000" stroke-width="2.7"/>
<line x1="1073.7" y1="334.6" x2="1073.7" y2="422.6" stroke="#000" stroke-width="2.7"/><line x1="1065.2" y1="334.6" x2="1082.2" y2="334.6" stroke="#000" stroke-width="2.7"/><line x1="1065.2" y1="422.6" x2="1082.2" y2="422.6" stroke="#000" stroke-width="2.7"/>
<line x1="1169.2" y1="233.3" x2="1169.2" y2="331.7" stroke="#000" stroke-width="2.7"/><line x1="1160.7" y1="233.3" x2="1177.7" y2="233.3" stroke="#000" stroke-width="2.7"/><line x1="1160.7" y1="331.7" x2="1177.7" y2="331.7" stroke="#000" stroke-width="2.7"/>
<line x1="1169.2" y1="217.7" x2="1169.2" y2="367.4" stroke="#000" stroke-width="2.7"/><line x1="1160.7" y1="217.7" x2="1177.7" y2="217.7" stroke="#000" stroke-width="2.7"/><line x1="1160.7" y1="367.4" x2="1177.7" y2="367.4" stroke="#000" stroke-width="2.7"/>
<line x1="1264.1" y1="179.5" x2="1264.1" y2="314.3" stroke="#000" stroke-width="2.7"/><line x1="1255.6" y1="179.5" x2="1272.6" y2="179.5" stroke="#000" stroke-width="2.7"/><line x1="1255.6" y1="314.3" x2="1272.6" y2="314.3" stroke="#000" stroke-width="2.7"/>
<line x1="1264.1" y1="118.0" x2="1264.1" y2="338.9" stroke="#000" stroke-width="2.7"/><line x1="1255.6" y1="118.0" x2="1272.6" y2="118.0" stroke="#000" stroke-width="2.7"/><line x1="1255.6" y1="338.9" x2="1272.6" y2="338.9" stroke="#000" stroke-width="2.7"/>
<line x1="1359.6" y1="104.7" x2="1359.6" y2="269.5" stroke="#000" stroke-width="2.7"/><line x1="1351.1" y1="104.7" x2="1368.1" y2="104.7" stroke="#000" stroke-width="2.7"/><line x1="1351.1" y1="269.5" x2="1368.1" y2="269.5" stroke="#000" stroke-width="2.7"/>
<line x1="1359.6" y1="89.4" x2="1359.6" y2="334.3" stroke="#000" stroke-width="2.7"/><line x1="1351.1" y1="89.4" x2="1368.1" y2="89.4" stroke="#000" stroke-width="2.7"/><line x1="1351.1" y1="334.3" x2="1368.1" y2="334.3" stroke="#000" stroke-width="2.7"/>
<line x1="1454.8" y1="76.3" x2="1454.8" y2="257.0" stroke="#000" stroke-width="2.7"/><line x1="1446.3" y1="76.3" x2="1463.3" y2="76.3" stroke="#000" stroke-width="2.7"/><line x1="1446.3" y1="257.0" x2="1463.3" y2="257.0" stroke="#000" stroke-width="2.7"/>
<line x1="1454.8" y1="57.4" x2="1454.8" y2="322.2" stroke="#000" stroke-width="2.7"/><line x1="1446.3" y1="57.4" x2="1463.3" y2="57.4" stroke="#000" stroke-width="2.7"/><line x1="1446.3" y1="322.2" x2="1463.3" y2="322.2" stroke="#000" stroke-width="2.7"/>
<path d="M1073.7,435.4 L1169.2,282.4 L1264.1,246.9 L1359.6,187.1 L1454.8,166.5" fill="none" stroke="#000" stroke-width="2.9" stroke-linecap="round" stroke-dasharray="0 5.4"/>
<path d="M1073.7,378.6 L1169.2,292.5 L1264.1,228.5 L1359.6,211.9 L1454.8,189.8" fill="none" stroke="#000" stroke-width="2.9" stroke-linecap="round" stroke-dasharray="0 5.4"/>
<circle cx="1073.7" cy="435.4" r="7.6" fill="none" stroke="#000" stroke-width="1.5"/>
<path d="M1073.7,367.6 L1083.7,383.2 L1063.7,383.2 Z" fill="#000"/>
<circle cx="1169.2" cy="282.4" r="7.6" fill="none" stroke="#000" stroke-width="1.5"/>
<path d="M1169.2,281.3 L1179.2,296.9 L1159.2,296.9 Z" fill="#000"/>
<circle cx="1264.1" cy="246.9" r="7.6" fill="none" stroke="#000" stroke-width="1.5"/>
<path d="M1264.1,217.7 L1274.1,233.3 L1254.1,233.3 Z" fill="#000"/>
<circle cx="1359.6" cy="187.1" r="7.6" fill="none" stroke="#000" stroke-width="1.5"/>
<path d="M1359.6,201.2 L1369.6,216.8 L1349.6,216.8 Z" fill="#000"/>
<circle cx="1454.8" cy="166.5" r="7.6" fill="none" stroke="#000" stroke-width="1.5"/>
<path d="M1454.8,178.8 L1464.8,194.4 L1444.8,194.4 Z" fill="#000"/>
<line x1="1011.5" y1="997.0" x2="1011.5" y2="1024.4" stroke="#000" stroke-width="2.7"/><line x1="1003.0" y1="997.0" x2="1020.0" y2="997.0" stroke="#000" stroke-width="2.7"/><line x1="1003.0" y1="1024.4" x2="1020.0" y2="1024.4" stroke="#000" stroke-width="2.7"/>
<line x1="1011.5" y1="1010.0" x2="1011.5" y2="1096.0" stroke="#000" stroke-width="2.7"/><line x1="1003.0" y1="1010.0" x2="1020.0" y2="1010.0" stroke="#000" stroke-width="2.7"/><line x1="1003.0" y1="1096.0" x2="1020.0" y2="1096.0" stroke="#000" stroke-width="2.7"/>
<line x1="1112.6" y1="899.0" x2="1112.6" y2="910.8" stroke="#000" stroke-width="2.7"/><line x1="1104.1" y1="899.0" x2="1121.1" y2="899.0" stroke="#000" stroke-width="2.7"/><line x1="1104.1" y1="910.8" x2="1121.1" y2="910.8" stroke="#000" stroke-width="2.7"/>
<line x1="1112.6" y1="880.0" x2="1112.6" y2="1001.6" stroke="#000" stroke-width="2.7"/><line x1="1104.1" y1="880.0" x2="1121.1" y2="880.0" stroke="#000" stroke-width="2.7"/><line x1="1104.1" y1="1001.6" x2="1121.1" y2="1001.6" stroke="#000" stroke-width="2.7"/>
<line x1="1214.2" y1="780.7" x2="1214.2" y2="833.1" stroke="#000" stroke-width="2.7"/><line x1="1205.7" y1="780.7" x2="1222.7" y2="780.7" stroke="#000" stroke-width="2.7"/><line x1="1205.7" y1="833.1" x2="1222.7" y2="833.1" stroke="#000" stroke-width="2.7"/>
<line x1="1214.2" y1="752.4" x2="1214.2" y2="888.2" stroke="#000" stroke-width="2.7"/><line x1="1205.7" y1="752.4" x2="1222.7" y2="752.4" stroke="#000" stroke-width="2.7"/><line x1="1205.7" y1="888.2" x2="1222.7" y2="888.2" stroke="#000" stroke-width="2.7"/>
<line x1="1314.8" y1="775.3" x2="1314.8" y2="814.8" stroke="#000" stroke-width="2.7"/><line x1="1306.3" y1="775.3" x2="1323.3" y2="775.3" stroke="#000" stroke-width="2.7"/><line x1="1306.3" y1="814.8" x2="1323.3" y2="814.8" stroke="#000" stroke-width="2.7"/>
<line x1="1314.8" y1="719.8" x2="1314.8" y2="876.8" stroke="#000" stroke-width="2.7"/><line x1="1306.3" y1="719.8" x2="1323.3" y2="719.8" stroke="#000" stroke-width="2.7"/><line x1="1306.3" y1="876.8" x2="1323.3" y2="876.8" stroke="#000" stroke-width="2.7"/>
<line x1="1416.3" y1="827.5" x2="1416.3" y2="851.2" stroke="#000" stroke-width="2.7"/><line x1="1407.8" y1="827.5" x2="1424.8" y2="827.5" stroke="#000" stroke-width="2.7"/><line x1="1407.8" y1="851.2" x2="1424.8" y2="851.2" stroke="#000" stroke-width="2.7"/>
<line x1="1416.3" y1="787.8" x2="1416.3" y2="937.7" stroke="#000" stroke-width="2.7"/><line x1="1407.8" y1="787.8" x2="1424.8" y2="787.8" stroke="#000" stroke-width="2.7"/><line x1="1407.8" y1="937.7" x2="1424.8" y2="937.7" stroke="#000" stroke-width="2.7"/>
<path d="M1011.5,1010.4 L1112.6,904.4 L1214.2,806.6 L1314.8,795.3 L1416.3,839.2" fill="none" stroke="#000" stroke-width="2.9" stroke-linecap="round" stroke-dasharray="0 5.4"/>
<path d="M1011.5,1053.4 L1112.6,940.8 L1214.2,820.3 L1314.8,798.3 L1416.3,862.8" fill="none" stroke="#000" stroke-width="2.9" stroke-linecap="round" stroke-dasharray="0 5.4"/>
<circle cx="1011.5" cy="1010.4" r="7.6" fill="none" stroke="#000" stroke-width="1.5"/>
<path d="M1011.5,1043.2 L1021.5,1058.8 L1001.5,1058.8 Z" fill="#000"/>
<circle cx="1112.6" cy="904.4" r="7.6" fill="none" stroke="#000" stroke-width="1.5"/>
<path d="M1112.6,930.2 L1122.6,945.8 L1102.6,945.8 Z" fill="#000"/>
<circle cx="1214.2" cy="806.6" r="7.6" fill="none" stroke="#000" stroke-width="1.5"/>
<path d="M1214.2,809.3 L1224.2,824.9 L1204.2,824.9 Z" fill="#000"/>
<circle cx="1314.8" cy="795.3" r="7.6" fill="none" stroke="#000" stroke-width="1.5"/>
<path d="M1314.8,786.5 L1324.8,802.1 L1304.8,802.1 Z" fill="#000"/>
<circle cx="1416.3" cy="839.2" r="7.6" fill="none" stroke="#000" stroke-width="1.5"/>
<path d="M1416.3,851.8 L1426.3,867.4 L1406.3,867.4 Z" fill="#000"/>
</svg>
</body></html>
